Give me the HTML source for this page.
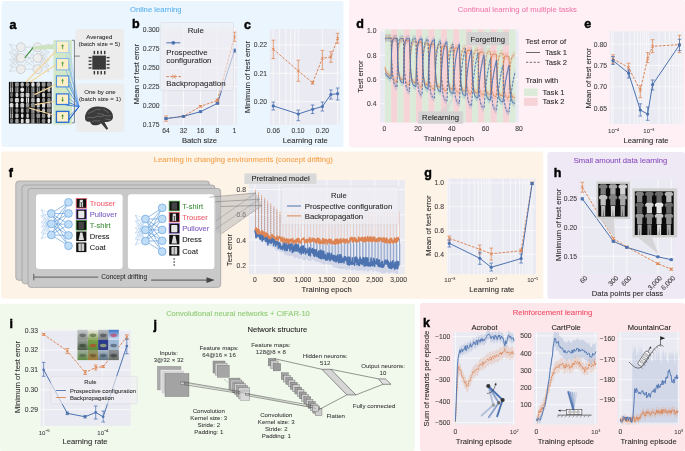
<!DOCTYPE html><html><head><meta charset="utf-8"><style>
html,body{margin:0;padding:0;background:#fff;width:685px;height:451px;overflow:hidden}
svg{display:block;will-change:transform} text{font-family:"Liberation Sans", sans-serif}
</style></head><body><svg width="685" height="451" viewBox="0 0 685 451">
<rect x="1.50" y="1.00" width="342.00" height="146.00" fill="#EAF5FE" stroke="none" stroke-width="0" rx="2.5"/>
<rect x="349.00" y="0.00" width="336.00" height="147.50" fill="#FEF0F4" stroke="none" stroke-width="0" rx="2.5"/>
<rect x="1.00" y="151.40" width="542.30" height="147.30" fill="#FEF3E7" stroke="none" stroke-width="0" rx="2.5"/>
<rect x="547.40" y="152.00" width="137.60" height="146.80" fill="#EFE8F5" stroke="none" stroke-width="0" rx="2.5"/>
<rect x="0.00" y="303.70" width="415.00" height="147.30" fill="#F1F8EC" stroke="none" stroke-width="0" rx="2.5"/>
<rect x="420.00" y="303.00" width="265.00" height="148.00" fill="#FEE7EA" stroke="none" stroke-width="0" rx="2.5"/>
<text x="155.80" y="12.17" font-size="7.7" text-anchor="middle" fill="#5BB2EC" font-weight="normal" letter-spacing="0.00" stroke="#5BB2EC" stroke-width="0.08">Online learning</text>
<text x="517.30" y="12.27" font-size="7.7" text-anchor="middle" fill="#F27BB0" font-weight="normal" letter-spacing="0.00" stroke="#F27BB0" stroke-width="0.08">Continual learning of multiple tasks</text>
<text x="243.30" y="162.37" font-size="7.7" text-anchor="middle" fill="#F5A04A" font-weight="normal" letter-spacing="0.00" stroke="#F5A04A" stroke-width="0.08">Learning in changing environments (concept drifting)</text>
<text x="620.50" y="162.77" font-size="7.7" text-anchor="middle" fill="#8A4FBF" font-weight="normal" letter-spacing="0.00" stroke="#8A4FBF" stroke-width="0.08">Small amount data learning</text>
<text x="238.00" y="315.54" font-size="7.6" text-anchor="middle" fill="#8CCB73" font-weight="normal" letter-spacing="0.00" stroke="#8CCB73" stroke-width="0.08">Convolutional neural networks + CIFAR-10</text>
<text x="552.50" y="315.37" font-size="7.7" text-anchor="middle" fill="#F04A64" font-weight="normal" letter-spacing="0.00" stroke="#F04A64" stroke-width="0.08">Reinforcement learning</text>
<text x="9.40" y="28.70" font-size="12.5" text-anchor="start" fill="#000" font-weight="bold" letter-spacing="0.00" stroke="#000" stroke-width="0.45">a</text>
<text x="132.10" y="27.70" font-size="12.5" text-anchor="start" fill="#000" font-weight="bold" letter-spacing="0.00" stroke="#000" stroke-width="0.45">b</text>
<text x="244.10" y="28.90" font-size="12.5" text-anchor="start" fill="#000" font-weight="bold" letter-spacing="0.00" stroke="#000" stroke-width="0.45">c</text>
<text x="356.30" y="27.70" font-size="12.5" text-anchor="start" fill="#000" font-weight="bold" letter-spacing="0.00" stroke="#000" stroke-width="0.45">d</text>
<text x="584.20" y="27.70" font-size="12.5" text-anchor="start" fill="#000" font-weight="bold" letter-spacing="0.00" stroke="#000" stroke-width="0.45">e</text>
<text x="8.80" y="177.30" font-size="12.5" text-anchor="start" fill="#000" font-weight="bold" letter-spacing="0.00" stroke="#000" stroke-width="0.45">f</text>
<text x="424.20" y="177.10" font-size="12.5" text-anchor="start" fill="#000" font-weight="bold" letter-spacing="0.00" stroke="#000" stroke-width="0.45">g</text>
<text x="553.80" y="177.40" font-size="12.5" text-anchor="start" fill="#000" font-weight="bold" letter-spacing="0.00" stroke="#000" stroke-width="0.45">h</text>
<text x="9.40" y="327.50" font-size="12.5" text-anchor="start" fill="#000" font-weight="bold" letter-spacing="0.00" stroke="#000" stroke-width="0.45">i</text>
<text x="153.40" y="329.00" font-size="12.5" text-anchor="start" fill="#000" font-weight="bold" letter-spacing="0.00" stroke="#000" stroke-width="0.45">j</text>
<text x="422.90" y="326.90" font-size="12.5" text-anchor="start" fill="#000" font-weight="bold" letter-spacing="0.00" stroke="#000" stroke-width="0.45">k</text>
<line x1="9.50" y1="44.00" x2="20.90" y2="47.20" stroke="#c4c4c4" stroke-width="0.4"/>
<line x1="9.50" y1="52.00" x2="20.90" y2="47.20" stroke="#c4c4c4" stroke-width="0.4"/>
<line x1="9.50" y1="60.00" x2="20.90" y2="47.20" stroke="#c4c4c4" stroke-width="0.4"/>
<line x1="9.50" y1="66.00" x2="20.90" y2="47.20" stroke="#c4c4c4" stroke-width="0.4"/>
<line x1="9.50" y1="72.00" x2="20.90" y2="47.20" stroke="#c4c4c4" stroke-width="0.4"/>
<line x1="9.50" y1="44.00" x2="20.90" y2="58.00" stroke="#c4c4c4" stroke-width="0.4"/>
<line x1="9.50" y1="52.00" x2="20.90" y2="58.00" stroke="#c4c4c4" stroke-width="0.4"/>
<line x1="9.50" y1="60.00" x2="20.90" y2="58.00" stroke="#c4c4c4" stroke-width="0.4"/>
<line x1="9.50" y1="66.00" x2="20.90" y2="58.00" stroke="#c4c4c4" stroke-width="0.4"/>
<line x1="9.50" y1="72.00" x2="20.90" y2="58.00" stroke="#c4c4c4" stroke-width="0.4"/>
<line x1="9.50" y1="44.00" x2="20.90" y2="69.20" stroke="#c4c4c4" stroke-width="0.4"/>
<line x1="9.50" y1="52.00" x2="20.90" y2="69.20" stroke="#c4c4c4" stroke-width="0.4"/>
<line x1="9.50" y1="60.00" x2="20.90" y2="69.20" stroke="#c4c4c4" stroke-width="0.4"/>
<line x1="9.50" y1="66.00" x2="20.90" y2="69.20" stroke="#c4c4c4" stroke-width="0.4"/>
<line x1="9.50" y1="72.00" x2="20.90" y2="69.20" stroke="#c4c4c4" stroke-width="0.4"/>
<line x1="37.50" y1="47.20" x2="49.00" y2="44.00" stroke="#c4c4c4" stroke-width="0.4"/>
<line x1="37.50" y1="47.20" x2="49.00" y2="52.00" stroke="#c4c4c4" stroke-width="0.4"/>
<line x1="37.50" y1="47.20" x2="49.00" y2="60.00" stroke="#c4c4c4" stroke-width="0.4"/>
<line x1="37.50" y1="47.20" x2="49.00" y2="66.00" stroke="#c4c4c4" stroke-width="0.4"/>
<line x1="37.50" y1="47.20" x2="49.00" y2="72.00" stroke="#c4c4c4" stroke-width="0.4"/>
<line x1="37.50" y1="58.00" x2="49.00" y2="44.00" stroke="#c4c4c4" stroke-width="0.4"/>
<line x1="37.50" y1="58.00" x2="49.00" y2="52.00" stroke="#c4c4c4" stroke-width="0.4"/>
<line x1="37.50" y1="58.00" x2="49.00" y2="60.00" stroke="#c4c4c4" stroke-width="0.4"/>
<line x1="37.50" y1="58.00" x2="49.00" y2="66.00" stroke="#c4c4c4" stroke-width="0.4"/>
<line x1="37.50" y1="58.00" x2="49.00" y2="72.00" stroke="#c4c4c4" stroke-width="0.4"/>
<line x1="37.50" y1="69.20" x2="49.00" y2="44.00" stroke="#c4c4c4" stroke-width="0.4"/>
<line x1="37.50" y1="69.20" x2="49.00" y2="52.00" stroke="#c4c4c4" stroke-width="0.4"/>
<line x1="37.50" y1="69.20" x2="49.00" y2="60.00" stroke="#c4c4c4" stroke-width="0.4"/>
<line x1="37.50" y1="69.20" x2="49.00" y2="66.00" stroke="#c4c4c4" stroke-width="0.4"/>
<line x1="37.50" y1="69.20" x2="49.00" y2="72.00" stroke="#c4c4c4" stroke-width="0.4"/>
<line x1="20.90" y1="47.20" x2="37.50" y2="47.20" stroke="#c2c2c2" stroke-width="0.45"/>
<line x1="20.90" y1="47.20" x2="37.50" y2="58.00" stroke="#c2c2c2" stroke-width="0.45"/>
<line x1="20.90" y1="47.20" x2="37.50" y2="69.20" stroke="#c2c2c2" stroke-width="0.45"/>
<line x1="20.90" y1="58.00" x2="37.50" y2="47.20" stroke="#c2c2c2" stroke-width="0.45"/>
<line x1="20.90" y1="58.00" x2="37.50" y2="58.00" stroke="#c2c2c2" stroke-width="0.45"/>
<line x1="20.90" y1="58.00" x2="37.50" y2="69.20" stroke="#c2c2c2" stroke-width="0.45"/>
<line x1="20.90" y1="69.20" x2="37.50" y2="47.20" stroke="#c2c2c2" stroke-width="0.45"/>
<line x1="20.90" y1="69.20" x2="37.50" y2="58.00" stroke="#c2c2c2" stroke-width="0.45"/>
<line x1="20.90" y1="69.20" x2="37.50" y2="69.20" stroke="#c2c2c2" stroke-width="0.45"/>
<circle cx="20.90" cy="47.20" r="4.4" fill="#ededed" stroke="#bcbcbc" stroke-width="0.6"/>
<circle cx="20.90" cy="58.00" r="4.4" fill="#ededed" stroke="#bcbcbc" stroke-width="0.6"/>
<circle cx="20.90" cy="69.20" r="4.4" fill="#ededed" stroke="#bcbcbc" stroke-width="0.6"/>
<circle cx="37.50" cy="47.20" r="4.4" fill="#ededed" stroke="#bcbcbc" stroke-width="0.6"/>
<circle cx="37.50" cy="58.00" r="4.4" fill="#ededed" stroke="#bcbcbc" stroke-width="0.6"/>
<circle cx="37.50" cy="69.20" r="4.4" fill="#ededed" stroke="#bcbcbc" stroke-width="0.6"/>
<line x1="24.80" y1="58.00" x2="33.40" y2="47.20" stroke="#3a8a30" stroke-width="1.1"/>
<polygon points="33.0,46.5 57.0,44.0 57.0,49.0 33.0,49.5" fill="#cde3bf" stroke="none" stroke-width="0"/>
<rect x="53.50" y="39.90" width="18.50" height="84.80" fill="#d3e8c6" stroke="none" stroke-width="0" rx="0"/>
<rect x="8.90" y="81.90" width="42.70" height="41.60" fill="#0a0a0a" stroke="none" stroke-width="0" rx="0"/>
<rect x="10.07" y="82.10" width="1.25" height="5.00" fill="rgb(140,140,140)" stroke="none" stroke-width="0" rx="0"/>
<rect x="11.82" y="82.10" width="1.25" height="5.00" fill="rgb(140,140,140)" stroke="none" stroke-width="0" rx="0"/>
<rect x="10.07" y="87.30" width="1.25" height="5.00" fill="rgb(188,188,188)" stroke="none" stroke-width="0" rx="0"/>
<rect x="11.82" y="87.30" width="1.25" height="5.00" fill="rgb(188,188,188)" stroke="none" stroke-width="0" rx="0"/>
<ellipse cx="11.57" cy="94.90" rx="1.48" ry="2.30" fill="rgb(111,111,111)"/>
<ellipse cx="11.57" cy="100.10" rx="1.63" ry="2.30" fill="rgb(140,140,140)"/>
<rect x="9.82" y="103.10" width="3.49" height="4.50" fill="rgb(218,218,218)" stroke="none" stroke-width="0" rx="1.2"/>
<rect x="10.07" y="108.10" width="1.25" height="5.00" fill="rgb(129,129,129)" stroke="none" stroke-width="0" rx="0"/>
<rect x="11.82" y="108.10" width="1.25" height="5.00" fill="rgb(129,129,129)" stroke="none" stroke-width="0" rx="0"/>
<rect x="10.07" y="113.30" width="1.25" height="5.00" fill="rgb(178,178,178)" stroke="none" stroke-width="0" rx="0"/>
<rect x="11.82" y="113.30" width="1.25" height="5.00" fill="rgb(178,178,178)" stroke="none" stroke-width="0" rx="0"/>
<ellipse cx="11.57" cy="120.90" rx="1.71" ry="2.30" fill="rgb(118,118,118)"/>
<rect x="15.00" y="82.30" width="3.81" height="4.50" fill="rgb(149,149,149)" stroke="none" stroke-width="0" rx="1.2"/>
<rect x="15.41" y="87.30" width="1.25" height="5.00" fill="rgb(171,171,171)" stroke="none" stroke-width="0" rx="0"/>
<rect x="17.16" y="87.30" width="1.25" height="5.00" fill="rgb(171,171,171)" stroke="none" stroke-width="0" rx="0"/>
<ellipse cx="16.91" cy="94.90" rx="1.58" ry="2.30" fill="rgb(202,202,202)"/>
<rect x="14.95" y="97.90" width="3.91" height="4.50" fill="rgb(214,214,214)" stroke="none" stroke-width="0" rx="1.2"/>
<rect x="15.51" y="103.10" width="2.79" height="4.50" fill="rgb(224,224,224)" stroke="none" stroke-width="0" rx="1.2"/>
<ellipse cx="16.91" cy="110.50" rx="1.61" ry="2.30" fill="rgb(138,138,138)"/>
<rect x="15.25" y="113.50" width="3.31" height="4.50" fill="rgb(191,191,191)" stroke="none" stroke-width="0" rx="1.2"/>
<rect x="15.20" y="118.70" width="3.42" height="4.50" fill="rgb(160,160,160)" stroke="none" stroke-width="0" rx="1.2"/>
<ellipse cx="22.24" cy="84.50" rx="1.78" ry="2.30" fill="rgb(185,185,185)"/>
<ellipse cx="22.24" cy="89.70" rx="1.99" ry="2.30" fill="rgb(230,230,230)"/>
<rect x="20.34" y="92.70" width="3.80" height="4.50" fill="rgb(197,197,197)" stroke="none" stroke-width="0" rx="1.2"/>
<ellipse cx="22.24" cy="100.10" rx="1.70" ry="2.30" fill="rgb(235,235,235)"/>
<rect x="20.36" y="103.10" width="3.76" height="4.50" fill="rgb(202,202,202)" stroke="none" stroke-width="0" rx="1.2"/>
<rect x="20.90" y="108.30" width="2.69" height="4.50" fill="rgb(184,184,184)" stroke="none" stroke-width="0" rx="1.2"/>
<ellipse cx="22.24" cy="115.70" rx="1.36" ry="2.30" fill="rgb(221,221,221)"/>
<rect x="20.84" y="118.70" width="2.81" height="4.50" fill="rgb(214,214,214)" stroke="none" stroke-width="0" rx="1.2"/>
<ellipse cx="27.58" cy="84.50" rx="1.91" ry="2.30" fill="rgb(148,148,148)"/>
<rect x="26.08" y="87.30" width="1.25" height="5.00" fill="rgb(115,115,115)" stroke="none" stroke-width="0" rx="0"/>
<rect x="27.83" y="87.30" width="1.25" height="5.00" fill="rgb(115,115,115)" stroke="none" stroke-width="0" rx="0"/>
<rect x="25.66" y="92.70" width="3.83" height="4.50" fill="rgb(203,203,203)" stroke="none" stroke-width="0" rx="1.2"/>
<rect x="26.08" y="97.70" width="1.25" height="5.00" fill="rgb(237,237,237)" stroke="none" stroke-width="0" rx="0"/>
<rect x="27.83" y="97.70" width="1.25" height="5.00" fill="rgb(237,237,237)" stroke="none" stroke-width="0" rx="0"/>
<rect x="25.86" y="103.10" width="3.44" height="4.50" fill="rgb(150,150,150)" stroke="none" stroke-width="0" rx="1.2"/>
<rect x="26.00" y="108.30" width="3.17" height="4.50" fill="rgb(114,114,114)" stroke="none" stroke-width="0" rx="1.2"/>
<rect x="26.25" y="113.50" width="2.66" height="4.50" fill="rgb(189,189,189)" stroke="none" stroke-width="0" rx="1.2"/>
<rect x="25.61" y="118.70" width="3.94" height="4.50" fill="rgb(222,222,222)" stroke="none" stroke-width="0" rx="1.2"/>
<rect x="31.30" y="82.30" width="3.24" height="4.50" fill="rgb(226,226,226)" stroke="none" stroke-width="0" rx="1.2"/>
<rect x="31.42" y="87.30" width="1.25" height="5.00" fill="rgb(177,177,177)" stroke="none" stroke-width="0" rx="0"/>
<rect x="33.17" y="87.30" width="1.25" height="5.00" fill="rgb(177,177,177)" stroke="none" stroke-width="0" rx="0"/>
<rect x="31.42" y="92.50" width="1.25" height="5.00" fill="rgb(182,182,182)" stroke="none" stroke-width="0" rx="0"/>
<rect x="33.17" y="92.50" width="1.25" height="5.00" fill="rgb(182,182,182)" stroke="none" stroke-width="0" rx="0"/>
<rect x="31.11" y="97.90" width="3.61" height="4.50" fill="rgb(175,175,175)" stroke="none" stroke-width="0" rx="1.2"/>
<rect x="30.93" y="103.10" width="3.97" height="4.50" fill="rgb(140,140,140)" stroke="none" stroke-width="0" rx="1.2"/>
<rect x="31.42" y="108.10" width="1.25" height="5.00" fill="rgb(177,177,177)" stroke="none" stroke-width="0" rx="0"/>
<rect x="33.17" y="108.10" width="1.25" height="5.00" fill="rgb(177,177,177)" stroke="none" stroke-width="0" rx="0"/>
<rect x="31.42" y="113.30" width="1.25" height="5.00" fill="rgb(163,163,163)" stroke="none" stroke-width="0" rx="0"/>
<rect x="33.17" y="113.30" width="1.25" height="5.00" fill="rgb(163,163,163)" stroke="none" stroke-width="0" rx="0"/>
<rect x="31.42" y="118.50" width="1.25" height="5.00" fill="rgb(190,190,190)" stroke="none" stroke-width="0" rx="0"/>
<rect x="33.17" y="118.50" width="1.25" height="5.00" fill="rgb(190,190,190)" stroke="none" stroke-width="0" rx="0"/>
<rect x="36.48" y="82.30" width="3.55" height="4.50" fill="rgb(191,191,191)" stroke="none" stroke-width="0" rx="1.2"/>
<rect x="36.76" y="87.30" width="1.25" height="5.00" fill="rgb(155,155,155)" stroke="none" stroke-width="0" rx="0"/>
<rect x="38.51" y="87.30" width="1.25" height="5.00" fill="rgb(155,155,155)" stroke="none" stroke-width="0" rx="0"/>
<rect x="36.48" y="92.70" width="3.55" height="4.50" fill="rgb(112,112,112)" stroke="none" stroke-width="0" rx="1.2"/>
<rect x="36.64" y="97.90" width="3.24" height="4.50" fill="rgb(235,235,235)" stroke="none" stroke-width="0" rx="1.2"/>
<rect x="36.70" y="103.10" width="3.11" height="4.50" fill="rgb(187,187,187)" stroke="none" stroke-width="0" rx="1.2"/>
<rect x="36.54" y="108.30" width="3.43" height="4.50" fill="rgb(150,150,150)" stroke="none" stroke-width="0" rx="1.2"/>
<rect x="36.42" y="113.50" width="3.68" height="4.50" fill="rgb(149,149,149)" stroke="none" stroke-width="0" rx="1.2"/>
<rect x="36.76" y="118.50" width="1.25" height="5.00" fill="rgb(113,113,113)" stroke="none" stroke-width="0" rx="0"/>
<rect x="38.51" y="118.50" width="1.25" height="5.00" fill="rgb(113,113,113)" stroke="none" stroke-width="0" rx="0"/>
<rect x="41.73" y="82.30" width="3.73" height="4.50" fill="rgb(150,150,150)" stroke="none" stroke-width="0" rx="1.2"/>
<rect x="41.99" y="87.50" width="3.21" height="4.50" fill="rgb(141,141,141)" stroke="none" stroke-width="0" rx="1.2"/>
<rect x="42.07" y="92.70" width="3.05" height="4.50" fill="rgb(200,200,200)" stroke="none" stroke-width="0" rx="1.2"/>
<ellipse cx="43.59" cy="100.10" rx="1.61" ry="2.30" fill="rgb(153,153,153)"/>
<rect x="42.06" y="103.10" width="3.07" height="4.50" fill="rgb(221,221,221)" stroke="none" stroke-width="0" rx="1.2"/>
<ellipse cx="43.59" cy="110.50" rx="1.62" ry="2.30" fill="rgb(194,194,194)"/>
<rect x="41.92" y="113.50" width="3.34" height="4.50" fill="rgb(139,139,139)" stroke="none" stroke-width="0" rx="1.2"/>
<ellipse cx="43.59" cy="120.90" rx="1.89" ry="2.30" fill="rgb(134,134,134)"/>
<rect x="47.07" y="82.30" width="3.73" height="4.50" fill="rgb(133,133,133)" stroke="none" stroke-width="0" rx="1.2"/>
<ellipse cx="48.93" cy="89.70" rx="1.54" ry="2.30" fill="rgb(193,193,193)"/>
<rect x="47.08" y="92.70" width="3.71" height="4.50" fill="rgb(126,126,126)" stroke="none" stroke-width="0" rx="1.2"/>
<rect x="47.34" y="97.90" width="3.18" height="4.50" fill="rgb(145,145,145)" stroke="none" stroke-width="0" rx="1.2"/>
<rect x="46.99" y="103.10" width="3.89" height="4.50" fill="rgb(164,164,164)" stroke="none" stroke-width="0" rx="1.2"/>
<rect x="46.97" y="108.30" width="3.92" height="4.50" fill="rgb(130,130,130)" stroke="none" stroke-width="0" rx="1.2"/>
<ellipse cx="48.93" cy="115.70" rx="1.60" ry="2.30" fill="rgb(224,224,224)"/>
<ellipse cx="48.93" cy="120.90" rx="1.46" ry="2.30" fill="rgb(233,233,233)"/>
<line x1="26.00" y1="82.00" x2="57.00" y2="50.00" stroke="#f3d79c" stroke-width="1.2"/>
<line x1="30.00" y1="82.00" x2="57.00" y2="64.00" stroke="#f3d79c" stroke-width="1.2"/>
<line x1="34.40" y1="94.60" x2="57.00" y2="84.00" stroke="#f3d79c" stroke-width="1.2"/>
<line x1="35.00" y1="104.60" x2="57.00" y2="101.00" stroke="#f3d79c" stroke-width="1.2"/>
<line x1="28.90" y1="108.00" x2="57.00" y2="116.00" stroke="#f3d79c" stroke-width="1.2"/>
<rect x="75.30" y="29.00" width="48.60" height="50.60" fill="#ececec" stroke="none" stroke-width="0" rx="3"/>
<rect x="75.90" y="83.50" width="48.40" height="48.50" fill="#ececec" stroke="none" stroke-width="0" rx="3"/>
<line x1="68.80" y1="50.60" x2="79.00" y2="106.70" stroke="#a9cdf2" stroke-width="0.6"/>
<line x1="66.00" y1="53.10" x2="79.00" y2="106.70" stroke="#a9cdf2" stroke-width="0.6"/>
<line x1="69.00" y1="45.60" x2="79.00" y2="106.70" stroke="#a9cdf2" stroke-width="0.5"/>
<line x1="68.80" y1="67.90" x2="79.00" y2="106.70" stroke="#7fb2ec" stroke-width="0.7"/>
<line x1="66.00" y1="70.40" x2="79.00" y2="106.70" stroke="#7fb2ec" stroke-width="0.7"/>
<line x1="69.00" y1="63.00" x2="79.00" y2="106.70" stroke="#7fb2ec" stroke-width="0.5"/>
<line x1="68.80" y1="84.90" x2="79.00" y2="106.70" stroke="#4a8fe2" stroke-width="0.8"/>
<line x1="66.00" y1="87.40" x2="79.00" y2="106.70" stroke="#4a8fe2" stroke-width="0.8"/>
<line x1="69.00" y1="80.40" x2="79.00" y2="106.70" stroke="#4a8fe2" stroke-width="0.5"/>
<line x1="68.80" y1="102.50" x2="79.00" y2="106.70" stroke="#3378dc" stroke-width="0.9"/>
<line x1="66.00" y1="105.00" x2="79.00" y2="106.70" stroke="#3378dc" stroke-width="0.9"/>
<line x1="69.00" y1="98.40" x2="79.00" y2="106.70" stroke="#3378dc" stroke-width="0.5"/>
<line x1="68.80" y1="120.30" x2="79.00" y2="106.70" stroke="#2a6cd4" stroke-width="1.0"/>
<line x1="66.00" y1="122.80" x2="79.00" y2="106.70" stroke="#2a6cd4" stroke-width="1.0"/>
<line x1="69.00" y1="115.90" x2="79.00" y2="106.70" stroke="#2a6cd4" stroke-width="0.5"/>
<rect x="56.40" y="41.10" width="12.40" height="11.50" fill="#fdf0c8" stroke="#a9cdf2" stroke-width="0.95" rx="0"/>
<polygon points="61.2,46.2 64.0,46.2 62.6,44.2" fill="#3a8a30" stroke="none" stroke-width="0"/>
<line x1="62.60" y1="46.25" x2="62.60" y2="49.05" stroke="#3a8a30" stroke-width="0.8"/>
<rect x="56.40" y="58.50" width="12.40" height="11.40" fill="#fdf0c8" stroke="#7fb2ec" stroke-width="1.0499999999999998" rx="0"/>
<polygon points="61.2,63.6 64.0,63.6 62.6,61.6" fill="#3a8a30" stroke="none" stroke-width="0"/>
<line x1="62.60" y1="63.60" x2="62.60" y2="66.40" stroke="#3a8a30" stroke-width="0.8"/>
<rect x="56.40" y="75.90" width="12.40" height="11.00" fill="#fdf0c8" stroke="#4a8fe2" stroke-width="1.15" rx="0"/>
<polygon points="61.2,80.8 64.0,80.8 62.6,78.8" fill="#3a8a30" stroke="none" stroke-width="0"/>
<line x1="62.60" y1="80.80" x2="62.60" y2="83.60" stroke="#3a8a30" stroke-width="0.8"/>
<rect x="56.40" y="93.90" width="12.40" height="10.60" fill="#fdf0c8" stroke="#3378dc" stroke-width="1.25" rx="0"/>
<polygon points="61.2,99.8 64.0,99.8 62.6,101.8" fill="#3a8a30" stroke="none" stroke-width="0"/>
<line x1="62.60" y1="99.80" x2="62.60" y2="97.00" stroke="#3a8a30" stroke-width="0.8"/>
<rect x="56.40" y="111.40" width="12.40" height="10.90" fill="#fdf0c8" stroke="#2a6cd4" stroke-width="1.35" rx="0"/>
<polygon points="61.2,116.2 64.0,116.2 62.6,114.2" fill="#3a8a30" stroke="none" stroke-width="0"/>
<line x1="62.60" y1="116.25" x2="62.60" y2="119.05" stroke="#3a8a30" stroke-width="0.8"/>
<polyline points="72.0,40.3 74.4,40.3 74.4,122.8 72.0,122.8" fill="none" stroke="#555" stroke-width="0.7" stroke-linejoin="round"/>
<line x1="74.40" y1="56.10" x2="79.90" y2="56.10" stroke="#555" stroke-width="0.7"/>
<text x="99.30" y="39.40" font-size="6.1" text-anchor="middle" fill="#2b2b2b" font-weight="normal" letter-spacing="0.00" stroke="#2b2b2b" stroke-width="0.05">Averaged</text>
<text x="99.30" y="46.40" font-size="6.1" text-anchor="middle" fill="#2b2b2b" font-weight="normal" letter-spacing="0.00" stroke="#2b2b2b" stroke-width="0.05">(batch size = 5)</text>
<text x="100.00" y="94.00" font-size="6.1" text-anchor="middle" fill="#2b2b2b" font-weight="normal" letter-spacing="0.00" stroke="#2b2b2b" stroke-width="0.05">One by one</text>
<text x="100.00" y="101.00" font-size="6.1" text-anchor="middle" fill="#2b2b2b" font-weight="normal" letter-spacing="0.00" stroke="#2b2b2b" stroke-width="0.05">(batch size = 1)</text>
<rect x="92.30" y="55.60" width="13.60" height="14.00" fill="#3a3a3a" stroke="none" stroke-width="0" rx="0"/>
<rect x="93.60" y="50.80" width="1.50" height="3.40" fill="#3a3a3a" stroke="none" stroke-width="0" rx="0"/>
<rect x="93.60" y="71.00" width="1.50" height="3.40" fill="#3a3a3a" stroke="none" stroke-width="0" rx="0"/>
<rect x="88.60" y="56.90" width="3.00" height="1.40" fill="#3a3a3a" stroke="none" stroke-width="0" rx="0"/>
<rect x="106.60" y="56.90" width="3.00" height="1.40" fill="#3a3a3a" stroke="none" stroke-width="0" rx="0"/>
<rect x="97.05" y="50.80" width="1.50" height="3.40" fill="#3a3a3a" stroke="none" stroke-width="0" rx="0"/>
<rect x="97.05" y="71.00" width="1.50" height="3.40" fill="#3a3a3a" stroke="none" stroke-width="0" rx="0"/>
<rect x="88.60" y="60.35" width="3.00" height="1.40" fill="#3a3a3a" stroke="none" stroke-width="0" rx="0"/>
<rect x="106.60" y="60.35" width="3.00" height="1.40" fill="#3a3a3a" stroke="none" stroke-width="0" rx="0"/>
<rect x="100.50" y="50.80" width="1.50" height="3.40" fill="#3a3a3a" stroke="none" stroke-width="0" rx="0"/>
<rect x="100.50" y="71.00" width="1.50" height="3.40" fill="#3a3a3a" stroke="none" stroke-width="0" rx="0"/>
<rect x="88.60" y="63.80" width="3.00" height="1.40" fill="#3a3a3a" stroke="none" stroke-width="0" rx="0"/>
<rect x="106.60" y="63.80" width="3.00" height="1.40" fill="#3a3a3a" stroke="none" stroke-width="0" rx="0"/>
<rect x="103.95" y="50.80" width="1.50" height="3.40" fill="#3a3a3a" stroke="none" stroke-width="0" rx="0"/>
<rect x="103.95" y="71.00" width="1.50" height="3.40" fill="#3a3a3a" stroke="none" stroke-width="0" rx="0"/>
<rect x="88.60" y="67.25" width="3.00" height="1.40" fill="#3a3a3a" stroke="none" stroke-width="0" rx="0"/>
<rect x="106.60" y="67.25" width="3.00" height="1.40" fill="#3a3a3a" stroke="none" stroke-width="0" rx="0"/>
<path d="M85.2,119.5 C84,113 89,106.6 97.5,106.6 C105,106.4 112.8,109.5 113,116.5 C113.2,120.5 109.5,122.2 104.5,122 L108.2,128.8 L106.6,129.8 L101,123.2 C99.5,125 96.5,125.6 93.8,125.2 C91.5,124.8 90.2,123.2 90.2,121.8 C87.5,122 85.8,121 85.2,119.5 Z" fill="#3b3b3b"/>
<path d="M88,114 C90,111 93,113 95,110 C97,108 99,111 101,109 M103,108.5 C104,111 107,110 108,113 M87,118 C90,116 92,119 95,117 C98,115 100,118 103,116 C105,114.5 108,117 111,115.5 M92,121.5 C95,120 97,122 100,120.5 M97,113 C99,115 102,113 104,115 M105,118.5 C107,120 109,119 111,120" stroke="#9a9a9a" stroke-width="0.45" fill="none"/>
<rect x="162.30" y="28.00" width="74.90" height="97.20" fill="#EAEAF2" stroke="none" stroke-width="0" rx="0"/>
<line x1="162.30" y1="105.60" x2="237.20" y2="105.60" stroke="#ffffff" stroke-width="0.7"/>
<line x1="162.30" y1="86.50" x2="237.20" y2="86.50" stroke="#ffffff" stroke-width="0.7"/>
<line x1="162.30" y1="67.40" x2="237.20" y2="67.40" stroke="#ffffff" stroke-width="0.7"/>
<line x1="162.30" y1="48.30" x2="237.20" y2="48.30" stroke="#ffffff" stroke-width="0.7"/>
<line x1="162.30" y1="29.20" x2="237.20" y2="29.20" stroke="#ffffff" stroke-width="0.7"/>
<line x1="166.00" y1="28.00" x2="166.00" y2="125.20" stroke="#ffffff" stroke-width="0.7"/>
<line x1="183.50" y1="28.00" x2="183.50" y2="125.20" stroke="#ffffff" stroke-width="0.7"/>
<line x1="200.50" y1="28.00" x2="200.50" y2="125.20" stroke="#ffffff" stroke-width="0.7"/>
<line x1="217.50" y1="28.00" x2="217.50" y2="125.20" stroke="#ffffff" stroke-width="0.7"/>
<line x1="234.40" y1="28.00" x2="234.40" y2="125.20" stroke="#ffffff" stroke-width="0.7"/>
<text x="159.60" y="127.13" font-size="6.75" text-anchor="end" fill="#3c3c3c" font-weight="normal" letter-spacing="0.00" stroke="#3c3c3c" stroke-width="0.08">0.175</text>
<text x="159.60" y="108.03" font-size="6.75" text-anchor="end" fill="#3c3c3c" font-weight="normal" letter-spacing="0.00" stroke="#3c3c3c" stroke-width="0.08">0.200</text>
<text x="159.60" y="88.93" font-size="6.75" text-anchor="end" fill="#3c3c3c" font-weight="normal" letter-spacing="0.00" stroke="#3c3c3c" stroke-width="0.08">0.225</text>
<text x="159.60" y="69.83" font-size="6.75" text-anchor="end" fill="#3c3c3c" font-weight="normal" letter-spacing="0.00" stroke="#3c3c3c" stroke-width="0.08">0.250</text>
<text x="159.60" y="50.73" font-size="6.75" text-anchor="end" fill="#3c3c3c" font-weight="normal" letter-spacing="0.00" stroke="#3c3c3c" stroke-width="0.08">0.275</text>
<text x="159.60" y="31.63" font-size="6.75" text-anchor="end" fill="#3c3c3c" font-weight="normal" letter-spacing="0.00" stroke="#3c3c3c" stroke-width="0.08">0.300</text>
<text x="166.00" y="133.23" font-size="6.75" text-anchor="middle" fill="#3c3c3c" font-weight="normal" letter-spacing="0.00" stroke="#3c3c3c" stroke-width="0.08">64</text>
<text x="183.50" y="133.23" font-size="6.75" text-anchor="middle" fill="#3c3c3c" font-weight="normal" letter-spacing="0.00" stroke="#3c3c3c" stroke-width="0.08">32</text>
<text x="200.50" y="133.23" font-size="6.75" text-anchor="middle" fill="#3c3c3c" font-weight="normal" letter-spacing="0.00" stroke="#3c3c3c" stroke-width="0.08">16</text>
<text x="217.50" y="133.23" font-size="6.75" text-anchor="middle" fill="#3c3c3c" font-weight="normal" letter-spacing="0.00" stroke="#3c3c3c" stroke-width="0.08">8</text>
<text x="234.40" y="133.23" font-size="6.75" text-anchor="middle" fill="#3c3c3c" font-weight="normal" letter-spacing="0.00" stroke="#3c3c3c" stroke-width="0.08">1</text>
<text x="199.50" y="143.05" font-size="7.65" text-anchor="middle" fill="#2b2b2b" font-weight="normal" letter-spacing="0.00" stroke="#2b2b2b" stroke-width="0.08">Batch size</text>
<text x="136.00" y="76.75" font-size="7.65" text-anchor="middle" fill="#2b2b2b" font-weight="normal" letter-spacing="0.00" stroke="#2b2b2b" stroke-width="0.08" transform="rotate(-90 136.00 74.00)">Mean of test error</text>
<polyline points="166.0,118.6 183.5,116.3 200.5,106.4 217.5,100.3 234.4,36.8" fill="none" stroke="#DD8452" stroke-width="1.0" stroke-linejoin="round" stroke-dasharray="2.6,1.4"/>
<polyline points="166.0,118.6 183.5,116.3 200.5,111.7 217.5,103.3 234.4,50.6" fill="none" stroke="#4C72B0" stroke-width="1.0" stroke-linejoin="round"/>
<line x1="166.00" y1="115.91" x2="166.00" y2="121.26" stroke="#DD8452" stroke-width="0.75"/>
<line x1="164.20" y1="115.91" x2="167.80" y2="115.91" stroke="#DD8452" stroke-width="0.75"/>
<line x1="164.20" y1="121.26" x2="167.80" y2="121.26" stroke="#DD8452" stroke-width="0.75"/>
<line x1="164.60" y1="117.19" x2="167.40" y2="119.99" stroke="#DD8452" stroke-width="0.8"/>
<line x1="164.60" y1="119.99" x2="167.40" y2="117.19" stroke="#DD8452" stroke-width="0.8"/>
<line x1="183.50" y1="115.53" x2="183.50" y2="117.06" stroke="#DD8452" stroke-width="0.75"/>
<line x1="181.70" y1="115.53" x2="185.30" y2="115.53" stroke="#DD8452" stroke-width="0.75"/>
<line x1="181.70" y1="117.06" x2="185.30" y2="117.06" stroke="#DD8452" stroke-width="0.75"/>
<line x1="182.10" y1="114.90" x2="184.90" y2="117.70" stroke="#DD8452" stroke-width="0.8"/>
<line x1="182.10" y1="117.70" x2="184.90" y2="114.90" stroke="#DD8452" stroke-width="0.8"/>
<line x1="200.50" y1="105.60" x2="200.50" y2="107.13" stroke="#DD8452" stroke-width="0.75"/>
<line x1="198.70" y1="105.60" x2="202.30" y2="105.60" stroke="#DD8452" stroke-width="0.75"/>
<line x1="198.70" y1="107.13" x2="202.30" y2="107.13" stroke="#DD8452" stroke-width="0.75"/>
<line x1="199.10" y1="104.96" x2="201.90" y2="107.76" stroke="#DD8452" stroke-width="0.8"/>
<line x1="199.10" y1="107.76" x2="201.90" y2="104.96" stroke="#DD8452" stroke-width="0.8"/>
<line x1="217.50" y1="99.11" x2="217.50" y2="101.40" stroke="#DD8452" stroke-width="0.75"/>
<line x1="215.70" y1="99.11" x2="219.30" y2="99.11" stroke="#DD8452" stroke-width="0.75"/>
<line x1="215.70" y1="101.40" x2="219.30" y2="101.40" stroke="#DD8452" stroke-width="0.75"/>
<line x1="216.10" y1="98.85" x2="218.90" y2="101.65" stroke="#DD8452" stroke-width="0.8"/>
<line x1="216.10" y1="101.65" x2="218.90" y2="98.85" stroke="#DD8452" stroke-width="0.8"/>
<line x1="234.40" y1="32.26" x2="234.40" y2="41.42" stroke="#DD8452" stroke-width="0.75"/>
<line x1="232.60" y1="32.26" x2="236.20" y2="32.26" stroke="#DD8452" stroke-width="0.75"/>
<line x1="232.60" y1="41.42" x2="236.20" y2="41.42" stroke="#DD8452" stroke-width="0.75"/>
<line x1="233.00" y1="35.44" x2="235.80" y2="38.24" stroke="#DD8452" stroke-width="0.8"/>
<line x1="233.00" y1="38.24" x2="235.80" y2="35.44" stroke="#DD8452" stroke-width="0.8"/>
<line x1="166.00" y1="117.82" x2="166.00" y2="119.35" stroke="#4C72B0" stroke-width="0.75"/>
<line x1="164.20" y1="117.82" x2="167.80" y2="117.82" stroke="#4C72B0" stroke-width="0.75"/>
<line x1="164.20" y1="119.35" x2="167.80" y2="119.35" stroke="#4C72B0" stroke-width="0.75"/>
<circle cx="166.00" cy="118.59" r="1.6" fill="#4C72B0" stroke="none" stroke-width="0"/>
<line x1="183.50" y1="115.53" x2="183.50" y2="117.06" stroke="#4C72B0" stroke-width="0.75"/>
<line x1="181.70" y1="115.53" x2="185.30" y2="115.53" stroke="#4C72B0" stroke-width="0.75"/>
<line x1="181.70" y1="117.06" x2="185.30" y2="117.06" stroke="#4C72B0" stroke-width="0.75"/>
<circle cx="183.50" cy="116.30" r="1.6" fill="#4C72B0" stroke="none" stroke-width="0"/>
<line x1="200.50" y1="110.95" x2="200.50" y2="112.48" stroke="#4C72B0" stroke-width="0.75"/>
<line x1="198.70" y1="110.95" x2="202.30" y2="110.95" stroke="#4C72B0" stroke-width="0.75"/>
<line x1="198.70" y1="112.48" x2="202.30" y2="112.48" stroke="#4C72B0" stroke-width="0.75"/>
<circle cx="200.50" cy="111.71" r="1.6" fill="#4C72B0" stroke="none" stroke-width="0"/>
<line x1="217.50" y1="102.54" x2="217.50" y2="104.07" stroke="#4C72B0" stroke-width="0.75"/>
<line x1="215.70" y1="102.54" x2="219.30" y2="102.54" stroke="#4C72B0" stroke-width="0.75"/>
<line x1="215.70" y1="104.07" x2="219.30" y2="104.07" stroke="#4C72B0" stroke-width="0.75"/>
<circle cx="217.50" cy="103.31" r="1.6" fill="#4C72B0" stroke="none" stroke-width="0"/>
<line x1="234.40" y1="49.06" x2="234.40" y2="52.12" stroke="#4C72B0" stroke-width="0.75"/>
<line x1="232.60" y1="49.06" x2="236.20" y2="49.06" stroke="#4C72B0" stroke-width="0.75"/>
<line x1="232.60" y1="52.12" x2="236.20" y2="52.12" stroke="#4C72B0" stroke-width="0.75"/>
<circle cx="234.40" cy="50.59" r="1.6" fill="#4C72B0" stroke="none" stroke-width="0"/>
<rect x="160.30" y="22.50" width="73.20" height="68.20" fill="#EEEEF4" stroke="#d6d6de" stroke-width="0.5" rx="1.5" fill-opacity="0.6"/>
<text x="195.80" y="33.14" font-size="7.9" text-anchor="middle" fill="#2b2b2b" font-weight="normal" letter-spacing="0.00" stroke="#2b2b2b" stroke-width="0.08">Rule</text>
<line x1="166.30" y1="42.80" x2="180.30" y2="42.80" stroke="#4C72B0" stroke-width="1.0"/>
<circle cx="173.30" cy="42.80" r="1.9" fill="#4C72B0" stroke="none" stroke-width="0"/>
<text x="166.30" y="54.84" font-size="7.9" text-anchor="start" fill="#2b2b2b" font-weight="normal" letter-spacing="0.00" stroke="#2b2b2b" stroke-width="0.08">Prospective</text>
<text x="166.30" y="63.24" font-size="7.9" text-anchor="start" fill="#2b2b2b" font-weight="normal" letter-spacing="0.00" stroke="#2b2b2b" stroke-width="0.08">configuration</text>
<line x1="166.30" y1="76.60" x2="182.00" y2="76.60" stroke="#DD8452" stroke-width="1.0" stroke-dasharray="2.6,1.4"/>
<line x1="172.20" y1="74.80" x2="175.80" y2="78.40" stroke="#DD8452" stroke-width="0.9"/>
<line x1="172.20" y1="78.40" x2="175.80" y2="74.80" stroke="#DD8452" stroke-width="0.9"/>
<text x="166.30" y="86.44" font-size="7.9" text-anchor="start" fill="#2b2b2b" font-weight="normal" letter-spacing="0.00" stroke="#2b2b2b" stroke-width="0.08">Backpropagation</text>
<rect x="269.90" y="29.00" width="70.10" height="95.80" fill="#EAEAF2" stroke="none" stroke-width="0" rx="0"/>
<line x1="269.90" y1="101.70" x2="340.00" y2="101.70" stroke="#ffffff" stroke-width="0.7"/>
<line x1="269.90" y1="73.30" x2="340.00" y2="73.30" stroke="#ffffff" stroke-width="0.7"/>
<line x1="269.90" y1="44.90" x2="340.00" y2="44.90" stroke="#ffffff" stroke-width="0.7"/>
<line x1="273.20" y1="29.00" x2="273.20" y2="124.80" stroke="#ffffff" stroke-width="0.7"/>
<line x1="279.70" y1="29.00" x2="279.70" y2="124.80" stroke="#ffffff" stroke-width="0.7"/>
<line x1="285.80" y1="29.00" x2="285.80" y2="124.80" stroke="#ffffff" stroke-width="0.7"/>
<line x1="290.70" y1="29.00" x2="290.70" y2="124.80" stroke="#ffffff" stroke-width="0.7"/>
<line x1="294.90" y1="29.00" x2="294.90" y2="124.80" stroke="#ffffff" stroke-width="0.7"/>
<line x1="298.30" y1="29.00" x2="298.30" y2="124.80" stroke="#ffffff" stroke-width="0.7"/>
<line x1="322.40" y1="29.00" x2="322.40" y2="124.80" stroke="#ffffff" stroke-width="0.7"/>
<line x1="337.60" y1="29.00" x2="337.60" y2="124.80" stroke="#ffffff" stroke-width="0.7"/>
<text x="267.00" y="104.13" font-size="6.75" text-anchor="end" fill="#3c3c3c" font-weight="normal" letter-spacing="0.00" stroke="#3c3c3c" stroke-width="0.08">0.20</text>
<text x="267.00" y="75.73" font-size="6.75" text-anchor="end" fill="#3c3c3c" font-weight="normal" letter-spacing="0.00" stroke="#3c3c3c" stroke-width="0.08">0.21</text>
<text x="267.00" y="47.33" font-size="6.75" text-anchor="end" fill="#3c3c3c" font-weight="normal" letter-spacing="0.00" stroke="#3c3c3c" stroke-width="0.08">0.22</text>
<text x="273.40" y="132.83" font-size="6.75" text-anchor="middle" fill="#3c3c3c" font-weight="normal" letter-spacing="0.00" stroke="#3c3c3c" stroke-width="0.08">0.06</text>
<text x="298.00" y="132.83" font-size="6.75" text-anchor="middle" fill="#3c3c3c" font-weight="normal" letter-spacing="0.00" stroke="#3c3c3c" stroke-width="0.08">0.10</text>
<text x="322.40" y="132.83" font-size="6.75" text-anchor="middle" fill="#3c3c3c" font-weight="normal" letter-spacing="0.00" stroke="#3c3c3c" stroke-width="0.08">0.20</text>
<text x="305.30" y="143.05" font-size="7.65" text-anchor="middle" fill="#2b2b2b" font-weight="normal" letter-spacing="0.00" stroke="#2b2b2b" stroke-width="0.08">Learning rate</text>
<text x="247.20" y="79.75" font-size="7.65" text-anchor="middle" fill="#2b2b2b" font-weight="normal" letter-spacing="0.00" stroke="#2b2b2b" stroke-width="0.08" transform="rotate(-90 247.20 77.00)">Minimum of test error</text>
<polyline points="273.3,49.3 298.3,70.9 312.6,82.8 322.4,58.3 330.9,57.0 337.6,38.4" fill="none" stroke="#DD8452" stroke-width="1.0" stroke-linejoin="round" stroke-dasharray="2.6,1.4"/>
<polyline points="273.3,105.9 298.3,114.0 312.6,109.3 322.4,106.5 330.9,94.5 337.6,93.7" fill="none" stroke="#4C72B0" stroke-width="1.0" stroke-linejoin="round"/>
<line x1="273.30" y1="40.20" x2="273.30" y2="58.60" stroke="#DD8452" stroke-width="0.75"/>
<line x1="271.50" y1="40.20" x2="275.10" y2="40.20" stroke="#DD8452" stroke-width="0.75"/>
<line x1="271.50" y1="58.60" x2="275.10" y2="58.60" stroke="#DD8452" stroke-width="0.75"/>
<line x1="271.90" y1="47.90" x2="274.70" y2="50.70" stroke="#DD8452" stroke-width="0.8"/>
<line x1="271.90" y1="50.70" x2="274.70" y2="47.90" stroke="#DD8452" stroke-width="0.8"/>
<line x1="298.30" y1="60.20" x2="298.30" y2="81.30" stroke="#DD8452" stroke-width="0.75"/>
<line x1="296.50" y1="60.20" x2="300.10" y2="60.20" stroke="#DD8452" stroke-width="0.75"/>
<line x1="296.50" y1="81.30" x2="300.10" y2="81.30" stroke="#DD8452" stroke-width="0.75"/>
<line x1="296.90" y1="69.50" x2="299.70" y2="72.30" stroke="#DD8452" stroke-width="0.8"/>
<line x1="296.90" y1="72.30" x2="299.70" y2="69.50" stroke="#DD8452" stroke-width="0.8"/>
<line x1="312.60" y1="81.50" x2="312.60" y2="84.00" stroke="#DD8452" stroke-width="0.75"/>
<line x1="310.80" y1="81.50" x2="314.40" y2="81.50" stroke="#DD8452" stroke-width="0.75"/>
<line x1="310.80" y1="84.00" x2="314.40" y2="84.00" stroke="#DD8452" stroke-width="0.75"/>
<line x1="311.20" y1="81.40" x2="314.00" y2="84.20" stroke="#DD8452" stroke-width="0.8"/>
<line x1="311.20" y1="84.20" x2="314.00" y2="81.40" stroke="#DD8452" stroke-width="0.8"/>
<line x1="322.40" y1="50.40" x2="322.40" y2="69.50" stroke="#DD8452" stroke-width="0.75"/>
<line x1="320.60" y1="50.40" x2="324.20" y2="50.40" stroke="#DD8452" stroke-width="0.75"/>
<line x1="320.60" y1="69.50" x2="324.20" y2="69.50" stroke="#DD8452" stroke-width="0.75"/>
<line x1="321.00" y1="56.90" x2="323.80" y2="59.70" stroke="#DD8452" stroke-width="0.8"/>
<line x1="321.00" y1="59.70" x2="323.80" y2="56.90" stroke="#DD8452" stroke-width="0.8"/>
<line x1="330.90" y1="51.70" x2="330.90" y2="62.30" stroke="#DD8452" stroke-width="0.75"/>
<line x1="329.10" y1="51.70" x2="332.70" y2="51.70" stroke="#DD8452" stroke-width="0.75"/>
<line x1="329.10" y1="62.30" x2="332.70" y2="62.30" stroke="#DD8452" stroke-width="0.75"/>
<line x1="329.50" y1="55.60" x2="332.30" y2="58.40" stroke="#DD8452" stroke-width="0.8"/>
<line x1="329.50" y1="58.40" x2="332.30" y2="55.60" stroke="#DD8452" stroke-width="0.8"/>
<line x1="337.60" y1="33.30" x2="337.60" y2="43.30" stroke="#DD8452" stroke-width="0.75"/>
<line x1="335.80" y1="33.30" x2="339.40" y2="33.30" stroke="#DD8452" stroke-width="0.75"/>
<line x1="335.80" y1="43.30" x2="339.40" y2="43.30" stroke="#DD8452" stroke-width="0.75"/>
<line x1="336.20" y1="37.00" x2="339.00" y2="39.80" stroke="#DD8452" stroke-width="0.8"/>
<line x1="336.20" y1="39.80" x2="339.00" y2="37.00" stroke="#DD8452" stroke-width="0.8"/>
<line x1="273.30" y1="102.00" x2="273.30" y2="110.00" stroke="#4C72B0" stroke-width="0.75"/>
<line x1="271.50" y1="102.00" x2="275.10" y2="102.00" stroke="#4C72B0" stroke-width="0.75"/>
<line x1="271.50" y1="110.00" x2="275.10" y2="110.00" stroke="#4C72B0" stroke-width="0.75"/>
<circle cx="273.30" cy="105.90" r="1.6" fill="#4C72B0" stroke="none" stroke-width="0"/>
<line x1="298.30" y1="110.10" x2="298.30" y2="120.70" stroke="#4C72B0" stroke-width="0.75"/>
<line x1="296.50" y1="110.10" x2="300.10" y2="110.10" stroke="#4C72B0" stroke-width="0.75"/>
<line x1="296.50" y1="120.70" x2="300.10" y2="120.70" stroke="#4C72B0" stroke-width="0.75"/>
<circle cx="298.30" cy="114.00" r="1.6" fill="#4C72B0" stroke="none" stroke-width="0"/>
<line x1="312.60" y1="105.00" x2="312.60" y2="113.50" stroke="#4C72B0" stroke-width="0.75"/>
<line x1="310.80" y1="105.00" x2="314.40" y2="105.00" stroke="#4C72B0" stroke-width="0.75"/>
<line x1="310.80" y1="113.50" x2="314.40" y2="113.50" stroke="#4C72B0" stroke-width="0.75"/>
<circle cx="312.60" cy="109.30" r="1.6" fill="#4C72B0" stroke="none" stroke-width="0"/>
<line x1="322.40" y1="102.00" x2="322.40" y2="111.00" stroke="#4C72B0" stroke-width="0.75"/>
<line x1="320.60" y1="102.00" x2="324.20" y2="102.00" stroke="#4C72B0" stroke-width="0.75"/>
<line x1="320.60" y1="111.00" x2="324.20" y2="111.00" stroke="#4C72B0" stroke-width="0.75"/>
<circle cx="322.40" cy="106.50" r="1.6" fill="#4C72B0" stroke="none" stroke-width="0"/>
<line x1="330.90" y1="90.00" x2="330.90" y2="99.00" stroke="#4C72B0" stroke-width="0.75"/>
<line x1="329.10" y1="90.00" x2="332.70" y2="90.00" stroke="#4C72B0" stroke-width="0.75"/>
<line x1="329.10" y1="99.00" x2="332.70" y2="99.00" stroke="#4C72B0" stroke-width="0.75"/>
<circle cx="330.90" cy="94.50" r="1.6" fill="#4C72B0" stroke="none" stroke-width="0"/>
<line x1="337.60" y1="88.00" x2="337.60" y2="100.00" stroke="#4C72B0" stroke-width="0.75"/>
<line x1="335.80" y1="88.00" x2="339.40" y2="88.00" stroke="#4C72B0" stroke-width="0.75"/>
<line x1="335.80" y1="100.00" x2="339.40" y2="100.00" stroke="#4C72B0" stroke-width="0.75"/>
<circle cx="337.60" cy="93.70" r="1.6" fill="#4C72B0" stroke="none" stroke-width="0"/>
<rect x="380.00" y="29.40" width="138.80" height="93.00" fill="#EAEAF2" stroke="none" stroke-width="0" rx="0"/>
<line x1="380.00" y1="103.70" x2="518.80" y2="103.70" stroke="#fff" stroke-width="0.7"/>
<line x1="380.00" y1="79.40" x2="518.80" y2="79.40" stroke="#fff" stroke-width="0.7"/>
<line x1="380.00" y1="55.10" x2="518.80" y2="55.10" stroke="#fff" stroke-width="0.7"/>
<line x1="380.00" y1="30.80" x2="518.80" y2="30.80" stroke="#fff" stroke-width="0.7"/>
<rect x="385.00" y="29.40" width="6.21" height="93.00" fill="#DCEBD9" stroke="none" stroke-width="0" rx="0"/>
<rect x="391.21" y="29.40" width="6.21" height="93.00" fill="#F6D3D6" stroke="none" stroke-width="0" rx="0"/>
<rect x="397.42" y="29.40" width="6.21" height="93.00" fill="#DCEBD9" stroke="none" stroke-width="0" rx="0"/>
<rect x="403.63" y="29.40" width="6.21" height="93.00" fill="#F6D3D6" stroke="none" stroke-width="0" rx="0"/>
<rect x="409.84" y="29.40" width="6.21" height="93.00" fill="#DCEBD9" stroke="none" stroke-width="0" rx="0"/>
<rect x="416.05" y="29.40" width="6.21" height="93.00" fill="#F6D3D6" stroke="none" stroke-width="0" rx="0"/>
<rect x="422.26" y="29.40" width="6.21" height="93.00" fill="#DCEBD9" stroke="none" stroke-width="0" rx="0"/>
<rect x="428.47" y="29.40" width="6.21" height="93.00" fill="#F6D3D6" stroke="none" stroke-width="0" rx="0"/>
<rect x="434.68" y="29.40" width="6.21" height="93.00" fill="#DCEBD9" stroke="none" stroke-width="0" rx="0"/>
<rect x="440.89" y="29.40" width="6.21" height="93.00" fill="#F6D3D6" stroke="none" stroke-width="0" rx="0"/>
<rect x="447.10" y="29.40" width="6.21" height="93.00" fill="#DCEBD9" stroke="none" stroke-width="0" rx="0"/>
<rect x="453.31" y="29.40" width="6.21" height="93.00" fill="#F6D3D6" stroke="none" stroke-width="0" rx="0"/>
<rect x="459.52" y="29.40" width="6.21" height="93.00" fill="#DCEBD9" stroke="none" stroke-width="0" rx="0"/>
<rect x="465.73" y="29.40" width="6.21" height="93.00" fill="#F6D3D6" stroke="none" stroke-width="0" rx="0"/>
<rect x="471.94" y="29.40" width="6.21" height="93.00" fill="#DCEBD9" stroke="none" stroke-width="0" rx="0"/>
<rect x="478.15" y="29.40" width="6.21" height="93.00" fill="#F6D3D6" stroke="none" stroke-width="0" rx="0"/>
<rect x="484.36" y="29.40" width="6.21" height="93.00" fill="#DCEBD9" stroke="none" stroke-width="0" rx="0"/>
<rect x="490.57" y="29.40" width="6.21" height="93.00" fill="#F6D3D6" stroke="none" stroke-width="0" rx="0"/>
<rect x="496.78" y="29.40" width="6.21" height="93.00" fill="#DCEBD9" stroke="none" stroke-width="0" rx="0"/>
<rect x="502.99" y="29.40" width="6.21" height="93.00" fill="#F6D3D6" stroke="none" stroke-width="0" rx="0"/>
<rect x="509.20" y="29.40" width="6.21" height="93.00" fill="#DCEBD9" stroke="none" stroke-width="0" rx="0"/>
<text x="376.50" y="106.13" font-size="6.75" text-anchor="end" fill="#3c3c3c" font-weight="normal" letter-spacing="0.00" stroke="#3c3c3c" stroke-width="0.08">0.4</text>
<text x="376.50" y="81.83" font-size="6.75" text-anchor="end" fill="#3c3c3c" font-weight="normal" letter-spacing="0.00" stroke="#3c3c3c" stroke-width="0.08">0.6</text>
<text x="376.50" y="57.53" font-size="6.75" text-anchor="end" fill="#3c3c3c" font-weight="normal" letter-spacing="0.00" stroke="#3c3c3c" stroke-width="0.08">0.8</text>
<text x="376.50" y="33.23" font-size="6.75" text-anchor="end" fill="#3c3c3c" font-weight="normal" letter-spacing="0.00" stroke="#3c3c3c" stroke-width="0.08">1.0</text>
<text x="384.30" y="130.73" font-size="6.75" text-anchor="middle" fill="#3c3c3c" font-weight="normal" letter-spacing="0.00" stroke="#3c3c3c" stroke-width="0.08">0</text>
<text x="418.00" y="130.73" font-size="6.75" text-anchor="middle" fill="#3c3c3c" font-weight="normal" letter-spacing="0.00" stroke="#3c3c3c" stroke-width="0.08">20</text>
<text x="451.70" y="130.73" font-size="6.75" text-anchor="middle" fill="#3c3c3c" font-weight="normal" letter-spacing="0.00" stroke="#3c3c3c" stroke-width="0.08">40</text>
<text x="485.40" y="130.73" font-size="6.75" text-anchor="middle" fill="#3c3c3c" font-weight="normal" letter-spacing="0.00" stroke="#3c3c3c" stroke-width="0.08">60</text>
<text x="519.10" y="130.73" font-size="6.75" text-anchor="middle" fill="#3c3c3c" font-weight="normal" letter-spacing="0.00" stroke="#3c3c3c" stroke-width="0.08">80</text>
<text x="448.80" y="140.95" font-size="7.65" text-anchor="middle" fill="#2b2b2b" font-weight="normal" letter-spacing="0.00" stroke="#2b2b2b" stroke-width="0.08">Training epoch</text>
<text x="360.00" y="79.25" font-size="7.65" text-anchor="middle" fill="#2b2b2b" font-weight="normal" letter-spacing="0.00" stroke="#2b2b2b" stroke-width="0.08" transform="rotate(-90 360.00 76.50)">Test error</text>
<polygon points="385.0,63.6 385.3,65.4 385.7,66.4 386.0,67.8 386.3,68.5 386.7,69.1 387.0,69.9 387.4,70.0 387.7,70.2 388.0,70.3 388.4,71.2 388.7,71.2 389.0,71.6 389.4,71.1 389.7,71.4 390.1,72.2 390.4,71.4 390.7,71.6 391.1,72.1 391.4,51.2 391.7,42.3 392.1,38.2 392.4,35.9 392.8,35.5 393.1,35.1 393.4,34.9 393.8,35.1 394.1,34.7 394.4,34.8 394.8,34.4 395.1,34.8 395.4,34.7 395.8,34.9 396.1,34.8 396.5,35.0 396.8,35.3 397.1,34.6 397.5,47.7 397.8,56.6 398.1,62.7 398.5,67.0 398.8,69.8 399.2,71.6 399.5,73.1 399.8,73.3 400.2,74.3 400.5,74.3 400.8,75.1 401.2,74.8 401.5,75.1 401.9,76.1 402.2,76.0 402.5,75.5 402.9,76.0 403.2,75.6 403.5,76.3 403.9,54.6 404.2,44.2 404.5,39.6 404.9,38.2 405.2,37.5 405.6,36.9 405.9,36.2 406.2,36.4 406.6,37.0 406.9,36.9 407.2,37.1 407.6,37.2 407.9,36.5 408.3,37.2 408.6,36.9 408.9,37.0 409.3,37.3 409.6,36.9 409.9,50.9 410.3,59.5 410.6,66.1 410.9,69.9 411.3,72.9 411.6,74.7 412.0,75.3 412.3,76.3 412.6,77.5 413.0,77.3 413.3,78.3 413.6,78.4 414.0,78.1 414.3,78.4 414.7,79.1 415.0,78.3 415.3,79.2 415.7,79.2 416.0,78.8 416.3,56.7 416.7,46.7 417.0,42.4 417.4,40.4 417.7,39.0 418.0,39.0 418.4,38.5 418.7,38.7 419.0,38.7 419.4,38.2 419.7,38.7 420.0,38.7 420.4,38.4 420.7,39.2 421.1,39.2 421.4,38.6 421.7,38.7 422.1,39.3 422.4,53.0 422.7,61.7 423.1,67.7 423.4,72.6 423.8,74.6 424.1,76.6 424.4,78.2 424.8,79.2 425.1,80.2 425.4,80.7 425.8,80.1 426.1,81.0 426.5,80.7 426.8,81.3 427.1,80.9 427.5,81.2 427.8,81.6 428.1,81.8 428.5,58.5 428.8,48.9 429.1,44.2 429.5,41.9 429.8,40.7 430.2,40.6 430.5,40.8 430.8,40.1 431.2,40.8 431.5,41.0 431.8,40.8 432.2,40.7 432.5,41.1 432.9,41.1 433.2,40.9 433.5,40.8 433.9,41.3 434.2,41.1 434.5,40.7 434.9,54.3 435.2,63.9 435.5,70.1 435.9,74.4 436.2,77.6 436.6,79.6 436.9,81.0 437.2,81.0 437.6,81.8 437.9,82.0 438.2,83.2 438.6,82.8 438.9,83.2 439.3,83.0 439.6,83.6 439.9,83.0 440.3,84.0 440.6,83.6 440.9,60.5 441.3,50.1 441.6,45.7 442.0,43.7 442.3,42.7 442.6,42.3 443.0,42.7 443.3,42.3 443.6,42.1 444.0,42.2 444.3,42.7 444.6,42.4 445.0,42.3 445.3,42.7 445.7,42.7 446.0,43.0 446.3,42.8 446.7,42.8 447.0,43.4 447.3,56.7 447.7,65.6 448.0,71.9 448.4,76.3 448.7,79.4 449.0,81.0 449.4,82.4 449.7,83.5 450.0,83.7 450.4,84.9 450.7,84.5 451.1,85.4 451.4,85.0 451.7,85.3 452.1,85.6 452.4,85.3 452.7,85.5 453.1,85.5 453.4,62.3 453.7,52.7 454.1,48.4 454.4,46.1 454.8,44.8 455.1,44.9 455.4,44.8 455.8,44.1 456.1,44.3 456.4,44.6 456.8,44.2 457.1,44.8 457.5,44.5 457.8,45.0 458.1,44.8 458.5,44.5 458.8,44.5 459.1,44.6 459.5,45.1 459.8,58.7 460.2,68.2 460.5,74.6 460.8,78.4 461.2,80.9 461.5,82.8 461.8,84.2 462.2,84.9 462.5,86.1 462.8,86.6 463.2,86.7 463.5,87.1 463.9,87.3 464.2,87.2 464.5,87.1 464.9,87.3 465.2,87.6 465.5,87.1 465.9,64.2 466.2,54.5 466.6,50.3 466.9,48.3 467.2,46.6 467.6,47.1 467.9,46.3 468.2,46.4 468.6,46.6 468.9,46.2 469.3,47.0 469.6,46.9 469.9,46.7 470.3,47.2 470.6,46.4 470.9,47.1 471.3,47.2 471.6,47.3 471.9,60.5 472.3,69.9 472.6,75.9 473.0,80.0 473.3,82.7 473.6,84.4 474.0,86.0 474.3,87.3 474.6,87.6 475.0,88.3 475.3,88.8 475.7,88.6 476.0,88.5 476.3,89.1 476.7,89.1 477.0,89.1 477.3,88.9 477.7,89.1 478.0,89.1 478.3,66.3 478.7,56.5 479.0,51.5 479.4,49.4 479.7,49.3 480.0,48.2 480.4,48.2 480.7,48.8 481.0,48.5 481.4,48.3 481.7,48.1 482.1,48.7 482.4,48.5 482.7,48.3 483.1,48.4 483.4,48.3 483.7,48.9 484.1,48.7 484.4,62.8 484.8,71.4 485.1,77.4 485.4,81.7 485.8,84.5 486.1,86.8 486.4,87.4 486.8,88.2 487.1,88.8 487.4,89.7 487.8,89.7 488.1,90.4 488.5,90.0 488.8,90.1 489.1,90.7 489.5,91.0 489.8,90.8 490.1,90.7 490.5,90.6 490.8,68.3 491.2,58.7 491.5,53.5 491.8,52.2 492.2,50.6 492.5,50.9 492.8,50.6 493.2,50.1 493.5,50.8 493.9,50.8 494.2,50.5 494.5,50.3 494.9,50.3 495.2,50.5 495.5,50.3 495.9,50.8 496.2,50.4 496.5,51.3 496.9,64.6 497.2,73.4 497.6,79.7 497.9,83.3 498.2,86.2 498.6,88.1 498.9,89.1 499.2,90.2 499.6,91.1 499.9,91.4 500.3,91.2 500.6,91.4 500.9,92.2 501.3,91.7 501.6,91.7 501.9,92.2 502.3,92.2 502.6,92.6 503.0,92.3 503.3,70.1 503.6,60.1 504.0,56.2 504.3,53.3 504.6,52.9 505.0,52.6 505.3,52.1 505.6,52.3 506.0,52.4 506.3,52.2 506.7,52.9 507.0,52.5 507.3,52.6 507.7,52.2 508.0,52.3 508.3,52.9 508.7,52.8 509.0,53.2 509.4,66.2 509.7,74.8 510.0,80.7 510.4,85.2 510.7,88.1 511.0,90.0 511.4,90.9 511.7,91.4 512.0,92.8 512.4,92.5 512.7,93.6 513.1,93.6 513.4,93.7 513.7,93.4 514.1,93.8 514.4,93.9 514.7,93.7 515.1,94.2 515.1,101.5 514.7,100.9 514.4,101.1 514.1,101.1 513.7,100.7 513.4,101.0 513.1,100.9 512.7,100.8 512.4,99.8 512.0,100.1 511.7,98.7 511.4,98.1 511.0,97.3 510.7,95.4 510.4,92.5 510.0,88.0 509.7,82.1 509.4,73.5 509.0,60.5 508.7,60.1 508.3,60.2 508.0,59.5 507.7,59.5 507.3,59.9 507.0,59.8 506.7,60.2 506.3,59.5 506.0,59.7 505.6,59.6 505.3,59.4 505.0,59.9 504.6,60.2 504.3,60.6 504.0,63.5 503.6,67.3 503.3,77.4 503.0,99.6 502.6,99.9 502.3,99.5 501.9,99.5 501.6,99.0 501.3,99.0 500.9,99.5 500.6,98.7 500.3,98.5 499.9,98.7 499.6,98.3 499.2,97.5 498.9,96.4 498.6,95.4 498.2,93.5 497.9,90.6 497.6,87.0 497.2,80.6 496.9,71.9 496.5,58.5 496.2,57.7 495.9,58.0 495.5,57.6 495.2,57.7 494.9,57.5 494.5,57.6 494.2,57.8 493.9,58.1 493.5,58.0 493.2,57.4 492.8,57.9 492.5,58.2 492.2,57.9 491.8,59.5 491.5,60.8 491.2,66.0 490.8,75.6 490.5,97.9 490.1,98.0 489.8,98.1 489.5,98.3 489.1,98.0 488.8,97.4 488.5,97.2 488.1,97.7 487.8,97.0 487.4,97.0 487.1,96.1 486.8,95.5 486.4,94.7 486.1,94.1 485.8,91.7 485.4,89.0 485.1,84.7 484.8,78.7 484.4,70.1 484.1,56.0 483.7,56.2 483.4,55.6 483.1,55.7 482.7,55.6 482.4,55.8 482.1,56.0 481.7,55.4 481.4,55.6 481.0,55.8 480.7,56.1 480.4,55.5 480.0,55.4 479.7,56.6 479.4,56.7 479.0,58.8 478.7,63.7 478.3,73.6 478.0,96.4 477.7,96.4 477.3,96.2 477.0,96.4 476.7,96.4 476.3,96.4 476.0,95.8 475.7,95.9 475.3,96.1 475.0,95.6 474.6,94.9 474.3,94.6 474.0,93.2 473.6,91.7 473.3,89.9 473.0,87.3 472.6,83.2 472.3,77.2 471.9,67.8 471.6,54.6 471.3,54.5 470.9,54.3 470.6,53.7 470.3,54.4 469.9,54.0 469.6,54.2 469.3,54.3 468.9,53.5 468.6,53.9 468.2,53.7 467.9,53.6 467.6,54.3 467.2,53.9 466.9,55.6 466.6,57.6 466.2,61.8 465.9,71.5 465.5,94.4 465.2,94.9 464.9,94.6 464.5,94.4 464.2,94.5 463.9,94.6 463.5,94.4 463.2,94.0 462.8,93.9 462.5,93.4 462.2,92.1 461.8,91.5 461.5,90.1 461.2,88.2 460.8,85.7 460.5,81.9 460.2,75.5 459.8,66.0 459.5,52.4 459.1,51.8 458.8,51.8 458.5,51.8 458.1,52.1 457.8,52.3 457.5,51.8 457.1,52.1 456.8,51.5 456.4,51.9 456.1,51.6 455.8,51.4 455.4,52.1 455.1,52.2 454.8,52.1 454.4,53.4 454.1,55.7 453.7,60.0 453.4,69.6 453.1,92.8 452.7,92.8 452.4,92.6 452.1,92.9 451.7,92.6 451.4,92.3 451.1,92.7 450.7,91.8 450.4,92.1 450.0,91.0 449.7,90.8 449.4,89.7 449.0,88.3 448.7,86.7 448.4,83.6 448.0,79.2 447.7,72.9 447.3,64.0 447.0,50.7 446.7,50.1 446.3,50.1 446.0,50.3 445.7,50.0 445.3,50.0 445.0,49.6 444.6,49.6 444.3,50.0 444.0,49.5 443.6,49.4 443.3,49.6 443.0,50.0 442.6,49.5 442.3,50.0 442.0,51.0 441.6,53.0 441.3,57.4 440.9,67.8 440.6,90.9 440.3,91.3 439.9,90.3 439.6,90.8 439.3,90.3 438.9,90.4 438.6,90.1 438.2,90.5 437.9,89.3 437.6,89.1 437.2,88.3 436.9,88.3 436.6,86.9 436.2,84.9 435.9,81.7 435.5,77.4 435.2,71.2 434.9,61.6 434.5,47.9 434.2,48.4 433.9,48.6 433.5,48.1 433.2,48.2 432.9,48.4 432.5,48.4 432.2,48.0 431.8,48.1 431.5,48.3 431.2,48.1 430.8,47.4 430.5,48.0 430.2,47.9 429.8,48.0 429.5,49.2 429.1,51.5 428.8,56.2 428.5,65.8 428.1,89.1 427.8,88.9 427.5,88.5 427.1,88.2 426.8,88.6 426.5,88.0 426.1,88.3 425.8,87.4 425.4,88.0 425.1,87.5 424.8,86.5 424.4,85.5 424.1,83.9 423.8,81.9 423.4,79.8 423.1,75.0 422.7,69.0 422.4,60.3 422.1,46.6 421.7,46.0 421.4,45.8 421.1,46.5 420.7,46.4 420.4,45.7 420.0,46.0 419.7,46.0 419.4,45.5 419.0,45.9 418.7,46.0 418.4,45.8 418.0,46.3 417.7,46.3 417.4,47.7 417.0,49.7 416.7,54.0 416.3,64.0 416.0,86.1 415.7,86.5 415.3,86.5 415.0,85.6 414.7,86.4 414.3,85.7 414.0,85.4 413.6,85.7 413.3,85.6 413.0,84.6 412.6,84.7 412.3,83.6 412.0,82.6 411.6,82.0 411.3,80.1 410.9,77.2 410.6,73.4 410.3,66.7 409.9,58.2 409.6,44.1 409.3,44.6 408.9,44.3 408.6,44.2 408.3,44.5 407.9,43.8 407.6,44.5 407.2,44.4 406.9,44.2 406.6,44.3 406.2,43.7 405.9,43.5 405.6,44.2 405.2,44.8 404.9,45.5 404.5,46.9 404.2,51.5 403.9,61.9 403.5,83.6 403.2,82.9 402.9,83.3 402.5,82.8 402.2,83.3 401.9,83.4 401.5,82.4 401.2,82.1 400.8,82.4 400.5,81.6 400.2,81.6 399.8,80.6 399.5,80.4 399.2,78.9 398.8,77.1 398.5,74.3 398.1,70.0 397.8,63.9 397.5,55.0 397.1,41.9 396.8,42.6 396.5,42.3 396.1,42.1 395.8,42.2 395.4,42.0 395.1,42.1 394.8,41.7 394.4,42.0 394.1,42.0 393.8,42.4 393.4,42.2 393.1,42.4 392.8,42.8 392.4,43.2 392.1,45.5 391.7,49.6 391.4,58.5 391.1,79.4 390.7,78.9 390.4,78.7 390.1,79.5 389.7,78.7 389.4,78.4 389.0,78.9 388.7,78.5 388.4,78.5 388.0,77.6 387.7,77.5 387.4,77.3 387.0,77.2 386.7,76.4 386.3,75.8 386.0,75.1 385.7,73.7 385.3,72.7 385.0,70.9" fill="#DD8452" stroke="none" stroke-width="0" fill-opacity="0.18"/>
<polygon points="385.0,35.6 385.3,35.5 385.7,34.6 386.0,34.5 386.3,34.3 386.7,33.8 387.0,33.8 387.4,33.8 387.7,33.8 388.0,33.6 388.4,34.0 388.7,34.0 389.0,33.6 389.4,33.6 389.7,33.8 390.1,33.5 390.4,33.8 390.7,33.6 391.1,34.2 391.4,47.9 391.7,57.3 392.1,63.7 392.4,68.6 392.8,71.5 393.1,73.0 393.4,75.0 393.8,75.2 394.1,76.0 394.4,77.2 394.8,77.5 395.1,77.3 395.4,77.9 395.8,78.3 396.1,77.7 396.5,78.2 396.8,78.0 397.1,78.7 397.5,66.2 397.8,57.1 398.1,51.4 398.5,46.8 398.8,43.1 399.2,40.6 399.5,38.9 399.8,38.6 400.2,37.4 400.5,36.6 400.8,36.4 401.2,36.0 401.5,36.3 401.9,36.3 402.2,36.2 402.5,36.2 402.9,35.7 403.2,35.7 403.5,35.7 403.9,50.8 404.2,60.6 404.5,67.2 404.9,71.0 405.2,73.9 405.6,76.0 405.9,78.2 406.2,79.2 406.6,79.0 406.9,79.9 407.2,80.0 407.6,80.6 407.9,80.7 408.3,80.8 408.6,81.0 408.9,80.9 409.3,81.6 409.6,81.0 409.9,68.3 410.3,59.9 410.6,53.2 410.9,48.3 411.3,45.3 411.6,43.2 412.0,41.5 412.3,40.0 412.6,39.7 413.0,38.2 413.3,37.9 413.6,37.7 414.0,37.4 414.3,37.5 414.7,37.6 415.0,37.4 415.3,37.5 415.7,37.0 416.0,37.2 416.3,52.6 416.7,62.0 417.0,68.9 417.4,73.3 417.7,76.4 418.0,78.8 418.4,79.7 418.7,80.7 419.0,81.6 419.4,82.0 419.7,82.3 420.0,82.9 420.4,82.7 420.7,83.5 421.1,83.4 421.4,83.3 421.7,83.9 422.1,83.6 422.4,70.6 422.7,61.5 423.1,55.3 423.4,50.0 423.8,46.9 424.1,44.8 424.4,42.8 424.8,41.7 425.1,40.9 425.4,40.5 425.8,39.5 426.1,39.5 426.5,39.3 426.8,39.1 427.1,38.8 427.5,39.7 427.8,39.1 428.1,39.0 428.5,54.5 428.8,64.4 429.1,71.5 429.5,75.9 429.8,78.7 430.2,81.1 430.5,82.3 430.8,82.7 431.2,83.7 431.5,84.2 431.8,84.0 432.2,84.7 432.5,84.4 432.9,84.9 433.2,84.8 433.5,85.6 433.9,85.2 434.2,85.1 434.5,85.9 434.9,72.2 435.2,63.8 435.5,56.9 435.9,52.5 436.2,48.8 436.6,46.4 436.9,45.2 437.2,43.1 437.6,42.8 437.9,42.1 438.2,41.6 438.6,41.6 438.9,41.5 439.3,41.0 439.6,41.0 439.9,41.2 440.3,40.8 440.6,41.2 440.9,56.5 441.3,66.3 441.6,73.3 442.0,77.7 442.3,80.2 442.6,82.6 443.0,83.5 443.3,84.6 443.6,86.0 444.0,85.5 444.3,85.9 444.6,86.9 445.0,86.3 445.3,86.9 445.7,87.0 446.0,86.6 446.3,87.3 446.7,87.1 447.0,86.8 447.3,74.2 447.7,65.2 448.0,58.2 448.4,53.6 448.7,50.5 449.0,48.6 449.4,46.4 449.7,45.4 450.0,44.8 450.4,44.3 450.7,43.4 451.1,43.5 451.4,43.0 451.7,42.7 452.1,42.8 452.4,43.0 452.7,42.7 453.1,42.8 453.4,57.4 453.7,67.7 454.1,74.0 454.4,78.6 454.8,81.9 455.1,84.4 455.4,86.0 455.8,86.2 456.1,86.9 456.4,87.5 456.8,88.1 457.1,88.4 457.5,88.2 457.8,88.4 458.1,88.5 458.5,88.5 458.8,88.5 459.1,89.1 459.5,89.1 459.8,75.6 460.2,66.5 460.5,60.0 460.8,56.1 461.2,52.7 461.5,50.2 461.8,48.3 462.2,46.9 462.5,46.6 462.8,45.6 463.2,45.6 463.5,45.3 463.9,44.6 464.2,44.6 464.5,44.4 464.9,44.6 465.2,44.5 465.5,44.8 465.9,59.6 466.2,69.2 466.6,75.8 466.9,81.1 467.2,84.1 467.6,85.5 467.9,87.0 468.2,87.8 468.6,89.0 468.9,89.3 469.3,89.8 469.6,89.4 469.9,90.0 470.3,89.9 470.6,89.6 470.9,90.4 471.3,90.2 471.6,90.1 471.9,77.2 472.3,68.5 472.6,62.1 473.0,57.7 473.3,53.6 473.6,52.0 474.0,50.3 474.3,48.7 474.6,47.9 475.0,47.1 475.3,47.1 475.7,46.3 476.0,46.8 476.3,46.6 476.7,46.1 477.0,46.6 477.3,46.4 477.7,46.0 478.0,46.0 478.3,61.2 478.7,71.3 479.0,77.8 479.4,82.0 479.7,85.3 480.0,87.6 480.4,88.4 480.7,89.5 481.0,89.8 481.4,90.2 481.7,90.6 482.1,91.3 482.4,91.1 482.7,91.7 483.1,91.7 483.4,91.7 483.7,91.3 484.1,91.4 484.4,79.4 484.8,70.2 485.1,63.7 485.4,59.1 485.8,55.8 486.1,53.4 486.4,51.9 486.8,50.4 487.1,49.3 487.4,49.0 487.8,48.3 488.1,48.3 488.5,48.5 488.8,47.8 489.1,47.6 489.5,48.1 489.8,48.4 490.1,47.9 490.5,47.9 490.8,62.6 491.2,72.1 491.5,79.0 491.8,83.4 492.2,87.1 492.5,88.6 492.8,89.8 493.2,91.4 493.5,92.0 493.9,91.8 494.2,92.0 494.5,93.0 494.9,92.6 495.2,93.2 495.5,92.7 495.9,92.9 496.2,93.3 496.5,93.4 496.9,80.3 497.2,71.6 497.6,64.9 497.9,60.7 498.2,57.5 498.6,54.5 498.9,53.2 499.2,52.2 499.6,51.3 499.9,50.5 500.3,50.2 500.6,49.7 500.9,50.0 501.3,49.5 501.6,49.5 501.9,49.3 502.3,49.4 502.6,49.3 503.0,49.3 503.3,63.8 503.6,73.9 504.0,80.6 504.3,84.9 504.6,87.7 505.0,90.1 505.3,91.5 505.6,92.7 506.0,92.7 506.3,92.9 506.7,93.8 507.0,94.2 507.3,94.3 507.7,94.2 508.0,94.5 508.3,93.9 508.7,94.8 509.0,94.6 509.4,82.4 509.7,73.0 510.0,66.5 510.4,62.5 510.7,59.4 511.0,56.7 511.4,55.0 511.7,53.5 512.0,53.5 512.4,52.9 512.7,52.4 513.1,52.1 513.4,51.9 513.7,51.3 514.1,51.4 514.4,51.7 514.7,51.7 515.1,51.6 515.1,58.9 514.7,59.0 514.4,59.0 514.1,58.6 513.7,58.6 513.4,59.2 513.1,59.4 512.7,59.7 512.4,60.2 512.0,60.8 511.7,60.8 511.4,62.2 511.0,64.0 510.7,66.7 510.4,69.8 510.0,73.8 509.7,80.3 509.4,89.7 509.0,101.9 508.7,102.1 508.3,101.2 508.0,101.8 507.7,101.5 507.3,101.6 507.0,101.5 506.7,101.1 506.3,100.2 506.0,100.0 505.6,100.0 505.3,98.8 505.0,97.4 504.6,95.0 504.3,92.2 504.0,87.9 503.6,81.2 503.3,71.1 503.0,56.6 502.6,56.6 502.3,56.6 501.9,56.6 501.6,56.8 501.3,56.7 500.9,57.3 500.6,57.0 500.3,57.4 499.9,57.8 499.6,58.6 499.2,59.5 498.9,60.5 498.6,61.8 498.2,64.8 497.9,68.0 497.6,72.2 497.2,78.9 496.9,87.6 496.5,100.7 496.2,100.6 495.9,100.2 495.5,100.0 495.2,100.5 494.9,99.9 494.5,100.3 494.2,99.3 493.9,99.1 493.5,99.3 493.2,98.7 492.8,97.1 492.5,95.9 492.2,94.4 491.8,90.6 491.5,86.3 491.2,79.4 490.8,69.9 490.5,55.2 490.1,55.2 489.8,55.7 489.5,55.4 489.1,54.9 488.8,55.1 488.5,55.8 488.1,55.6 487.8,55.6 487.4,56.3 487.1,56.6 486.8,57.7 486.4,59.2 486.1,60.7 485.8,63.0 485.4,66.4 485.1,71.0 484.8,77.5 484.4,86.6 484.1,98.7 483.7,98.6 483.4,99.0 483.1,99.0 482.7,99.0 482.4,98.4 482.1,98.5 481.7,97.9 481.4,97.5 481.0,97.1 480.7,96.8 480.4,95.7 480.0,94.9 479.7,92.6 479.4,89.3 479.0,85.1 478.7,78.6 478.3,68.5 478.0,53.3 477.7,53.2 477.3,53.7 477.0,53.9 476.7,53.4 476.3,53.9 476.0,54.1 475.7,53.6 475.3,54.4 475.0,54.4 474.6,55.2 474.3,56.0 474.0,57.6 473.6,59.3 473.3,60.9 473.0,65.0 472.6,69.4 472.3,75.8 471.9,84.5 471.6,97.4 471.3,97.5 470.9,97.7 470.6,96.9 470.3,97.2 469.9,97.3 469.6,96.7 469.3,97.0 468.9,96.6 468.6,96.3 468.2,95.1 467.9,94.3 467.6,92.8 467.2,91.4 466.9,88.4 466.6,83.1 466.2,76.5 465.9,66.8 465.5,52.1 465.2,51.8 464.9,51.9 464.5,51.7 464.2,51.8 463.9,51.8 463.5,52.6 463.2,52.9 462.8,52.9 462.5,53.9 462.2,54.2 461.8,55.6 461.5,57.4 461.2,60.0 460.8,63.4 460.5,67.3 460.2,73.8 459.8,82.9 459.5,96.4 459.1,96.4 458.8,95.8 458.5,95.8 458.1,95.8 457.8,95.7 457.5,95.5 457.1,95.7 456.8,95.4 456.4,94.8 456.1,94.2 455.8,93.5 455.4,93.3 455.1,91.7 454.8,89.2 454.4,85.9 454.1,81.3 453.7,75.0 453.4,64.7 453.1,50.1 452.7,49.9 452.4,50.3 452.1,50.1 451.7,50.0 451.4,50.3 451.1,50.8 450.7,50.7 450.4,51.6 450.0,52.0 449.7,52.6 449.4,53.7 449.0,55.9 448.7,57.8 448.4,60.9 448.0,65.5 447.7,72.5 447.3,81.5 447.0,94.1 446.7,94.4 446.3,94.6 446.0,93.8 445.7,94.2 445.3,94.2 445.0,93.6 444.6,94.2 444.3,93.2 444.0,92.8 443.6,93.3 443.3,91.9 443.0,90.8 442.6,89.9 442.3,87.5 442.0,85.0 441.6,80.6 441.3,73.6 440.9,63.8 440.6,48.5 440.3,48.1 439.9,48.5 439.6,48.3 439.3,48.3 438.9,48.7 438.6,48.9 438.2,48.9 437.9,49.4 437.6,50.1 437.2,50.4 436.9,52.5 436.6,53.6 436.2,56.1 435.9,59.8 435.5,64.2 435.2,71.1 434.9,79.5 434.5,93.2 434.2,92.4 433.9,92.5 433.5,92.9 433.2,92.1 432.9,92.2 432.5,91.7 432.2,92.0 431.8,91.3 431.5,91.5 431.2,91.0 430.8,89.9 430.5,89.6 430.2,88.4 429.8,86.0 429.5,83.1 429.1,78.7 428.8,71.6 428.5,61.7 428.1,46.3 427.8,46.4 427.5,47.0 427.1,46.1 426.8,46.4 426.5,46.6 426.1,46.8 425.8,46.8 425.4,47.8 425.1,48.2 424.8,49.0 424.4,50.1 424.1,52.1 423.8,54.2 423.4,57.2 423.1,62.6 422.7,68.7 422.4,77.9 422.1,90.9 421.7,91.2 421.4,90.6 421.1,90.7 420.7,90.8 420.4,90.0 420.0,90.2 419.7,89.6 419.4,89.2 419.0,88.8 418.7,88.0 418.4,87.0 418.0,86.1 417.7,83.6 417.4,80.6 417.0,76.1 416.7,69.3 416.3,59.9 416.0,44.5 415.7,44.3 415.3,44.8 415.0,44.7 414.7,44.9 414.3,44.8 414.0,44.7 413.6,45.0 413.3,45.2 413.0,45.5 412.6,47.0 412.3,47.3 412.0,48.8 411.6,50.5 411.3,52.6 410.9,55.6 410.6,60.4 410.3,67.2 409.9,75.5 409.6,88.3 409.3,88.9 408.9,88.2 408.6,88.3 408.3,88.1 407.9,88.0 407.6,87.9 407.2,87.2 406.9,87.2 406.6,86.3 406.2,86.5 405.9,85.5 405.6,83.3 405.2,81.2 404.9,78.3 404.5,74.5 404.2,67.9 403.9,58.1 403.5,43.0 403.2,43.0 402.9,43.0 402.5,43.5 402.2,43.5 401.9,43.6 401.5,43.6 401.2,43.3 400.8,43.7 400.5,43.9 400.2,44.7 399.8,45.9 399.5,46.2 399.2,47.9 398.8,50.4 398.5,54.1 398.1,58.7 397.8,64.4 397.5,73.5 397.1,86.0 396.8,85.3 396.5,85.5 396.1,85.0 395.8,85.6 395.4,85.2 395.1,84.6 394.8,84.8 394.4,84.5 394.1,83.3 393.8,82.5 393.4,82.3 393.1,80.2 392.8,78.8 392.4,75.9 392.1,71.0 391.7,64.6 391.4,55.2 391.1,41.5 390.7,40.9 390.4,41.1 390.1,40.8 389.7,41.1 389.4,40.9 389.0,40.9 388.7,41.3 388.4,41.3 388.0,40.9 387.7,41.1 387.4,41.1 387.0,41.1 386.7,41.1 386.3,41.6 386.0,41.8 385.7,41.9 385.3,42.8 385.0,42.9" fill="#DD8452" stroke="none" stroke-width="0" fill-opacity="0.18"/>
<polygon points="385.0,69.5 385.3,69.6 385.7,70.7 386.0,71.0 386.3,71.2 386.7,72.0 387.0,72.6 387.4,72.3 387.7,72.6 388.0,73.4 388.4,73.5 388.7,73.3 389.0,74.0 389.4,74.4 389.7,74.8 390.1,74.1 390.4,74.5 390.7,75.0 391.1,75.1 391.4,55.8 391.7,46.0 392.1,40.0 392.4,37.5 392.8,36.5 393.1,35.9 393.4,35.1 393.8,35.0 394.1,34.5 394.4,34.5 394.8,34.6 395.1,35.0 395.4,35.0 395.8,34.8 396.1,34.9 396.5,34.3 396.8,34.6 397.1,34.5 397.5,46.5 397.8,56.0 398.1,62.1 398.5,67.1 398.8,69.8 399.2,73.0 399.5,73.9 399.8,75.2 400.2,76.2 400.5,77.6 400.8,78.0 401.2,78.0 401.5,78.9 401.9,78.8 402.2,79.0 402.5,78.7 402.9,79.2 403.2,79.1 403.5,79.8 403.9,61.4 404.2,51.0 404.5,44.1 404.9,41.1 405.2,38.1 405.6,37.3 405.9,36.1 406.2,35.6 406.6,35.7 406.9,34.8 407.2,35.2 407.6,35.2 407.9,35.4 408.3,35.1 408.6,34.9 408.9,34.7 409.3,35.0 409.6,34.7 409.9,48.6 410.3,57.8 410.6,64.6 410.9,69.0 411.3,72.7 411.6,75.5 412.0,78.0 412.3,79.0 412.6,79.7 413.0,80.9 413.3,81.1 413.6,81.6 414.0,82.4 414.3,81.7 414.7,82.1 415.0,82.8 415.3,82.6 415.7,83.0 416.0,83.0 416.3,68.2 416.7,58.4 417.0,51.4 417.4,46.5 417.7,42.9 418.0,40.9 418.4,39.4 418.7,37.7 419.0,37.3 419.4,36.1 419.7,36.1 420.0,35.6 420.4,35.8 420.7,35.2 421.1,35.8 421.4,35.7 421.7,35.7 422.1,35.1 422.4,49.0 422.7,59.6 423.1,66.6 423.4,71.4 423.8,75.4 424.1,78.6 424.4,80.4 424.8,81.9 425.1,83.0 425.4,83.5 425.8,84.4 426.1,84.0 426.5,84.8 426.8,85.0 427.1,85.0 427.5,85.1 427.8,85.2 428.1,85.7 428.5,74.4 428.8,65.5 429.1,59.2 429.5,53.6 429.8,49.3 430.2,46.0 430.5,43.7 430.8,42.0 431.2,40.6 431.5,40.0 431.8,38.8 432.2,38.1 432.5,37.3 432.9,37.4 433.2,36.8 433.5,36.4 433.9,35.9 434.2,35.7 434.5,35.8 434.9,50.8 435.2,60.7 435.5,68.0 435.9,73.8 436.2,77.9 436.6,80.5 436.9,82.9 437.2,83.8 437.6,84.6 437.9,85.9 438.2,86.2 438.6,86.6 438.9,87.5 439.3,87.0 439.6,87.6 439.9,88.1 440.3,88.4 440.6,88.3 440.9,79.2 441.3,71.8 441.6,66.2 442.0,60.6 442.3,57.0 442.6,53.5 443.0,50.9 443.3,47.7 443.6,46.6 444.0,44.1 444.3,43.1 444.6,41.9 445.0,40.9 445.3,40.4 445.7,39.1 446.0,38.4 446.3,38.1 446.7,37.9 447.0,38.0 447.3,52.1 447.7,63.2 448.0,70.2 448.4,76.3 448.7,79.9 449.0,82.4 449.4,85.1 449.7,86.2 450.0,87.8 450.4,88.6 450.7,89.1 451.1,88.7 451.4,89.1 451.7,89.6 452.1,90.1 452.4,90.0 452.7,90.0 453.1,90.5 453.4,83.4 453.7,77.2 454.1,72.8 454.4,68.1 454.8,63.9 455.1,60.8 455.4,57.6 455.8,54.8 456.1,52.9 456.4,50.6 456.8,49.1 457.1,47.3 457.5,46.2 457.8,44.7 458.1,44.3 458.5,42.7 458.8,42.4 459.1,41.0 459.5,40.7 459.8,55.3 460.2,65.7 460.5,72.9 460.8,78.2 461.2,82.0 461.5,84.8 461.8,87.1 462.2,88.0 462.5,89.2 462.8,90.0 463.2,91.0 463.5,91.4 463.9,91.6 464.2,91.5 464.5,92.1 464.9,92.2 465.2,92.4 465.5,92.1 465.9,87.1 466.2,82.5 466.6,77.4 466.9,73.3 467.2,69.9 467.6,66.8 467.9,63.7 468.2,61.6 468.6,58.9 468.9,57.3 469.3,55.4 469.6,53.4 469.9,51.8 470.3,50.4 470.6,49.5 470.9,47.7 471.3,46.9 471.6,46.2 471.9,59.7 472.3,69.3 472.6,76.5 473.0,81.6 473.3,84.4 473.6,87.0 474.0,89.2 474.3,90.3 474.6,91.8 475.0,92.1 475.3,93.2 475.7,93.1 476.0,93.6 476.3,93.5 476.7,94.4 477.0,93.9 477.3,94.7 477.7,94.4 478.0,94.0 478.3,90.5 478.7,86.2 479.0,82.3 479.4,78.8 479.7,75.9 480.0,72.2 480.4,69.6 480.7,67.5 481.0,65.3 481.4,62.9 481.7,61.5 482.1,59.8 482.4,57.3 482.7,56.3 483.1,54.7 483.4,53.0 483.7,51.8 484.1,51.2 484.4,64.0 484.8,73.0 485.1,78.9 485.4,83.6 485.8,87.7 486.1,89.5 486.4,91.7 486.8,92.8 487.1,94.1 487.4,94.0 487.8,94.4 488.1,95.6 488.5,95.4 488.8,96.1 489.1,95.6 489.5,96.5 489.8,96.6 490.1,96.1 490.5,96.5 490.8,92.3 491.2,88.8 491.5,85.8 491.8,83.3 492.2,79.9 492.5,77.1 492.8,75.1 493.2,73.2 493.5,70.9 493.9,68.8 494.2,66.5 494.5,65.3 494.9,63.6 495.2,62.0 495.5,60.2 495.9,58.7 496.2,57.8 496.5,56.3 496.9,67.7 497.2,76.4 497.6,82.7 497.9,86.9 498.2,89.4 498.6,91.9 498.9,93.9 499.2,94.7 499.6,96.1 499.9,95.9 500.3,96.9 500.6,97.1 500.9,97.4 501.3,98.1 501.6,97.7 501.9,98.1 502.3,98.2 502.6,97.8 503.0,98.6 503.3,95.2 503.6,91.8 504.0,89.5 504.3,86.9 504.6,84.1 505.0,82.1 505.3,79.2 505.6,77.0 506.0,76.0 506.3,73.7 506.7,71.6 507.0,70.3 507.3,68.1 507.7,67.0 508.0,65.9 508.3,64.2 508.7,62.8 509.0,61.9 509.4,72.2 509.7,79.7 510.0,85.5 510.4,89.4 510.7,91.9 511.0,94.1 511.4,95.8 511.7,96.4 512.0,97.9 512.4,97.9 512.7,98.9 513.1,98.8 513.4,99.4 513.7,99.4 514.1,99.2 514.4,99.3 514.7,99.4 515.1,100.1 515.1,107.4 514.7,106.7 514.4,106.6 514.1,106.5 513.7,106.7 513.4,106.7 513.1,106.1 512.7,106.2 512.4,105.2 512.0,105.2 511.7,103.7 511.4,103.0 511.0,101.4 510.7,99.2 510.4,96.7 510.0,92.8 509.7,87.0 509.4,79.5 509.0,69.2 508.7,70.1 508.3,71.5 508.0,73.2 507.7,74.3 507.3,75.4 507.0,77.6 506.7,78.9 506.3,81.0 506.0,83.3 505.6,84.3 505.3,86.5 505.0,89.4 504.6,91.4 504.3,94.2 504.0,96.8 503.6,99.1 503.3,102.5 503.0,105.8 502.6,105.1 502.3,105.5 501.9,105.4 501.6,105.0 501.3,105.3 500.9,104.7 500.6,104.4 500.3,104.2 499.9,103.2 499.6,103.4 499.2,102.0 498.9,101.2 498.6,99.2 498.2,96.7 497.9,94.2 497.6,90.0 497.2,83.7 496.9,75.0 496.5,63.6 496.2,65.1 495.9,66.0 495.5,67.4 495.2,69.3 494.9,70.9 494.5,72.5 494.2,73.8 493.9,76.1 493.5,78.2 493.2,80.5 492.8,82.4 492.5,84.4 492.2,87.2 491.8,90.6 491.5,93.1 491.2,96.1 490.8,99.6 490.5,103.8 490.1,103.4 489.8,103.9 489.5,103.8 489.1,102.9 488.8,103.4 488.5,102.7 488.1,102.9 487.8,101.7 487.4,101.3 487.1,101.3 486.8,100.1 486.4,99.0 486.1,96.8 485.8,95.0 485.4,90.9 485.1,86.2 484.8,80.3 484.4,71.3 484.1,58.4 483.7,59.1 483.4,60.3 483.1,62.0 482.7,63.6 482.4,64.6 482.1,67.0 481.7,68.8 481.4,70.2 481.0,72.5 480.7,74.8 480.4,76.9 480.0,79.5 479.7,83.2 479.4,86.1 479.0,89.6 478.7,93.4 478.3,97.8 478.0,101.3 477.7,101.7 477.3,102.0 477.0,101.2 476.7,101.7 476.3,100.8 476.0,100.9 475.7,100.4 475.3,100.5 475.0,99.4 474.6,99.0 474.3,97.6 474.0,96.5 473.6,94.3 473.3,91.7 473.0,88.9 472.6,83.8 472.3,76.6 471.9,67.0 471.6,53.5 471.3,54.2 470.9,55.0 470.6,56.8 470.3,57.7 469.9,59.0 469.6,60.6 469.3,62.7 468.9,64.6 468.6,66.2 468.2,68.9 467.9,71.0 467.6,74.1 467.2,77.1 466.9,80.5 466.6,84.7 466.2,89.8 465.9,94.4 465.5,99.4 465.2,99.7 464.9,99.5 464.5,99.4 464.2,98.8 463.9,98.9 463.5,98.7 463.2,98.3 462.8,97.3 462.5,96.5 462.2,95.3 461.8,94.4 461.5,92.1 461.2,89.3 460.8,85.5 460.5,80.2 460.2,73.0 459.8,62.6 459.5,48.0 459.1,48.2 458.8,49.7 458.5,50.0 458.1,51.5 457.8,52.0 457.5,53.5 457.1,54.6 456.8,56.4 456.4,57.9 456.1,60.2 455.8,62.1 455.4,64.9 455.1,68.1 454.8,71.2 454.4,75.4 454.1,80.1 453.7,84.5 453.4,90.7 453.1,97.8 452.7,97.3 452.4,97.2 452.1,97.4 451.7,96.9 451.4,96.4 451.1,96.0 450.7,96.4 450.4,95.9 450.0,95.1 449.7,93.5 449.4,92.4 449.0,89.7 448.7,87.2 448.4,83.6 448.0,77.5 447.7,70.5 447.3,59.4 447.0,45.3 446.7,45.2 446.3,45.4 446.0,45.7 445.7,46.4 445.3,47.7 445.0,48.2 444.6,49.2 444.3,50.4 444.0,51.4 443.6,53.8 443.3,55.0 443.0,58.2 442.6,60.8 442.3,64.3 442.0,67.9 441.6,73.4 441.3,79.1 440.9,86.5 440.6,95.6 440.3,95.7 439.9,95.4 439.6,94.8 439.3,94.3 438.9,94.8 438.6,93.9 438.2,93.5 437.9,93.2 437.6,91.9 437.2,91.1 436.9,90.2 436.6,87.8 436.2,85.1 435.9,81.1 435.5,75.3 435.2,68.0 434.9,58.1 434.5,43.1 434.2,43.0 433.9,43.2 433.5,43.7 433.2,44.1 432.9,44.7 432.5,44.6 432.2,45.4 431.8,46.1 431.5,47.3 431.2,47.9 430.8,49.3 430.5,51.0 430.2,53.3 429.8,56.6 429.5,60.9 429.1,66.5 428.8,72.8 428.5,81.6 428.1,93.0 427.8,92.5 427.5,92.4 427.1,92.3 426.8,92.3 426.5,92.1 426.1,91.3 425.8,91.7 425.4,90.8 425.1,90.3 424.8,89.2 424.4,87.7 424.1,85.9 423.8,82.7 423.4,78.7 423.1,73.9 422.7,66.9 422.4,56.3 422.1,42.3 421.7,43.0 421.4,43.0 421.1,43.1 420.7,42.5 420.4,43.1 420.0,42.9 419.7,43.4 419.4,43.4 419.0,44.6 418.7,45.0 418.4,46.6 418.0,48.2 417.7,50.2 417.4,53.8 417.0,58.7 416.7,65.7 416.3,75.5 416.0,90.3 415.7,90.3 415.3,89.9 415.0,90.1 414.7,89.4 414.3,89.0 414.0,89.7 413.6,88.9 413.3,88.4 413.0,88.1 412.6,86.9 412.3,86.3 412.0,85.3 411.6,82.8 411.3,80.0 410.9,76.3 410.6,71.9 410.3,65.1 409.9,55.8 409.6,42.0 409.3,42.3 408.9,42.0 408.6,42.2 408.3,42.4 407.9,42.6 407.6,42.5 407.2,42.5 406.9,42.1 406.6,43.0 406.2,42.9 405.9,43.4 405.6,44.6 405.2,45.4 404.9,48.4 404.5,51.4 404.2,58.3 403.9,68.6 403.5,87.1 403.2,86.4 402.9,86.5 402.5,86.0 402.2,86.3 401.9,86.1 401.5,86.2 401.2,85.3 400.8,85.3 400.5,84.9 400.2,83.5 399.8,82.5 399.5,81.2 399.2,80.3 398.8,77.1 398.5,74.4 398.1,69.4 397.8,63.3 397.5,53.8 397.1,41.8 396.8,41.9 396.5,41.6 396.1,42.2 395.8,42.1 395.4,42.3 395.1,42.3 394.8,41.8 394.4,41.8 394.1,41.7 393.8,42.3 393.4,42.4 393.1,43.2 392.8,43.8 392.4,44.8 392.1,47.3 391.7,53.3 391.4,63.1 391.1,82.4 390.7,82.3 390.4,81.7 390.1,81.4 389.7,82.1 389.4,81.7 389.0,81.3 388.7,80.6 388.4,80.8 388.0,80.7 387.7,79.9 387.4,79.6 387.0,79.9 386.7,79.3 386.3,78.5 386.0,78.3 385.7,78.0 385.3,76.9 385.0,76.8" fill="#4C72B0" stroke="none" stroke-width="0" fill-opacity="0.18"/>
<polygon points="385.0,35.1 385.3,35.0 385.7,34.5 386.0,34.5 386.3,35.0 386.7,34.4 387.0,34.3 387.4,34.4 387.7,34.1 388.0,34.8 388.4,34.8 388.7,35.0 389.0,34.5 389.4,34.6 389.7,34.6 390.1,34.8 390.4,34.2 390.7,35.0 391.1,34.2 391.4,47.7 391.7,57.3 392.1,64.0 392.4,69.5 392.8,73.2 393.1,75.7 393.4,77.9 393.8,79.0 394.1,79.8 394.4,80.7 394.8,81.6 395.1,81.8 395.4,82.6 395.8,82.3 396.1,83.2 396.5,83.3 396.8,83.6 397.1,83.3 397.5,61.4 397.8,49.5 398.1,43.5 398.5,39.5 398.8,37.5 399.2,36.5 399.5,35.1 399.8,35.6 400.2,35.0 400.5,34.6 400.8,34.4 401.2,35.1 401.5,34.8 401.9,34.5 402.2,35.2 402.5,35.0 402.9,34.4 403.2,35.1 403.5,34.9 403.9,49.6 404.2,60.0 404.5,67.9 404.9,73.4 405.2,76.4 405.6,79.5 405.9,81.6 406.2,83.6 406.6,84.7 406.9,85.3 407.2,86.2 407.6,86.5 407.9,86.4 408.3,87.2 408.6,87.5 408.9,87.1 409.3,87.6 409.6,88.3 409.9,69.2 410.3,56.9 410.6,49.8 410.9,44.5 411.3,40.9 411.6,38.7 412.0,37.5 412.3,36.4 412.6,36.2 413.0,35.9 413.3,35.2 413.6,35.4 414.0,34.9 414.3,35.4 414.7,35.2 415.0,35.4 415.3,35.0 415.7,35.4 416.0,35.3 416.3,51.0 416.7,61.9 417.0,70.2 417.4,75.9 417.7,79.5 418.0,82.8 418.4,84.9 418.7,87.1 419.0,88.1 419.4,89.3 419.7,89.3 420.0,90.1 420.4,90.6 420.7,91.1 421.1,91.2 421.4,91.3 421.7,91.4 422.1,91.0 422.4,76.4 422.7,66.0 423.1,57.9 423.4,52.3 423.8,47.3 424.1,44.7 424.4,41.9 424.8,40.2 425.1,38.8 425.4,38.7 425.8,37.6 426.1,37.0 426.5,36.9 426.8,35.8 427.1,36.2 427.5,35.5 427.8,35.7 428.1,36.0 428.5,52.1 428.8,64.0 429.1,72.6 429.5,78.6 429.8,82.5 430.2,86.2 430.5,88.2 430.8,89.8 431.2,90.9 431.5,92.2 431.8,92.3 432.2,93.2 432.5,93.1 432.9,93.5 433.2,94.2 433.5,94.4 433.9,94.4 434.2,94.2 434.5,94.6 434.9,83.1 435.2,73.5 435.5,66.8 435.9,60.9 436.2,56.1 436.6,52.4 436.9,49.5 437.2,47.0 437.6,44.4 437.9,42.8 438.2,41.3 438.6,40.0 438.9,39.8 439.3,38.7 439.6,37.9 439.9,38.1 440.3,37.2 440.6,36.9 440.9,53.4 441.3,65.5 441.6,74.8 442.0,80.6 442.3,85.6 442.6,88.5 443.0,90.9 443.3,92.9 443.6,93.8 444.0,94.8 444.3,95.3 444.6,96.0 445.0,96.5 445.3,96.5 445.7,96.7 446.0,97.2 446.3,96.8 446.7,97.4 447.0,97.6 447.3,88.5 447.7,80.9 448.0,74.7 448.4,68.8 448.7,64.0 449.0,60.2 449.4,56.7 449.7,54.4 450.0,51.6 450.4,49.5 450.7,47.9 451.1,46.0 451.4,45.0 451.7,43.4 452.1,42.3 452.4,41.6 452.7,41.0 453.1,40.4 453.4,57.3 453.7,68.9 454.1,76.9 454.4,83.4 454.8,88.1 455.1,90.9 455.4,93.7 455.8,95.1 456.1,96.2 456.4,96.8 456.8,98.0 457.1,98.3 457.5,98.3 457.8,98.7 458.1,99.1 458.5,99.3 458.8,99.6 459.1,99.8 459.5,100.0 459.8,92.4 460.2,86.2 460.5,81.1 460.8,75.8 461.2,72.3 461.5,68.4 461.8,64.6 462.2,61.8 462.5,59.1 462.8,56.1 463.2,54.8 463.5,52.8 463.9,51.1 464.2,49.2 464.5,48.3 464.9,47.3 465.2,45.7 465.5,44.9 465.9,61.1 466.2,72.3 466.6,80.4 466.9,86.4 467.2,90.6 467.6,93.8 467.9,95.7 468.2,97.2 468.6,99.0 468.9,99.8 469.3,100.0 469.6,101.0 469.9,100.9 470.3,101.2 470.6,101.5 470.9,101.4 471.3,101.6 471.6,102.4 471.9,96.2 472.3,91.2 472.6,86.4 473.0,82.3 473.3,78.5 473.6,74.5 474.0,71.5 474.3,68.9 474.6,66.2 475.0,63.7 475.3,61.6 475.7,59.3 476.0,57.8 476.3,56.1 476.7,54.6 477.0,53.1 477.3,51.3 477.7,50.6 478.0,49.2 478.3,64.3 478.7,75.7 479.0,83.9 479.4,89.0 479.7,93.1 480.0,96.8 480.4,98.8 480.7,100.1 481.0,100.9 481.4,102.2 481.7,102.4 482.1,103.3 482.4,103.2 482.7,103.9 483.1,104.1 483.4,103.8 483.7,103.9 484.1,104.0 484.4,99.6 484.8,95.4 485.1,91.1 485.4,87.4 485.8,83.8 486.1,80.6 486.4,78.3 486.8,75.3 487.1,72.4 487.4,70.5 487.8,68.3 488.1,66.5 488.5,64.0 488.8,61.9 489.1,60.2 489.5,59.5 489.8,57.5 490.1,56.4 490.5,55.0 490.8,69.6 491.2,79.4 491.5,86.7 491.8,92.9 492.2,96.1 492.5,99.5 492.8,101.5 493.2,102.7 493.5,103.3 493.9,103.9 494.2,105.3 494.5,105.5 494.9,106.1 495.2,105.8 495.5,106.1 495.9,106.4 496.2,106.5 496.5,106.2 496.9,102.2 497.2,99.1 497.6,95.5 497.9,92.0 498.2,88.8 498.6,85.8 498.9,83.6 499.2,80.8 499.6,78.6 499.9,76.1 500.3,74.6 500.6,72.6 500.9,70.8 501.3,68.2 501.6,67.2 501.9,65.4 502.3,64.3 502.6,62.7 503.0,61.6 503.3,74.3 503.6,84.2 504.0,90.6 504.3,95.8 504.6,99.4 505.0,101.7 505.3,103.7 505.6,105.1 506.0,106.3 506.3,107.0 506.7,106.7 507.0,107.6 507.3,108.2 507.7,108.3 508.0,108.2 508.3,107.8 508.7,108.7 509.0,108.2 509.4,105.2 509.7,102.1 510.0,98.7 510.4,96.3 510.7,93.9 511.0,90.9 511.4,88.3 511.7,86.0 512.0,84.2 512.4,81.4 512.7,79.5 513.1,77.5 513.4,76.2 513.7,74.1 514.1,72.6 514.4,71.6 514.7,70.3 515.1,68.7 515.1,76.0 514.7,77.6 514.4,78.9 514.1,79.9 513.7,81.4 513.4,83.5 513.1,84.8 512.7,86.8 512.4,88.7 512.0,91.5 511.7,93.3 511.4,95.6 511.0,98.2 510.7,101.2 510.4,103.6 510.0,106.0 509.7,109.4 509.4,112.5 509.0,115.4 508.7,116.0 508.3,115.1 508.0,115.5 507.7,115.6 507.3,115.4 507.0,114.9 506.7,114.0 506.3,114.2 506.0,113.6 505.6,112.4 505.3,110.9 505.0,109.0 504.6,106.7 504.3,103.1 504.0,97.9 503.6,91.5 503.3,81.6 503.0,68.9 502.6,70.0 502.3,71.5 501.9,72.7 501.6,74.5 501.3,75.5 500.9,78.0 500.6,79.9 500.3,81.9 499.9,83.4 499.6,85.9 499.2,88.1 498.9,90.9 498.6,93.1 498.2,96.1 497.9,99.3 497.6,102.8 497.2,106.4 496.9,109.5 496.5,113.5 496.2,113.8 495.9,113.6 495.5,113.4 495.2,113.1 494.9,113.4 494.5,112.8 494.2,112.6 493.9,111.1 493.5,110.6 493.2,110.0 492.8,108.8 492.5,106.7 492.2,103.4 491.8,100.2 491.5,94.0 491.2,86.6 490.8,76.9 490.5,62.3 490.1,63.7 489.8,64.8 489.5,66.8 489.1,67.5 488.8,69.2 488.5,71.3 488.1,73.7 487.8,75.6 487.4,77.8 487.1,79.7 486.8,82.6 486.4,85.6 486.1,87.9 485.8,91.1 485.4,94.7 485.1,98.4 484.8,102.7 484.4,106.9 484.1,111.3 483.7,111.2 483.4,111.1 483.1,111.4 482.7,111.2 482.4,110.5 482.1,110.6 481.7,109.7 481.4,109.4 481.0,108.2 480.7,107.4 480.4,106.1 480.0,104.1 479.7,100.4 479.4,96.3 479.0,91.2 478.7,83.0 478.3,71.6 478.0,56.5 477.7,57.9 477.3,58.5 477.0,60.4 476.7,61.9 476.3,63.4 476.0,65.1 475.7,66.5 475.3,68.9 475.0,71.0 474.6,73.5 474.3,76.2 474.0,78.8 473.6,81.8 473.3,85.8 473.0,89.6 472.6,93.7 472.3,98.5 471.9,103.5 471.6,109.7 471.3,108.9 470.9,108.7 470.6,108.8 470.3,108.5 469.9,108.2 469.6,108.3 469.3,107.2 468.9,107.1 468.6,106.3 468.2,104.5 467.9,103.0 467.6,101.1 467.2,97.9 466.9,93.7 466.6,87.7 466.2,79.6 465.9,68.3 465.5,52.2 465.2,53.0 464.9,54.6 464.5,55.6 464.2,56.5 463.9,58.4 463.5,60.1 463.2,62.1 462.8,63.4 462.5,66.4 462.2,69.1 461.8,71.9 461.5,75.7 461.2,79.6 460.8,83.1 460.5,88.4 460.2,93.5 459.8,99.7 459.5,107.3 459.1,107.1 458.8,106.9 458.5,106.6 458.1,106.4 457.8,106.0 457.5,105.6 457.1,105.6 456.8,105.3 456.4,104.1 456.1,103.5 455.8,102.4 455.4,101.0 455.1,98.2 454.8,95.4 454.4,90.7 454.1,84.2 453.7,76.2 453.4,64.6 453.1,47.7 452.7,48.3 452.4,48.9 452.1,49.6 451.7,50.7 451.4,52.3 451.1,53.3 450.7,55.2 450.4,56.8 450.0,58.9 449.7,61.7 449.4,64.0 449.0,67.5 448.7,71.3 448.4,76.1 448.0,82.0 447.7,88.2 447.3,95.8 447.0,104.9 446.7,104.7 446.3,104.1 446.0,104.5 445.7,104.0 445.3,103.8 445.0,103.8 444.6,103.3 444.3,102.6 444.0,102.1 443.6,101.1 443.3,100.2 443.0,98.2 442.6,95.8 442.3,92.9 442.0,87.9 441.6,82.1 441.3,72.8 440.9,60.7 440.6,44.2 440.3,44.5 439.9,45.4 439.6,45.2 439.3,46.0 438.9,47.1 438.6,47.3 438.2,48.5 437.9,50.1 437.6,51.7 437.2,54.3 436.9,56.8 436.6,59.7 436.2,63.4 435.9,68.2 435.5,74.1 435.2,80.8 434.9,90.4 434.5,101.9 434.2,101.5 433.9,101.7 433.5,101.7 433.2,101.5 432.9,100.8 432.5,100.4 432.2,100.5 431.8,99.6 431.5,99.5 431.2,98.2 430.8,97.1 430.5,95.5 430.2,93.5 429.8,89.8 429.5,85.9 429.1,79.9 428.8,71.3 428.5,59.3 428.1,43.3 427.8,42.9 427.5,42.8 427.1,43.4 426.8,43.1 426.5,44.2 426.1,44.3 425.8,44.9 425.4,45.9 425.1,46.0 424.8,47.5 424.4,49.2 424.1,52.0 423.8,54.6 423.4,59.6 423.1,65.2 422.7,73.3 422.4,83.6 422.1,98.3 421.7,98.6 421.4,98.6 421.1,98.5 420.7,98.4 420.4,97.9 420.0,97.4 419.7,96.6 419.4,96.6 419.0,95.4 418.7,94.4 418.4,92.2 418.0,90.1 417.7,86.8 417.4,83.1 417.0,77.5 416.7,69.2 416.3,58.2 416.0,42.6 415.7,42.7 415.3,42.3 415.0,42.7 414.7,42.5 414.3,42.7 414.0,42.2 413.6,42.7 413.3,42.5 413.0,43.1 412.6,43.5 412.3,43.6 412.0,44.8 411.6,45.9 411.3,48.2 410.9,51.8 410.6,57.1 410.3,64.2 409.9,76.5 409.6,95.6 409.3,94.9 408.9,94.4 408.6,94.8 408.3,94.5 407.9,93.7 407.6,93.7 407.2,93.5 406.9,92.6 406.6,92.0 406.2,90.9 405.9,88.9 405.6,86.8 405.2,83.7 404.9,80.7 404.5,75.2 404.2,67.3 403.9,56.9 403.5,42.2 403.2,42.4 402.9,41.7 402.5,42.3 402.2,42.5 401.9,41.8 401.5,42.1 401.2,42.4 400.8,41.6 400.5,41.9 400.2,42.3 399.8,42.9 399.5,42.4 399.2,43.8 398.8,44.8 398.5,46.8 398.1,50.8 397.8,56.8 397.5,68.7 397.1,90.6 396.8,90.9 396.5,90.6 396.1,90.4 395.8,89.5 395.4,89.9 395.1,89.1 394.8,88.9 394.4,88.0 394.1,87.1 393.8,86.3 393.4,85.2 393.1,83.0 392.8,80.5 392.4,76.8 392.1,71.3 391.7,64.6 391.4,55.0 391.1,41.4 390.7,42.3 390.4,41.5 390.1,42.1 389.7,41.9 389.4,41.9 389.0,41.8 388.7,42.3 388.4,42.1 388.0,42.1 387.7,41.4 387.4,41.7 387.0,41.6 386.7,41.7 386.3,42.2 386.0,41.8 385.7,41.8 385.3,42.3 385.0,42.4" fill="#4C72B0" stroke="none" stroke-width="0" fill-opacity="0.18"/>
<polyline points="385.0,67.3 385.3,69.0 385.7,70.0 386.0,71.5 386.3,72.2 386.7,72.7 387.0,73.6 387.4,73.6 387.7,73.8 388.0,73.9 388.4,74.9 388.7,74.9 389.0,75.3 389.4,74.8 389.7,75.1 390.1,75.8 390.4,75.1 390.7,75.3 391.1,75.7 391.4,54.8 391.7,45.9 392.1,41.9 392.4,39.5 392.8,39.2 393.1,38.7 393.4,38.6 393.8,38.7 394.1,38.3 394.4,38.4 394.8,38.1 395.1,38.4 395.4,38.4 395.8,38.5 396.1,38.4 396.5,38.7 396.8,38.9 397.1,38.3 397.5,51.3 397.8,60.3 398.1,66.3 398.5,70.7 398.8,73.5 399.2,75.3 399.5,76.8 399.8,77.0 400.2,78.0 400.5,78.0 400.8,78.7 401.2,78.4 401.5,78.8 401.9,79.7 402.2,79.7 402.5,79.1 402.9,79.7 403.2,79.3 403.5,79.9 403.9,58.2 404.2,47.8 404.5,43.3 404.9,41.8 405.2,41.2 405.6,40.6 405.9,39.8 406.2,40.0 406.6,40.6 406.9,40.6 407.2,40.7 407.6,40.8 407.9,40.2 408.3,40.8 408.6,40.5 408.9,40.7 409.3,41.0 409.6,40.5 409.9,54.6 410.3,63.1 410.6,69.7 410.9,73.5 411.3,76.5 411.6,78.3 412.0,78.9 412.3,80.0 412.6,81.1 413.0,81.0 413.3,81.9 413.6,82.0 414.0,81.7 414.3,82.1 414.7,82.7 415.0,82.0 415.3,82.8 415.7,82.9 416.0,82.5 416.3,60.4 416.7,50.3 417.0,46.0 417.4,44.0 417.7,42.7 418.0,42.6 418.4,42.2 418.7,42.4 419.0,42.3 419.4,41.8 419.7,42.4 420.0,42.3 420.4,42.1 420.7,42.8 421.1,42.9 421.4,42.2 421.7,42.3 422.1,42.9 422.4,56.7 422.7,65.3 423.1,71.3 423.4,76.2 423.8,78.3 424.1,80.2 424.4,81.8 424.8,82.9 425.1,83.8 425.4,84.3 425.8,83.7 426.1,84.7 426.5,84.4 426.8,85.0 427.1,84.5 427.5,84.8 427.8,85.2 428.1,85.4 428.5,62.1 428.8,52.6 429.1,47.8 429.5,45.5 429.8,44.3 430.2,44.2 430.5,44.4 430.8,43.8 431.2,44.5 431.5,44.7 431.8,44.5 432.2,44.4 432.5,44.8 432.9,44.7 433.2,44.6 433.5,44.4 433.9,44.9 434.2,44.8 434.5,44.3 434.9,58.0 435.2,67.5 435.5,73.7 435.9,78.0 436.2,81.3 436.6,83.3 436.9,84.6 437.2,84.6 437.6,85.5 437.9,85.6 438.2,86.9 438.6,86.5 438.9,86.8 439.3,86.7 439.6,87.2 439.9,86.6 440.3,87.6 440.6,87.2 440.9,64.2 441.3,53.8 441.6,49.3 442.0,47.4 442.3,46.4 442.6,45.9 443.0,46.3 443.3,46.0 443.6,45.8 444.0,45.8 444.3,46.3 444.6,46.0 445.0,46.0 445.3,46.3 445.7,46.3 446.0,46.6 446.3,46.5 446.7,46.5 447.0,47.1 447.3,60.3 447.7,69.2 448.0,75.6 448.4,79.9 448.7,83.1 449.0,84.6 449.4,86.1 449.7,87.1 450.0,87.3 450.4,88.5 450.7,88.2 451.1,89.1 451.4,88.7 451.7,88.9 452.1,89.3 452.4,88.9 452.7,89.2 453.1,89.1 453.4,66.0 453.7,56.4 454.1,52.0 454.4,49.7 454.8,48.5 455.1,48.6 455.4,48.5 455.8,47.7 456.1,48.0 456.4,48.2 456.8,47.8 457.1,48.4 457.5,48.1 457.8,48.7 458.1,48.5 458.5,48.2 458.8,48.1 459.1,48.2 459.5,48.7 459.8,62.3 460.2,71.8 460.5,78.2 460.8,82.0 461.2,84.5 461.5,86.4 461.8,87.9 462.2,88.5 462.5,89.8 462.8,90.3 463.2,90.3 463.5,90.7 463.9,90.9 464.2,90.9 464.5,90.8 464.9,91.0 465.2,91.2 465.5,90.8 465.9,67.8 466.2,58.1 466.6,53.9 466.9,51.9 467.2,50.3 467.6,50.7 467.9,49.9 468.2,50.0 468.6,50.3 468.9,49.9 469.3,50.6 469.6,50.6 469.9,50.3 470.3,50.8 470.6,50.1 470.9,50.7 471.3,50.8 471.6,51.0 471.9,64.1 472.3,73.5 472.6,79.5 473.0,83.6 473.3,86.3 473.6,88.0 474.0,89.6 474.3,90.9 474.6,91.3 475.0,92.0 475.3,92.5 475.7,92.2 476.0,92.1 476.3,92.8 476.7,92.8 477.0,92.8 477.3,92.5 477.7,92.8 478.0,92.7 478.3,69.9 478.7,60.1 479.0,55.2 479.4,53.1 479.7,53.0 480.0,51.8 480.4,51.9 480.7,52.4 481.0,52.1 481.4,52.0 481.7,51.8 482.1,52.3 482.4,52.2 482.7,51.9 483.1,52.1 483.4,52.0 483.7,52.5 484.1,52.4 484.4,66.4 484.8,75.0 485.1,81.1 485.4,85.4 485.8,88.1 486.1,90.5 486.4,91.1 486.8,91.9 487.1,92.5 487.4,93.3 487.8,93.4 488.1,94.0 488.5,93.6 488.8,93.8 489.1,94.4 489.5,94.7 489.8,94.4 490.1,94.4 490.5,94.2 490.8,72.0 491.2,62.4 491.5,57.1 491.8,55.8 492.2,54.3 492.5,54.5 492.8,54.2 493.2,53.8 493.5,54.4 493.9,54.4 494.2,54.1 494.5,54.0 494.9,53.9 495.2,54.1 495.5,53.9 495.9,54.4 496.2,54.0 496.5,54.9 496.9,68.2 497.2,77.0 497.6,83.3 497.9,87.0 498.2,89.8 498.6,91.8 498.9,92.7 499.2,93.9 499.6,94.7 499.9,95.0 500.3,94.9 500.6,95.0 500.9,95.9 501.3,95.4 501.6,95.3 501.9,95.8 502.3,95.9 502.6,96.3 503.0,96.0 503.3,73.8 503.6,63.7 504.0,59.8 504.3,56.9 504.6,56.5 505.0,56.3 505.3,55.7 505.6,55.9 506.0,56.0 506.3,55.9 506.7,56.5 507.0,56.1 507.3,56.3 507.7,55.8 508.0,55.9 508.3,56.6 508.7,56.4 509.0,56.8 509.4,69.9 509.7,78.4 510.0,84.4 510.4,88.8 510.7,91.7 511.0,93.7 511.4,94.5 511.7,95.1 512.0,96.4 512.4,96.2 512.7,97.2 513.1,97.2 513.4,97.3 513.7,97.0 514.1,97.5 514.4,97.5 514.7,97.3 515.1,97.9" fill="none" stroke="#DD8452" stroke-width="0.95" stroke-linejoin="round"/>
<polyline points="385.0,39.3 385.3,39.1 385.7,38.2 386.0,38.1 386.3,38.0 386.7,37.5 387.0,37.5 387.4,37.5 387.7,37.4 388.0,37.3 388.4,37.7 388.7,37.6 389.0,37.2 389.4,37.3 389.7,37.4 390.1,37.1 390.4,37.4 390.7,37.2 391.1,37.9 391.4,51.5 391.7,61.0 392.1,67.3 392.4,72.2 392.8,75.2 393.1,76.6 393.4,78.7 393.8,78.9 394.1,79.6 394.4,80.9 394.8,81.1 395.1,80.9 395.4,81.6 395.8,81.9 396.1,81.3 396.5,81.9 396.8,81.6 397.1,82.4 397.5,69.8 397.8,60.7 398.1,55.1 398.5,50.4 398.8,46.7 399.2,44.2 399.5,42.6 399.8,42.2 400.2,41.0 400.5,40.2 400.8,40.1 401.2,39.6 401.5,39.9 401.9,39.9 402.2,39.8 402.5,39.9 402.9,39.4 403.2,39.4 403.5,39.4 403.9,54.4 404.2,64.2 404.5,70.8 404.9,74.6 405.2,77.5 405.6,79.6 405.9,81.8 406.2,82.8 406.6,82.6 406.9,83.6 407.2,83.6 407.6,84.3 407.9,84.3 408.3,84.4 408.6,84.6 408.9,84.6 409.3,85.2 409.6,84.6 409.9,71.9 410.3,63.5 410.6,56.8 410.9,51.9 411.3,49.0 411.6,46.8 412.0,45.2 412.3,43.7 412.6,43.3 413.0,41.9 413.3,41.6 413.6,41.4 414.0,41.0 414.3,41.1 414.7,41.3 415.0,41.1 415.3,41.1 415.7,40.7 416.0,40.9 416.3,56.3 416.7,65.6 417.0,72.5 417.4,77.0 417.7,80.0 418.0,82.5 418.4,83.4 418.7,84.4 419.0,85.2 419.4,85.6 419.7,85.9 420.0,86.5 420.4,86.4 420.7,87.2 421.1,87.0 421.4,87.0 421.7,87.5 422.1,87.2 422.4,74.2 422.7,65.1 423.1,59.0 423.4,53.6 423.8,50.5 424.1,48.5 424.4,46.5 424.8,45.4 425.1,44.6 425.4,44.1 425.8,43.1 426.1,43.2 426.5,42.9 426.8,42.8 427.1,42.5 427.5,43.4 427.8,42.8 428.1,42.7 428.5,58.1 428.8,68.0 429.1,75.1 429.5,79.5 429.8,82.4 430.2,84.7 430.5,86.0 430.8,86.3 431.2,87.3 431.5,87.8 431.8,87.7 432.2,88.3 432.5,88.1 432.9,88.5 433.2,88.5 433.5,89.3 433.9,88.9 434.2,88.8 434.5,89.5 434.9,75.8 435.2,67.4 435.5,60.6 435.9,56.2 436.2,52.5 436.6,50.0 436.9,48.8 437.2,46.8 437.6,46.4 437.9,45.7 438.2,45.3 438.6,45.2 438.9,45.1 439.3,44.6 439.6,44.6 439.9,44.9 440.3,44.4 440.6,44.8 440.9,60.1 441.3,70.0 441.6,76.9 442.0,81.4 442.3,83.8 442.6,86.3 443.0,87.2 443.3,88.3 443.6,89.6 444.0,89.2 444.3,89.5 444.6,90.6 445.0,90.0 445.3,90.5 445.7,90.6 446.0,90.2 446.3,91.0 446.7,90.8 447.0,90.4 447.3,77.8 447.7,68.9 448.0,61.8 448.4,57.3 448.7,54.1 449.0,52.2 449.4,50.0 449.7,49.0 450.0,48.4 450.4,47.9 450.7,47.1 451.1,47.2 451.4,46.7 451.7,46.3 452.1,46.5 452.4,46.6 452.7,46.3 453.1,46.5 453.4,61.1 453.7,71.4 454.1,77.7 454.4,82.3 454.8,85.5 455.1,88.1 455.4,89.6 455.8,89.8 456.1,90.6 456.4,91.2 456.8,91.7 457.1,92.1 457.5,91.8 457.8,92.1 458.1,92.1 458.5,92.2 458.8,92.1 459.1,92.7 459.5,92.7 459.8,79.2 460.2,70.1 460.5,63.6 460.8,59.7 461.2,56.4 461.5,53.8 461.8,52.0 462.2,50.6 462.5,50.2 462.8,49.2 463.2,49.3 463.5,49.0 463.9,48.2 464.2,48.2 464.5,48.0 464.9,48.3 465.2,48.1 465.5,48.4 465.9,63.2 466.2,72.8 466.6,79.5 466.9,84.7 467.2,87.7 467.6,89.1 467.9,90.7 468.2,91.5 468.6,92.7 468.9,92.9 469.3,93.4 469.6,93.1 469.9,93.7 470.3,93.5 470.6,93.3 470.9,94.0 471.3,93.9 471.6,93.7 471.9,80.8 472.3,72.2 472.6,65.7 473.0,61.3 473.3,57.2 473.6,55.7 474.0,54.0 474.3,52.3 474.6,51.5 475.0,50.8 475.3,50.7 475.7,50.0 476.0,50.5 476.3,50.2 476.7,49.7 477.0,50.2 477.3,50.0 477.7,49.6 478.0,49.6 478.3,64.9 478.7,75.0 479.0,81.5 479.4,85.6 479.7,89.0 480.0,91.3 480.4,92.1 480.7,93.2 481.0,93.5 481.4,93.9 481.7,94.2 482.1,94.9 482.4,94.7 482.7,95.3 483.1,95.4 483.4,95.4 483.7,94.9 484.1,95.0 484.4,83.0 484.8,73.8 485.1,67.4 485.4,62.7 485.8,59.4 486.1,57.1 486.4,55.6 486.8,54.0 487.1,53.0 487.4,52.6 487.8,51.9 488.1,51.9 488.5,52.1 488.8,51.4 489.1,51.2 489.5,51.8 489.8,52.0 490.1,51.5 490.5,51.5 490.8,66.2 491.2,75.7 491.5,82.7 491.8,87.0 492.2,90.7 492.5,92.3 492.8,93.4 493.2,95.0 493.5,95.7 493.9,95.5 494.2,95.6 494.5,96.6 494.9,96.3 495.2,96.8 495.5,96.4 495.9,96.5 496.2,97.0 496.5,97.0 496.9,84.0 497.2,75.2 497.6,68.6 497.9,64.3 498.2,61.1 498.6,58.2 498.9,56.8 499.2,55.8 499.6,54.9 499.9,54.2 500.3,53.8 500.6,53.3 500.9,53.6 501.3,53.1 501.6,53.2 501.9,53.0 502.3,53.0 502.6,53.0 503.0,52.9 503.3,67.5 503.6,77.6 504.0,84.3 504.3,88.5 504.6,91.4 505.0,93.8 505.3,95.1 505.6,96.3 506.0,96.4 506.3,96.6 506.7,97.5 507.0,97.9 507.3,98.0 507.7,97.9 508.0,98.1 508.3,97.5 508.7,98.5 509.0,98.3 509.4,86.0 509.7,76.6 510.0,70.1 510.4,66.2 510.7,63.1 511.0,60.4 511.4,58.6 511.7,57.1 512.0,57.2 512.4,56.5 512.7,56.0 513.1,55.7 513.4,55.5 513.7,54.9 514.1,55.0 514.4,55.3 514.7,55.3 515.1,55.3" fill="none" stroke="#DD8452" stroke-width="0.95" stroke-linejoin="round" stroke-dasharray="2.4,1.4"/>
<polyline points="385.0,73.1 385.3,73.3 385.7,74.3 386.0,74.7 386.3,74.9 386.7,75.6 387.0,76.2 387.4,75.9 387.7,76.2 388.0,77.1 388.4,77.1 388.7,76.9 389.0,77.6 389.4,78.1 389.7,78.5 390.1,77.8 390.4,78.1 390.7,78.7 391.1,78.7 391.4,59.5 391.7,49.6 392.1,43.6 392.4,41.2 392.8,40.1 393.1,39.6 393.4,38.7 393.8,38.6 394.1,38.1 394.4,38.1 394.8,38.2 395.1,38.6 395.4,38.6 395.8,38.5 396.1,38.5 396.5,37.9 396.8,38.3 397.1,38.2 397.5,50.1 397.8,59.7 398.1,65.8 398.5,70.7 398.8,73.5 399.2,76.6 399.5,77.6 399.8,78.9 400.2,79.8 400.5,81.3 400.8,81.6 401.2,81.6 401.5,82.5 401.9,82.4 402.2,82.7 402.5,82.4 402.9,82.9 403.2,82.8 403.5,83.4 403.9,65.0 404.2,54.7 404.5,47.8 404.9,44.8 405.2,41.7 405.6,40.9 405.9,39.8 406.2,39.3 406.6,39.3 406.9,38.5 407.2,38.9 407.6,38.8 407.9,39.0 408.3,38.8 408.6,38.6 408.9,38.3 409.3,38.7 409.6,38.4 409.9,52.2 410.3,61.4 410.6,68.2 410.9,72.7 411.3,76.4 411.6,79.1 412.0,81.6 412.3,82.6 412.6,83.3 413.0,84.5 413.3,84.7 413.6,85.3 414.0,86.0 414.3,85.3 414.7,85.7 415.0,86.5 415.3,86.2 415.7,86.7 416.0,86.7 416.3,71.9 416.7,62.0 417.0,55.0 417.4,50.2 417.7,46.5 418.0,44.6 418.4,43.0 418.7,41.3 419.0,40.9 419.4,39.7 419.7,39.7 420.0,39.3 420.4,39.4 420.7,38.8 421.1,39.4 421.4,39.3 421.7,39.3 422.1,38.7 422.4,52.7 422.7,63.3 423.1,70.3 423.4,75.1 423.8,79.1 424.1,82.2 424.4,84.1 424.8,85.6 425.1,86.6 425.4,87.1 425.8,88.0 426.1,87.6 426.5,88.4 426.8,88.6 427.1,88.7 427.5,88.7 427.8,88.8 428.1,89.4 428.5,78.0 428.8,69.2 429.1,62.8 429.5,57.3 429.8,53.0 430.2,49.6 430.5,47.4 430.8,45.7 431.2,44.2 431.5,43.7 431.8,42.5 432.2,41.8 432.5,40.9 432.9,41.0 433.2,40.4 433.5,40.0 433.9,39.6 434.2,39.4 434.5,39.4 434.9,54.4 435.2,64.3 435.5,71.7 435.9,77.4 436.2,81.5 436.6,84.2 436.9,86.5 437.2,87.5 437.6,88.3 437.9,89.5 438.2,89.9 438.6,90.2 438.9,91.2 439.3,90.7 439.6,91.2 439.9,91.8 440.3,92.0 440.6,92.0 440.9,82.9 441.3,75.5 441.6,69.8 442.0,64.2 442.3,60.6 442.6,57.1 443.0,54.6 443.3,51.4 443.6,50.2 444.0,47.8 444.3,46.8 444.6,45.6 445.0,44.6 445.3,44.1 445.7,42.7 446.0,42.1 446.3,41.8 446.7,41.6 447.0,41.7 447.3,55.7 447.7,66.8 448.0,73.8 448.4,79.9 448.7,83.5 449.0,86.1 449.4,88.8 449.7,89.9 450.0,91.4 450.4,92.3 450.7,92.7 451.1,92.4 451.4,92.7 451.7,93.3 452.1,93.8 452.4,93.6 452.7,93.7 453.1,94.1 453.4,87.0 453.7,80.8 454.1,76.4 454.4,71.7 454.8,67.5 455.1,64.4 455.4,61.2 455.8,58.4 456.1,56.6 456.4,54.2 456.8,52.7 457.1,50.9 457.5,49.8 457.8,48.3 458.1,47.9 458.5,46.4 458.8,46.1 459.1,44.6 459.5,44.3 459.8,58.9 460.2,69.3 460.5,76.6 460.8,81.9 461.2,85.7 461.5,88.5 461.8,90.7 462.2,91.7 462.5,92.9 462.8,93.6 463.2,94.6 463.5,95.0 463.9,95.2 464.2,95.1 464.5,95.7 464.9,95.9 465.2,96.1 465.5,95.7 465.9,90.8 466.2,86.1 466.6,81.0 466.9,76.9 467.2,73.5 467.6,70.4 467.9,67.4 468.2,65.2 468.6,62.6 468.9,61.0 469.3,59.0 469.6,57.0 469.9,55.4 470.3,54.1 470.6,53.2 470.9,51.4 471.3,50.5 471.6,49.8 471.9,63.3 472.3,73.0 472.6,80.1 473.0,85.3 473.3,88.1 473.6,90.6 474.0,92.8 474.3,94.0 474.6,95.4 475.0,95.8 475.3,96.9 475.7,96.7 476.0,97.2 476.3,97.1 476.7,98.1 477.0,97.5 477.3,98.3 477.7,98.0 478.0,97.7 478.3,94.1 478.7,89.8 479.0,86.0 479.4,82.5 479.7,79.6 480.0,75.8 480.4,73.2 480.7,71.1 481.0,68.9 481.4,66.6 481.7,65.2 482.1,63.4 482.4,60.9 482.7,60.0 483.1,58.4 483.4,56.7 483.7,55.4 484.1,54.8 484.4,67.7 484.8,76.7 485.1,82.6 485.4,87.3 485.8,91.3 486.1,93.1 486.4,95.3 486.8,96.5 487.1,97.7 487.4,97.7 487.8,98.1 488.1,99.2 488.5,99.1 488.8,99.7 489.1,99.2 489.5,100.2 489.8,100.2 490.1,99.7 490.5,100.2 490.8,95.9 491.2,92.5 491.5,89.4 491.8,87.0 492.2,83.6 492.5,80.7 492.8,78.7 493.2,76.8 493.5,74.5 493.9,72.4 494.2,70.2 494.5,68.9 494.9,67.3 495.2,65.7 495.5,63.8 495.9,62.3 496.2,61.5 496.5,60.0 496.9,71.4 497.2,80.0 497.6,86.4 497.9,90.6 498.2,93.1 498.6,95.6 498.9,97.6 499.2,98.4 499.6,99.8 499.9,99.5 500.3,100.5 500.6,100.8 500.9,101.0 501.3,101.7 501.6,101.3 501.9,101.7 502.3,101.9 502.6,101.4 503.0,102.2 503.3,98.9 503.6,95.5 504.0,93.2 504.3,90.5 504.6,87.8 505.0,85.8 505.3,82.9 505.6,80.7 506.0,79.6 506.3,77.3 506.7,75.2 507.0,73.9 507.3,71.8 507.7,70.7 508.0,69.6 508.3,67.8 508.7,66.5 509.0,65.5 509.4,75.9 509.7,83.4 510.0,89.1 510.4,93.1 510.7,95.6 511.0,97.8 511.4,99.4 511.7,100.1 512.0,101.6 512.4,101.6 512.7,102.6 513.1,102.5 513.4,103.1 513.7,103.1 514.1,102.9 514.4,103.0 514.7,103.1 515.1,103.7" fill="none" stroke="#4C72B0" stroke-width="0.95" stroke-linejoin="round"/>
<polyline points="385.0,38.7 385.3,38.7 385.7,38.2 386.0,38.2 386.3,38.6 386.7,38.0 387.0,37.9 387.4,38.1 387.7,37.8 388.0,38.5 388.4,38.5 388.7,38.6 389.0,38.2 389.4,38.2 389.7,38.2 390.1,38.4 390.4,37.9 390.7,38.6 391.1,37.8 391.4,51.4 391.7,61.0 392.1,67.6 392.4,73.1 392.8,76.8 393.1,79.3 393.4,81.5 393.8,82.7 394.1,83.5 394.4,84.4 394.8,85.2 395.1,85.4 395.4,86.3 395.8,85.9 396.1,86.8 396.5,87.0 396.8,87.3 397.1,86.9 397.5,65.1 397.8,53.1 398.1,47.2 398.5,43.1 398.8,41.1 399.2,40.1 399.5,38.7 399.8,39.3 400.2,38.7 400.5,38.3 400.8,38.0 401.2,38.8 401.5,38.5 401.9,38.2 402.2,38.9 402.5,38.7 402.9,38.0 403.2,38.8 403.5,38.5 403.9,53.3 404.2,63.7 404.5,71.6 404.9,77.1 405.2,80.1 405.6,83.2 405.9,85.3 406.2,87.3 406.6,88.4 406.9,88.9 407.2,89.8 407.6,90.1 407.9,90.0 408.3,90.9 408.6,91.1 408.9,90.7 409.3,91.3 409.6,92.0 409.9,72.8 410.3,60.6 410.6,53.4 410.9,48.1 411.3,44.6 411.6,42.3 412.0,41.2 412.3,40.0 412.6,39.8 413.0,39.5 413.3,38.8 413.6,39.1 414.0,38.6 414.3,39.1 414.7,38.9 415.0,39.0 415.3,38.6 415.7,39.0 416.0,39.0 416.3,54.6 416.7,65.6 417.0,73.8 417.4,79.5 417.7,83.2 418.0,86.5 418.4,88.5 418.7,90.7 419.0,91.7 419.4,92.9 419.7,93.0 420.0,93.8 420.4,94.2 420.7,94.8 421.1,94.8 421.4,95.0 421.7,95.0 422.1,94.6 422.4,80.0 422.7,69.6 423.1,61.6 423.4,56.0 423.8,50.9 424.1,48.3 424.4,45.6 424.8,43.9 425.1,42.4 425.4,42.3 425.8,41.3 426.1,40.7 426.5,40.6 426.8,39.5 427.1,39.8 427.5,39.2 427.8,39.3 428.1,39.7 428.5,55.7 428.8,67.6 429.1,76.3 429.5,82.2 429.8,86.2 430.2,89.9 430.5,91.9 430.8,93.4 431.2,94.5 431.5,95.8 431.8,95.9 432.2,96.9 432.5,96.8 432.9,97.1 433.2,97.9 433.5,98.0 433.9,98.1 434.2,97.8 434.5,98.2 434.9,86.8 435.2,77.2 435.5,70.5 435.9,64.5 436.2,59.7 436.6,56.0 436.9,53.1 437.2,50.6 437.6,48.0 437.9,46.5 438.2,44.9 438.6,43.7 438.9,43.4 439.3,42.3 439.6,41.5 439.9,41.7 440.3,40.9 440.6,40.6 440.9,57.0 441.3,69.2 441.6,78.4 442.0,84.3 442.3,89.3 442.6,92.2 443.0,94.5 443.3,96.5 443.6,97.5 444.0,98.4 444.3,98.9 444.6,99.6 445.0,100.1 445.3,100.2 445.7,100.3 446.0,100.8 446.3,100.5 446.7,101.0 447.0,101.3 447.3,92.1 447.7,84.5 448.0,78.4 448.4,72.5 448.7,67.7 449.0,63.9 449.4,60.3 449.7,58.1 450.0,55.2 450.4,53.1 450.7,51.6 451.1,49.7 451.4,48.7 451.7,47.1 452.1,46.0 452.4,45.2 452.7,44.6 453.1,44.0 453.4,60.9 453.7,72.5 454.1,80.6 454.4,87.1 454.8,91.8 455.1,94.6 455.4,97.4 455.8,98.8 456.1,99.8 456.4,100.4 456.8,101.6 457.1,101.9 457.5,101.9 457.8,102.4 458.1,102.8 458.5,102.9 458.8,103.3 459.1,103.4 459.5,103.7 459.8,96.1 460.2,89.8 460.5,84.8 460.8,79.4 461.2,75.9 461.5,72.0 461.8,68.3 462.2,65.4 462.5,62.7 462.8,59.7 463.2,58.4 463.5,56.5 463.9,54.8 464.2,52.8 464.5,51.9 464.9,50.9 465.2,49.3 465.5,48.5 465.9,64.7 466.2,76.0 466.6,84.1 466.9,90.1 467.2,94.3 467.6,97.4 467.9,99.4 468.2,100.9 468.6,102.6 468.9,103.5 469.3,103.6 469.6,104.6 469.9,104.6 470.3,104.9 470.6,105.1 470.9,105.0 471.3,105.3 471.6,106.0 471.9,99.9 472.3,94.8 472.6,90.1 473.0,86.0 473.3,82.2 473.6,78.2 474.0,75.2 474.3,72.5 474.6,69.8 475.0,67.3 475.3,65.3 475.7,62.9 476.0,61.4 476.3,59.8 476.7,58.2 477.0,56.8 477.3,54.9 477.7,54.3 478.0,52.9 478.3,68.0 478.7,79.3 479.0,87.6 479.4,92.6 479.7,96.7 480.0,100.5 480.4,102.4 480.7,103.7 481.0,104.6 481.4,105.8 481.7,106.1 482.1,107.0 482.4,106.9 482.7,107.5 483.1,107.7 483.4,107.5 483.7,107.5 484.1,107.6 484.4,103.2 484.8,99.0 485.1,94.7 485.4,91.1 485.8,87.4 486.1,84.2 486.4,81.9 486.8,78.9 487.1,76.1 487.4,74.1 487.8,72.0 488.1,70.1 488.5,67.6 488.8,65.5 489.1,63.8 489.5,63.1 489.8,61.2 490.1,60.1 490.5,58.6 490.8,73.2 491.2,83.0 491.5,90.3 491.8,96.6 492.2,99.8 492.5,103.1 492.8,105.2 493.2,106.4 493.5,107.0 493.9,107.5 494.2,108.9 494.5,109.1 494.9,109.7 495.2,109.5 495.5,109.7 495.9,110.0 496.2,110.2 496.5,109.8 496.9,105.9 497.2,102.7 497.6,99.2 497.9,95.7 498.2,92.5 498.6,89.4 498.9,87.3 499.2,84.5 499.6,82.2 499.9,79.7 500.3,78.2 500.6,76.2 500.9,74.4 501.3,71.8 501.6,70.8 501.9,69.0 502.3,67.9 502.6,66.3 503.0,65.3 503.3,78.0 503.6,87.9 504.0,94.2 504.3,99.5 504.6,103.1 505.0,105.3 505.3,107.3 505.6,108.7 506.0,109.9 506.3,110.6 506.7,110.3 507.0,111.3 507.3,111.8 507.7,111.9 508.0,111.8 508.3,111.5 508.7,112.3 509.0,111.8 509.4,108.8 509.7,105.8 510.0,102.4 510.4,99.9 510.7,97.6 511.0,94.5 511.4,92.0 511.7,89.7 512.0,87.8 512.4,85.1 512.7,83.2 513.1,81.1 513.4,79.9 513.7,77.8 514.1,76.3 514.4,75.2 514.7,73.9 515.1,72.4" fill="none" stroke="#4C72B0" stroke-width="0.95" stroke-linejoin="round" stroke-dasharray="2.4,1.4"/>
<polygon points="480.0,45.3 486.0,45.3 489.0,68.0" fill="#cfcfcf" stroke="none" stroke-width="0" fill-opacity="0.5"/>
<rect x="466.50" y="32.00" width="42.50" height="13.30" fill="#D2D2D2" stroke="none" stroke-width="0" rx="0" fill-opacity="0.9"/>
<text x="487.70" y="41.55" font-size="7.65" text-anchor="middle" fill="#222" font-weight="normal" letter-spacing="0.00" stroke="#222" stroke-width="0.08">Forgetting</text>
<polygon points="440.0,111.4 448.0,111.4 455.0,95.0" fill="#cfcfcf" stroke="none" stroke-width="0" fill-opacity="0.5"/>
<rect x="418.20" y="111.40" width="44.90" height="12.40" fill="#D2D2D2" stroke="none" stroke-width="0" rx="0" fill-opacity="0.95"/>
<text x="440.60" y="120.35" font-size="7.65" text-anchor="middle" fill="#222" font-weight="normal" letter-spacing="0.00" stroke="#222" stroke-width="0.08">Relearning</text>
<text x="525.40" y="43.75" font-size="7.65" text-anchor="start" fill="#2b2b2b" font-weight="normal" letter-spacing="0.00" stroke="#2b2b2b" stroke-width="0.08">Test error of</text>
<line x1="526.00" y1="52.50" x2="540.00" y2="52.50" stroke="#444" stroke-width="0.8"/>
<text x="545.00" y="55.25" font-size="7.65" text-anchor="start" fill="#2b2b2b" font-weight="normal" letter-spacing="0.00" stroke="#2b2b2b" stroke-width="0.08">Task 1</text>
<line x1="526.00" y1="62.30" x2="540.00" y2="62.30" stroke="#444" stroke-width="0.8" stroke-dasharray="2.2,1.6"/>
<text x="545.00" y="65.05" font-size="7.65" text-anchor="start" fill="#2b2b2b" font-weight="normal" letter-spacing="0.00" stroke="#2b2b2b" stroke-width="0.08">Task 2</text>
<text x="525.40" y="82.65" font-size="7.65" text-anchor="start" fill="#2b2b2b" font-weight="normal" letter-spacing="0.00" stroke="#2b2b2b" stroke-width="0.08">Train with</text>
<rect x="524.00" y="88.50" width="13.60" height="7.40" fill="#DCEBD9" stroke="none" stroke-width="0" rx="0"/>
<text x="542.50" y="94.75" font-size="7.65" text-anchor="start" fill="#2b2b2b" font-weight="normal" letter-spacing="0.00" stroke="#2b2b2b" stroke-width="0.08">Task 1</text>
<rect x="524.00" y="97.90" width="13.60" height="7.90" fill="#F6D3D6" stroke="none" stroke-width="0" rx="0"/>
<text x="542.50" y="104.45" font-size="7.65" text-anchor="start" fill="#2b2b2b" font-weight="normal" letter-spacing="0.00" stroke="#2b2b2b" stroke-width="0.08">Task 2</text>
<rect x="609.80" y="31.30" width="73.50" height="92.70" fill="#EAEAF2" stroke="none" stroke-width="0" rx="0"/>
<line x1="609.80" y1="108.10" x2="683.30" y2="108.10" stroke="#ffffff" stroke-width="0.6"/>
<line x1="609.80" y1="86.80" x2="683.30" y2="86.80" stroke="#ffffff" stroke-width="0.6"/>
<line x1="609.80" y1="65.50" x2="683.30" y2="65.50" stroke="#ffffff" stroke-width="0.6"/>
<line x1="609.80" y1="44.20" x2="683.30" y2="44.20" stroke="#ffffff" stroke-width="0.6"/>
<line x1="611.38" y1="31.30" x2="611.38" y2="124.00" stroke="#ffffff" stroke-width="0.6"/>
<line x1="613.00" y1="31.30" x2="613.00" y2="124.00" stroke="#ffffff" stroke-width="0.6"/>
<line x1="623.63" y1="31.30" x2="623.63" y2="124.00" stroke="#ffffff" stroke-width="0.6"/>
<line x1="629.84" y1="31.30" x2="629.84" y2="124.00" stroke="#ffffff" stroke-width="0.6"/>
<line x1="634.25" y1="31.30" x2="634.25" y2="124.00" stroke="#ffffff" stroke-width="0.6"/>
<line x1="637.67" y1="31.30" x2="637.67" y2="124.00" stroke="#ffffff" stroke-width="0.6"/>
<line x1="640.47" y1="31.30" x2="640.47" y2="124.00" stroke="#ffffff" stroke-width="0.6"/>
<line x1="642.83" y1="31.30" x2="642.83" y2="124.00" stroke="#ffffff" stroke-width="0.6"/>
<line x1="644.88" y1="31.30" x2="644.88" y2="124.00" stroke="#ffffff" stroke-width="0.6"/>
<line x1="646.68" y1="31.30" x2="646.68" y2="124.00" stroke="#ffffff" stroke-width="0.6"/>
<line x1="648.30" y1="31.30" x2="648.30" y2="124.00" stroke="#ffffff" stroke-width="0.6"/>
<line x1="658.93" y1="31.30" x2="658.93" y2="124.00" stroke="#ffffff" stroke-width="0.6"/>
<line x1="665.14" y1="31.30" x2="665.14" y2="124.00" stroke="#ffffff" stroke-width="0.6"/>
<line x1="669.55" y1="31.30" x2="669.55" y2="124.00" stroke="#ffffff" stroke-width="0.6"/>
<line x1="672.97" y1="31.30" x2="672.97" y2="124.00" stroke="#ffffff" stroke-width="0.6"/>
<line x1="675.77" y1="31.30" x2="675.77" y2="124.00" stroke="#ffffff" stroke-width="0.6"/>
<line x1="678.13" y1="31.30" x2="678.13" y2="124.00" stroke="#ffffff" stroke-width="0.6"/>
<line x1="680.18" y1="31.30" x2="680.18" y2="124.00" stroke="#ffffff" stroke-width="0.6"/>
<line x1="681.98" y1="31.30" x2="681.98" y2="124.00" stroke="#ffffff" stroke-width="0.6"/>
<text x="607.00" y="110.53" font-size="6.75" text-anchor="end" fill="#3c3c3c" font-weight="normal" letter-spacing="0.00" stroke="#3c3c3c" stroke-width="0.08">0.65</text>
<text x="607.00" y="89.23" font-size="6.75" text-anchor="end" fill="#3c3c3c" font-weight="normal" letter-spacing="0.00" stroke="#3c3c3c" stroke-width="0.08">0.70</text>
<text x="607.00" y="67.93" font-size="6.75" text-anchor="end" fill="#3c3c3c" font-weight="normal" letter-spacing="0.00" stroke="#3c3c3c" stroke-width="0.08">0.75</text>
<text x="607.00" y="46.63" font-size="6.75" text-anchor="end" fill="#3c3c3c" font-weight="normal" letter-spacing="0.00" stroke="#3c3c3c" stroke-width="0.08">0.80</text>
<text x="613.60" y="133.29" font-size="6.08" text-anchor="middle" fill="#3c3c3c" stroke="#3c3c3c" stroke-width="0.06">10<tspan font-size="3.77" dy="-2.55">−4</tspan></text>
<text x="648.90" y="133.29" font-size="6.08" text-anchor="middle" fill="#3c3c3c" stroke="#3c3c3c" stroke-width="0.06">10<tspan font-size="3.77" dy="-2.55">−3</tspan></text>
<text x="646.10" y="143.25" font-size="7.65" text-anchor="middle" fill="#2b2b2b" font-weight="normal" letter-spacing="0.00" stroke="#2b2b2b" stroke-width="0.08">Learning rate</text>
<text x="588.50" y="81.15" font-size="7.65" text-anchor="middle" fill="#2b2b2b" font-weight="normal" letter-spacing="0.00" stroke="#2b2b2b" stroke-width="0.08" transform="rotate(-90 588.50 78.40)">Mean of test error</text>
<polyline points="613.0,58.8 628.6,67.6 640.3,90.5 647.6,58.6 652.6,46.3 679.5,44.6" fill="none" stroke="#DD8452" stroke-width="1.0" stroke-linejoin="round" stroke-dasharray="2.6,1.4"/>
<polyline points="613.0,60.6 628.6,73.2 640.3,110.0 647.6,114.1 652.6,84.6 679.5,44.9" fill="none" stroke="#4C72B0" stroke-width="1.0" stroke-linejoin="round"/>
<line x1="613.00" y1="54.80" x2="613.00" y2="63.20" stroke="#DD8452" stroke-width="0.75"/>
<line x1="611.20" y1="54.80" x2="614.80" y2="54.80" stroke="#DD8452" stroke-width="0.75"/>
<line x1="611.20" y1="63.20" x2="614.80" y2="63.20" stroke="#DD8452" stroke-width="0.75"/>
<line x1="611.60" y1="57.40" x2="614.40" y2="60.20" stroke="#DD8452" stroke-width="0.8"/>
<line x1="611.60" y1="60.20" x2="614.40" y2="57.40" stroke="#DD8452" stroke-width="0.8"/>
<line x1="628.60" y1="63.20" x2="628.60" y2="72.00" stroke="#DD8452" stroke-width="0.75"/>
<line x1="626.80" y1="63.20" x2="630.40" y2="63.20" stroke="#DD8452" stroke-width="0.75"/>
<line x1="626.80" y1="72.00" x2="630.40" y2="72.00" stroke="#DD8452" stroke-width="0.75"/>
<line x1="627.20" y1="66.20" x2="630.00" y2="69.00" stroke="#DD8452" stroke-width="0.8"/>
<line x1="627.20" y1="69.00" x2="630.00" y2="66.20" stroke="#DD8452" stroke-width="0.8"/>
<line x1="640.30" y1="85.80" x2="640.30" y2="97.60" stroke="#DD8452" stroke-width="0.75"/>
<line x1="638.50" y1="85.80" x2="642.10" y2="85.80" stroke="#DD8452" stroke-width="0.75"/>
<line x1="638.50" y1="97.60" x2="642.10" y2="97.60" stroke="#DD8452" stroke-width="0.75"/>
<line x1="638.90" y1="89.10" x2="641.70" y2="91.90" stroke="#DD8452" stroke-width="0.8"/>
<line x1="638.90" y1="91.90" x2="641.70" y2="89.10" stroke="#DD8452" stroke-width="0.8"/>
<line x1="647.60" y1="52.60" x2="647.60" y2="62.60" stroke="#DD8452" stroke-width="0.75"/>
<line x1="645.80" y1="52.60" x2="649.40" y2="52.60" stroke="#DD8452" stroke-width="0.75"/>
<line x1="645.80" y1="62.60" x2="649.40" y2="62.60" stroke="#DD8452" stroke-width="0.75"/>
<line x1="646.20" y1="57.20" x2="649.00" y2="60.00" stroke="#DD8452" stroke-width="0.8"/>
<line x1="646.20" y1="60.00" x2="649.00" y2="57.20" stroke="#DD8452" stroke-width="0.8"/>
<line x1="652.60" y1="39.70" x2="652.60" y2="52.60" stroke="#DD8452" stroke-width="0.75"/>
<line x1="650.80" y1="39.70" x2="654.40" y2="39.70" stroke="#DD8452" stroke-width="0.75"/>
<line x1="650.80" y1="52.60" x2="654.40" y2="52.60" stroke="#DD8452" stroke-width="0.75"/>
<line x1="651.20" y1="44.90" x2="654.00" y2="47.70" stroke="#DD8452" stroke-width="0.8"/>
<line x1="651.20" y1="47.70" x2="654.00" y2="44.90" stroke="#DD8452" stroke-width="0.8"/>
<line x1="679.50" y1="35.30" x2="679.50" y2="52.60" stroke="#DD8452" stroke-width="0.75"/>
<line x1="677.70" y1="35.30" x2="681.30" y2="35.30" stroke="#DD8452" stroke-width="0.75"/>
<line x1="677.70" y1="52.60" x2="681.30" y2="52.60" stroke="#DD8452" stroke-width="0.75"/>
<line x1="678.10" y1="43.20" x2="680.90" y2="46.00" stroke="#DD8452" stroke-width="0.8"/>
<line x1="678.10" y1="46.00" x2="680.90" y2="43.20" stroke="#DD8452" stroke-width="0.8"/>
<line x1="613.00" y1="56.50" x2="613.00" y2="64.50" stroke="#4C72B0" stroke-width="0.75"/>
<line x1="611.20" y1="56.50" x2="614.80" y2="56.50" stroke="#4C72B0" stroke-width="0.75"/>
<line x1="611.20" y1="64.50" x2="614.80" y2="64.50" stroke="#4C72B0" stroke-width="0.75"/>
<circle cx="613.00" cy="60.60" r="1.6" fill="#4C72B0" stroke="none" stroke-width="0"/>
<line x1="628.60" y1="70.00" x2="628.60" y2="78.00" stroke="#4C72B0" stroke-width="0.75"/>
<line x1="626.80" y1="70.00" x2="630.40" y2="70.00" stroke="#4C72B0" stroke-width="0.75"/>
<line x1="626.80" y1="78.00" x2="630.40" y2="78.00" stroke="#4C72B0" stroke-width="0.75"/>
<circle cx="628.60" cy="73.20" r="1.6" fill="#4C72B0" stroke="none" stroke-width="0"/>
<line x1="640.30" y1="103.80" x2="640.30" y2="116.00" stroke="#4C72B0" stroke-width="0.75"/>
<line x1="638.50" y1="103.80" x2="642.10" y2="103.80" stroke="#4C72B0" stroke-width="0.75"/>
<line x1="638.50" y1="116.00" x2="642.10" y2="116.00" stroke="#4C72B0" stroke-width="0.75"/>
<circle cx="640.30" cy="110.00" r="1.6" fill="#4C72B0" stroke="none" stroke-width="0"/>
<line x1="647.60" y1="107.00" x2="647.60" y2="120.30" stroke="#4C72B0" stroke-width="0.75"/>
<line x1="645.80" y1="107.00" x2="649.40" y2="107.00" stroke="#4C72B0" stroke-width="0.75"/>
<line x1="645.80" y1="120.30" x2="649.40" y2="120.30" stroke="#4C72B0" stroke-width="0.75"/>
<circle cx="647.60" cy="114.10" r="1.6" fill="#4C72B0" stroke="none" stroke-width="0"/>
<line x1="652.60" y1="80.00" x2="652.60" y2="90.00" stroke="#4C72B0" stroke-width="0.75"/>
<line x1="650.80" y1="80.00" x2="654.40" y2="80.00" stroke="#4C72B0" stroke-width="0.75"/>
<line x1="650.80" y1="90.00" x2="654.40" y2="90.00" stroke="#4C72B0" stroke-width="0.75"/>
<circle cx="652.60" cy="84.60" r="1.6" fill="#4C72B0" stroke="none" stroke-width="0"/>
<line x1="679.50" y1="39.30" x2="679.50" y2="50.60" stroke="#4C72B0" stroke-width="0.75"/>
<line x1="677.70" y1="39.30" x2="681.30" y2="39.30" stroke="#4C72B0" stroke-width="0.75"/>
<line x1="677.70" y1="50.60" x2="681.30" y2="50.60" stroke="#4C72B0" stroke-width="0.75"/>
<circle cx="679.50" cy="44.90" r="1.6" fill="#4C72B0" stroke="none" stroke-width="0"/>
<rect x="15.80" y="181.00" width="193.70" height="99.30" fill="#C9C9C9" stroke="#9B9B9B" stroke-width="0.7" rx="3"/>
<rect x="22.00" y="185.00" width="193.00" height="98.80" fill="#C9C9C9" stroke="#9B9B9B" stroke-width="0.7" rx="3"/>
<rect x="28.00" y="188.50" width="192.70" height="98.90" fill="#C9C9C9" stroke="#9B9B9B" stroke-width="0.7" rx="3"/>
<rect x="36.00" y="194.30" width="86.60" height="74.80" fill="#ffffff" stroke="none" stroke-width="0" rx="3"/>
<rect x="127.90" y="194.30" width="86.50" height="74.80" fill="#ffffff" stroke="none" stroke-width="0" rx="3"/>
<line x1="33.80" y1="277.10" x2="98.20" y2="277.10" stroke="#444" stroke-width="0.8"/>
<line x1="33.80" y1="273.80" x2="33.80" y2="280.40" stroke="#444" stroke-width="0.8"/>
<line x1="151.20" y1="280.10" x2="208.00" y2="280.10" stroke="#444" stroke-width="0.9"/>
<polygon points="214.7,280.1 206.5,277.3 206.5,282.9" fill="#444" stroke="none" stroke-width="0"/>
<text x="124.20" y="279.46" font-size="6.55" text-anchor="middle" fill="#2b2b2b" font-weight="normal" letter-spacing="0.00" stroke="#2b2b2b" stroke-width="0.06">Concept drifting</text>
<line x1="41.30" y1="209.50" x2="51.30" y2="213.50" stroke="#8cb8e6" stroke-width="0.35"/>
<line x1="41.30" y1="209.50" x2="51.30" y2="223.90" stroke="#8cb8e6" stroke-width="0.35"/>
<line x1="41.30" y1="209.50" x2="51.30" y2="234.90" stroke="#8cb8e6" stroke-width="0.35"/>
<line x1="41.30" y1="215.50" x2="51.30" y2="213.50" stroke="#8cb8e6" stroke-width="0.35"/>
<line x1="41.30" y1="215.50" x2="51.30" y2="223.90" stroke="#8cb8e6" stroke-width="0.35"/>
<line x1="41.30" y1="215.50" x2="51.30" y2="234.90" stroke="#8cb8e6" stroke-width="0.35"/>
<line x1="41.30" y1="221.90" x2="51.30" y2="213.50" stroke="#8cb8e6" stroke-width="0.35"/>
<line x1="41.30" y1="221.90" x2="51.30" y2="223.90" stroke="#8cb8e6" stroke-width="0.35"/>
<line x1="41.30" y1="221.90" x2="51.30" y2="234.90" stroke="#8cb8e6" stroke-width="0.35"/>
<line x1="41.30" y1="226.90" x2="51.30" y2="213.50" stroke="#8cb8e6" stroke-width="0.35"/>
<line x1="41.30" y1="226.90" x2="51.30" y2="223.90" stroke="#8cb8e6" stroke-width="0.35"/>
<line x1="41.30" y1="226.90" x2="51.30" y2="234.90" stroke="#8cb8e6" stroke-width="0.35"/>
<line x1="41.30" y1="232.90" x2="51.30" y2="213.50" stroke="#8cb8e6" stroke-width="0.35"/>
<line x1="41.30" y1="232.90" x2="51.30" y2="223.90" stroke="#8cb8e6" stroke-width="0.35"/>
<line x1="41.30" y1="232.90" x2="51.30" y2="234.90" stroke="#8cb8e6" stroke-width="0.35"/>
<line x1="41.30" y1="238.90" x2="51.30" y2="213.50" stroke="#8cb8e6" stroke-width="0.35"/>
<line x1="41.30" y1="238.90" x2="51.30" y2="223.90" stroke="#8cb8e6" stroke-width="0.35"/>
<line x1="41.30" y1="238.90" x2="51.30" y2="234.90" stroke="#8cb8e6" stroke-width="0.35"/>
<line x1="51.30" y1="213.50" x2="68.50" y2="202.30" stroke="#3f86d2" stroke-width="0.55"/>
<line x1="51.30" y1="213.50" x2="68.50" y2="213.50" stroke="#3f86d2" stroke-width="0.55"/>
<line x1="51.30" y1="213.50" x2="68.50" y2="224.30" stroke="#3f86d2" stroke-width="0.55"/>
<line x1="51.30" y1="213.50" x2="68.50" y2="235.40" stroke="#3f86d2" stroke-width="0.55"/>
<line x1="51.30" y1="213.50" x2="68.50" y2="245.80" stroke="#3f86d2" stroke-width="0.55"/>
<line x1="51.30" y1="223.90" x2="68.50" y2="202.30" stroke="#3f86d2" stroke-width="0.55"/>
<line x1="51.30" y1="223.90" x2="68.50" y2="213.50" stroke="#3f86d2" stroke-width="0.55"/>
<line x1="51.30" y1="223.90" x2="68.50" y2="224.30" stroke="#3f86d2" stroke-width="0.55"/>
<line x1="51.30" y1="223.90" x2="68.50" y2="235.40" stroke="#3f86d2" stroke-width="0.55"/>
<line x1="51.30" y1="223.90" x2="68.50" y2="245.80" stroke="#3f86d2" stroke-width="0.55"/>
<line x1="51.30" y1="234.90" x2="68.50" y2="202.30" stroke="#3f86d2" stroke-width="0.55"/>
<line x1="51.30" y1="234.90" x2="68.50" y2="213.50" stroke="#3f86d2" stroke-width="0.55"/>
<line x1="51.30" y1="234.90" x2="68.50" y2="224.30" stroke="#3f86d2" stroke-width="0.55"/>
<line x1="51.30" y1="234.90" x2="68.50" y2="235.40" stroke="#3f86d2" stroke-width="0.55"/>
<line x1="51.30" y1="234.90" x2="68.50" y2="245.80" stroke="#3f86d2" stroke-width="0.55"/>
<circle cx="51.30" cy="213.50" r="3.9" fill="#BFDDF7" stroke="#5A9BDB" stroke-width="0.6"/>
<circle cx="51.30" cy="223.90" r="3.9" fill="#BFDDF7" stroke="#5A9BDB" stroke-width="0.6"/>
<circle cx="51.30" cy="234.90" r="3.9" fill="#BFDDF7" stroke="#5A9BDB" stroke-width="0.6"/>
<circle cx="68.50" cy="202.30" r="3.9" fill="#BFDDF7" stroke="#5A9BDB" stroke-width="0.6"/>
<circle cx="68.50" cy="213.50" r="3.9" fill="#BFDDF7" stroke="#5A9BDB" stroke-width="0.6"/>
<circle cx="68.50" cy="224.30" r="3.9" fill="#BFDDF7" stroke="#5A9BDB" stroke-width="0.6"/>
<circle cx="68.50" cy="235.40" r="3.9" fill="#BFDDF7" stroke="#5A9BDB" stroke-width="0.6"/>
<circle cx="68.50" cy="245.80" r="3.9" fill="#BFDDF7" stroke="#5A9BDB" stroke-width="0.6"/>
<line x1="135.40" y1="215.00" x2="145.40" y2="219.00" stroke="#8cb8e6" stroke-width="0.35"/>
<line x1="135.40" y1="215.00" x2="145.40" y2="229.90" stroke="#8cb8e6" stroke-width="0.35"/>
<line x1="135.40" y1="215.00" x2="145.40" y2="241.10" stroke="#8cb8e6" stroke-width="0.35"/>
<line x1="135.40" y1="221.00" x2="145.40" y2="219.00" stroke="#8cb8e6" stroke-width="0.35"/>
<line x1="135.40" y1="221.00" x2="145.40" y2="229.90" stroke="#8cb8e6" stroke-width="0.35"/>
<line x1="135.40" y1="221.00" x2="145.40" y2="241.10" stroke="#8cb8e6" stroke-width="0.35"/>
<line x1="135.40" y1="227.90" x2="145.40" y2="219.00" stroke="#8cb8e6" stroke-width="0.35"/>
<line x1="135.40" y1="227.90" x2="145.40" y2="229.90" stroke="#8cb8e6" stroke-width="0.35"/>
<line x1="135.40" y1="227.90" x2="145.40" y2="241.10" stroke="#8cb8e6" stroke-width="0.35"/>
<line x1="135.40" y1="232.90" x2="145.40" y2="219.00" stroke="#8cb8e6" stroke-width="0.35"/>
<line x1="135.40" y1="232.90" x2="145.40" y2="229.90" stroke="#8cb8e6" stroke-width="0.35"/>
<line x1="135.40" y1="232.90" x2="145.40" y2="241.10" stroke="#8cb8e6" stroke-width="0.35"/>
<line x1="135.40" y1="239.10" x2="145.40" y2="219.00" stroke="#8cb8e6" stroke-width="0.35"/>
<line x1="135.40" y1="239.10" x2="145.40" y2="229.90" stroke="#8cb8e6" stroke-width="0.35"/>
<line x1="135.40" y1="239.10" x2="145.40" y2="241.10" stroke="#8cb8e6" stroke-width="0.35"/>
<line x1="135.40" y1="245.10" x2="145.40" y2="219.00" stroke="#8cb8e6" stroke-width="0.35"/>
<line x1="135.40" y1="245.10" x2="145.40" y2="229.90" stroke="#8cb8e6" stroke-width="0.35"/>
<line x1="135.40" y1="245.10" x2="145.40" y2="241.10" stroke="#8cb8e6" stroke-width="0.35"/>
<line x1="145.40" y1="219.00" x2="162.20" y2="207.80" stroke="#3f86d2" stroke-width="0.55"/>
<line x1="145.40" y1="219.00" x2="162.20" y2="218.90" stroke="#3f86d2" stroke-width="0.55"/>
<line x1="145.40" y1="219.00" x2="162.20" y2="229.90" stroke="#3f86d2" stroke-width="0.55"/>
<line x1="145.40" y1="219.00" x2="162.20" y2="240.80" stroke="#3f86d2" stroke-width="0.55"/>
<line x1="145.40" y1="219.00" x2="162.20" y2="251.60" stroke="#3f86d2" stroke-width="0.55"/>
<line x1="145.40" y1="229.90" x2="162.20" y2="207.80" stroke="#3f86d2" stroke-width="0.55"/>
<line x1="145.40" y1="229.90" x2="162.20" y2="218.90" stroke="#3f86d2" stroke-width="0.55"/>
<line x1="145.40" y1="229.90" x2="162.20" y2="229.90" stroke="#3f86d2" stroke-width="0.55"/>
<line x1="145.40" y1="229.90" x2="162.20" y2="240.80" stroke="#3f86d2" stroke-width="0.55"/>
<line x1="145.40" y1="229.90" x2="162.20" y2="251.60" stroke="#3f86d2" stroke-width="0.55"/>
<line x1="145.40" y1="241.10" x2="162.20" y2="207.80" stroke="#3f86d2" stroke-width="0.55"/>
<line x1="145.40" y1="241.10" x2="162.20" y2="218.90" stroke="#3f86d2" stroke-width="0.55"/>
<line x1="145.40" y1="241.10" x2="162.20" y2="229.90" stroke="#3f86d2" stroke-width="0.55"/>
<line x1="145.40" y1="241.10" x2="162.20" y2="240.80" stroke="#3f86d2" stroke-width="0.55"/>
<line x1="145.40" y1="241.10" x2="162.20" y2="251.60" stroke="#3f86d2" stroke-width="0.55"/>
<circle cx="145.40" cy="219.00" r="3.9" fill="#BFDDF7" stroke="#5A9BDB" stroke-width="0.6"/>
<circle cx="145.40" cy="229.90" r="3.9" fill="#BFDDF7" stroke="#5A9BDB" stroke-width="0.6"/>
<circle cx="145.40" cy="241.10" r="3.9" fill="#BFDDF7" stroke="#5A9BDB" stroke-width="0.6"/>
<circle cx="162.20" cy="207.80" r="3.9" fill="#BFDDF7" stroke="#5A9BDB" stroke-width="0.6"/>
<circle cx="162.20" cy="218.90" r="3.9" fill="#BFDDF7" stroke="#5A9BDB" stroke-width="0.6"/>
<circle cx="162.20" cy="229.90" r="3.9" fill="#BFDDF7" stroke="#5A9BDB" stroke-width="0.6"/>
<circle cx="162.20" cy="240.80" r="3.9" fill="#BFDDF7" stroke="#5A9BDB" stroke-width="0.6"/>
<circle cx="162.20" cy="251.60" r="3.9" fill="#BFDDF7" stroke="#5A9BDB" stroke-width="0.6"/>
<rect x="76.20" y="198.50" width="10.20" height="9.60" fill="#111" stroke="#F0606E" stroke-width="0.8" rx="0"/>
<rect x="79.70" y="199.80" width="3.20" height="2.50" fill="#ddd" stroke="none" stroke-width="0" rx="0"/>
<rect x="79.50" y="202.30" width="1.50" height="4.80" fill="#ccc" stroke="none" stroke-width="0" rx="0"/>
<rect x="81.60" y="202.30" width="1.50" height="4.80" fill="#ccc" stroke="none" stroke-width="0" rx="0"/>
<text x="89.80" y="206.00" font-size="7.5" text-anchor="start" fill="#F0606E" font-weight="normal" letter-spacing="0.00" stroke="#F0606E" stroke-width="0.08">Trouser</text>
<rect x="76.20" y="209.50" width="10.20" height="9.60" fill="#111" stroke="#7C5BC4" stroke-width="0.8" rx="0"/>
<rect x="78.20" y="210.80" width="6.20" height="7.30" fill="#e6e6e6" stroke="none" stroke-width="0" rx="0.8"/>
<text x="89.80" y="217.00" font-size="7.5" text-anchor="start" fill="#7C5BC4" font-weight="normal" letter-spacing="0.00" stroke="#7C5BC4" stroke-width="0.08">Pullover</text>
<rect x="76.20" y="220.50" width="10.20" height="9.60" fill="#111" stroke="#3F8F3A" stroke-width="0.8" rx="0"/>
<rect x="78.50" y="221.80" width="5.60" height="7.30" fill="#444" stroke="none" stroke-width="0" rx="0.5"/>
<text x="89.80" y="228.00" font-size="7.5" text-anchor="start" fill="#3F8F3A" font-weight="normal" letter-spacing="0.00" stroke="#3F8F3A" stroke-width="0.08">T-shirt</text>
<rect x="76.20" y="231.50" width="10.20" height="9.60" fill="#111" stroke="#111" stroke-width="0" rx="0"/>
<polygon points="80.2,232.5 82.4,232.5 84.0,240.1 78.6,240.1" fill="#ddd" stroke="none" stroke-width="0"/>
<text x="89.80" y="239.00" font-size="7.5" text-anchor="start" fill="#222" font-weight="normal" letter-spacing="0.00" stroke="#222" stroke-width="0.08">Dress</text>
<rect x="76.20" y="242.50" width="10.20" height="9.60" fill="#111" stroke="#111" stroke-width="0" rx="0"/>
<rect x="78.40" y="243.50" width="5.80" height="7.60" fill="#cfcfcf" stroke="none" stroke-width="0" rx="0.8"/>
<line x1="81.30" y1="243.80" x2="81.30" y2="251.10" stroke="#333" stroke-width="0.6"/>
<text x="89.80" y="250.00" font-size="7.5" text-anchor="start" fill="#222" font-weight="normal" letter-spacing="0.00" stroke="#222" stroke-width="0.08">Coat</text>
<rect x="169.20" y="201.20" width="10.20" height="9.60" fill="#111" stroke="#3F8F3A" stroke-width="0.8" rx="0"/>
<rect x="171.50" y="202.50" width="5.60" height="7.30" fill="#444" stroke="none" stroke-width="0" rx="0.5"/>
<text x="182.20" y="208.70" font-size="7.5" text-anchor="start" fill="#3F8F3A" font-weight="normal" letter-spacing="0.00" stroke="#3F8F3A" stroke-width="0.08">T-shirt</text>
<rect x="169.20" y="212.40" width="10.20" height="9.60" fill="#111" stroke="#F0606E" stroke-width="0.8" rx="0"/>
<rect x="172.70" y="213.70" width="3.20" height="2.50" fill="#ddd" stroke="none" stroke-width="0" rx="0"/>
<rect x="172.50" y="216.20" width="1.50" height="4.80" fill="#ccc" stroke="none" stroke-width="0" rx="0"/>
<rect x="174.60" y="216.20" width="1.50" height="4.80" fill="#ccc" stroke="none" stroke-width="0" rx="0"/>
<text x="182.20" y="219.90" font-size="7.5" text-anchor="start" fill="#F0606E" font-weight="normal" letter-spacing="0.00" stroke="#F0606E" stroke-width="0.08">Trouser</text>
<rect x="169.20" y="223.60" width="10.20" height="9.60" fill="#111" stroke="#7C5BC4" stroke-width="0.8" rx="0"/>
<rect x="171.20" y="224.90" width="6.20" height="7.30" fill="#e6e6e6" stroke="none" stroke-width="0" rx="0.8"/>
<text x="182.20" y="231.10" font-size="7.5" text-anchor="start" fill="#7C5BC4" font-weight="normal" letter-spacing="0.00" stroke="#7C5BC4" stroke-width="0.08">Pullover</text>
<rect x="169.20" y="234.80" width="10.20" height="9.60" fill="#111" stroke="#111" stroke-width="0" rx="0"/>
<polygon points="173.2,235.8 175.4,235.8 177.0,243.4 171.6,243.4" fill="#ddd" stroke="none" stroke-width="0"/>
<text x="182.20" y="242.30" font-size="7.5" text-anchor="start" fill="#222" font-weight="normal" letter-spacing="0.00" stroke="#222" stroke-width="0.08">Dress</text>
<rect x="169.20" y="246.00" width="10.20" height="9.60" fill="#111" stroke="#111" stroke-width="0" rx="0"/>
<rect x="171.40" y="247.00" width="5.80" height="7.60" fill="#cfcfcf" stroke="none" stroke-width="0" rx="0.8"/>
<line x1="174.30" y1="247.30" x2="174.30" y2="254.60" stroke="#333" stroke-width="0.6"/>
<text x="182.20" y="253.50" font-size="7.5" text-anchor="start" fill="#222" font-weight="normal" letter-spacing="0.00" stroke="#222" stroke-width="0.08">Coat</text>
<circle cx="174.10" cy="259.00" r="0.75" fill="#222" stroke="none" stroke-width="0"/>
<circle cx="174.10" cy="262.00" r="0.75" fill="#222" stroke="none" stroke-width="0"/>
<circle cx="174.10" cy="265.00" r="0.75" fill="#222" stroke="none" stroke-width="0"/>
<rect x="248.80" y="180.20" width="156.20" height="93.90" fill="#EAEAF2" stroke="none" stroke-width="0" rx="0"/>
<line x1="248.80" y1="265.40" x2="405.00" y2="265.40" stroke="#ffffff" stroke-width="0.7"/>
<line x1="248.80" y1="240.10" x2="405.00" y2="240.10" stroke="#ffffff" stroke-width="0.7"/>
<line x1="248.80" y1="214.80" x2="405.00" y2="214.80" stroke="#ffffff" stroke-width="0.7"/>
<line x1="248.80" y1="189.50" x2="405.00" y2="189.50" stroke="#ffffff" stroke-width="0.7"/>
<line x1="255.00" y1="180.20" x2="255.00" y2="274.10" stroke="#ffffff" stroke-width="0.7"/>
<line x1="278.93" y1="180.20" x2="278.93" y2="274.10" stroke="#ffffff" stroke-width="0.7"/>
<line x1="302.86" y1="180.20" x2="302.86" y2="274.10" stroke="#ffffff" stroke-width="0.7"/>
<line x1="326.79" y1="180.20" x2="326.79" y2="274.10" stroke="#ffffff" stroke-width="0.7"/>
<line x1="350.72" y1="180.20" x2="350.72" y2="274.10" stroke="#ffffff" stroke-width="0.7"/>
<line x1="374.65" y1="180.20" x2="374.65" y2="274.10" stroke="#ffffff" stroke-width="0.7"/>
<line x1="398.58" y1="180.20" x2="398.58" y2="274.10" stroke="#ffffff" stroke-width="0.7"/>
<text x="246.00" y="267.83" font-size="6.75" text-anchor="end" fill="#3c3c3c" font-weight="normal" letter-spacing="0.00" stroke="#3c3c3c" stroke-width="0.08">0.2</text>
<text x="246.00" y="242.53" font-size="6.75" text-anchor="end" fill="#3c3c3c" font-weight="normal" letter-spacing="0.00" stroke="#3c3c3c" stroke-width="0.08">0.4</text>
<text x="246.00" y="217.23" font-size="6.75" text-anchor="end" fill="#3c3c3c" font-weight="normal" letter-spacing="0.00" stroke="#3c3c3c" stroke-width="0.08">0.6</text>
<text x="246.00" y="191.93" font-size="6.75" text-anchor="end" fill="#3c3c3c" font-weight="normal" letter-spacing="0.00" stroke="#3c3c3c" stroke-width="0.08">0.8</text>
<text x="255.00" y="281.63" font-size="6.75" text-anchor="middle" fill="#3c3c3c" font-weight="normal" letter-spacing="0.00" stroke="#3c3c3c" stroke-width="0.08">0</text>
<text x="278.93" y="281.63" font-size="6.75" text-anchor="middle" fill="#3c3c3c" font-weight="normal" letter-spacing="0.00" stroke="#3c3c3c" stroke-width="0.08">500</text>
<text x="302.86" y="281.63" font-size="6.75" text-anchor="middle" fill="#3c3c3c" font-weight="normal" letter-spacing="0.00" stroke="#3c3c3c" stroke-width="0.08">1,000</text>
<text x="326.79" y="281.63" font-size="6.75" text-anchor="middle" fill="#3c3c3c" font-weight="normal" letter-spacing="0.00" stroke="#3c3c3c" stroke-width="0.08">1,500</text>
<text x="350.72" y="281.63" font-size="6.75" text-anchor="middle" fill="#3c3c3c" font-weight="normal" letter-spacing="0.00" stroke="#3c3c3c" stroke-width="0.08">2,000</text>
<text x="374.65" y="281.63" font-size="6.75" text-anchor="middle" fill="#3c3c3c" font-weight="normal" letter-spacing="0.00" stroke="#3c3c3c" stroke-width="0.08">2,500</text>
<text x="398.58" y="281.63" font-size="6.75" text-anchor="middle" fill="#3c3c3c" font-weight="normal" letter-spacing="0.00" stroke="#3c3c3c" stroke-width="0.08">3,000</text>
<text x="326.70" y="292.15" font-size="7.65" text-anchor="middle" fill="#2b2b2b" font-weight="normal" letter-spacing="0.00" stroke="#2b2b2b" stroke-width="0.08">Training epoch</text>
<text x="229.50" y="252.75" font-size="7.65" text-anchor="middle" fill="#2b2b2b" font-weight="normal" letter-spacing="0.00" stroke="#2b2b2b" stroke-width="0.08" transform="rotate(-90 229.50 250.00)">Test error</text>
<clipPath id="fclip"><rect x="248.8" y="180.2" width="156.2" height="93.9"/></clipPath>
<g clip-path="url(#fclip)">
<polygon points="255.0,231.2 256.9,232.3 258.8,233.3 260.7,234.3 262.7,235.3 264.6,236.3 266.5,237.3 268.4,238.3 270.3,239.1 272.2,239.7 274.1,240.3 276.1,240.9 278.0,241.5 279.9,242.1 281.8,242.7 283.7,243.2 285.6,243.8 287.5,244.4 289.5,245.0 291.4,245.4 293.3,245.8 295.2,246.2 297.1,246.5 299.0,246.9 300.9,247.2 302.9,247.6 304.8,248.0 306.7,248.3 308.6,248.7 310.5,249.1 312.4,249.6 314.3,250.2 316.3,250.7 318.2,251.2 320.1,251.8 322.0,252.3 323.9,252.8 325.8,253.3 327.7,253.9 329.7,254.3 331.6,254.7 333.5,255.1 335.4,255.4 337.3,255.8 339.2,256.2 341.1,256.6 343.1,256.9 345.0,257.3 346.9,257.7 348.8,258.1 350.7,258.4 352.6,258.5 354.5,258.6 356.5,258.7 358.4,258.8 360.3,258.9 362.2,259.0 364.1,259.2 366.0,259.3 367.9,259.4 369.9,259.5 371.8,259.6 373.7,259.7 375.6,259.8 377.5,260.1 379.4,260.3 381.4,260.6 383.3,260.8 385.2,261.1 387.1,261.4 389.0,261.6 390.9,261.9 392.8,262.1 394.8,262.4 396.7,262.6 398.6,262.9 398.6,274.6 396.7,274.4 394.8,272.6 392.8,272.4 390.9,272.6 389.0,273.8 387.1,271.6 385.2,273.3 383.3,273.4 381.4,273.2 379.4,271.5 377.5,271.8 375.6,270.5 373.7,272.3 371.8,270.1 369.9,270.2 367.9,271.9 366.0,269.4 364.1,271.7 362.2,269.9 360.3,270.4 358.4,270.7 356.5,270.2 354.5,269.2 352.6,270.4 350.7,270.2 348.8,269.0 346.9,270.3 345.0,268.4 343.1,268.8 341.1,269.0 339.2,268.5 337.3,268.0 335.4,267.2 333.5,266.9 331.6,265.1 329.7,264.5 327.7,264.8 325.8,263.6 323.9,264.9 322.0,263.2 320.1,263.0 318.2,261.4 316.3,262.6 314.3,260.6 312.4,259.8 310.5,261.2 308.6,260.8 306.7,258.8 304.8,260.6 302.9,259.9 300.9,258.3 299.0,259.2 297.1,257.1 295.2,258.4 293.3,256.5 291.4,255.4 289.5,256.3 287.5,255.6 285.6,255.2 283.7,252.9 281.8,252.0 279.9,251.9 278.0,250.4 276.1,250.4 274.1,247.5 272.2,247.2 270.3,245.6 268.4,245.7 266.5,245.5 264.6,241.9 262.7,241.0 260.7,239.2 258.8,238.2 256.9,237.0 255.0,236.0" fill="#4C72B0" stroke="none" stroke-width="0" fill-opacity="0.16"/>
<line x1="255.48" y1="230.19" x2="255.48" y2="189.50" stroke="#DD8452" stroke-width="0.75" stroke-opacity="0.75"/>
<line x1="255.48" y1="234.03" x2="255.48" y2="192.03" stroke="#4C72B0" stroke-width="0.7" stroke-opacity="0.7" stroke-dasharray="1,1.2"/>
<line x1="258.54" y1="231.54" x2="258.54" y2="192.28" stroke="#DD8452" stroke-width="0.75" stroke-opacity="0.75"/>
<line x1="258.54" y1="235.65" x2="258.54" y2="194.81" stroke="#4C72B0" stroke-width="0.7" stroke-opacity="0.7" stroke-dasharray="1,1.2"/>
<line x1="261.60" y1="232.89" x2="261.60" y2="195.07" stroke="#DD8452" stroke-width="0.75" stroke-opacity="0.75"/>
<line x1="261.60" y1="237.27" x2="261.60" y2="197.60" stroke="#4C72B0" stroke-width="0.7" stroke-opacity="0.7" stroke-dasharray="1,1.2"/>
<line x1="264.67" y1="234.24" x2="264.67" y2="197.85" stroke="#DD8452" stroke-width="0.75" stroke-opacity="0.75"/>
<line x1="264.67" y1="238.89" x2="264.67" y2="200.38" stroke="#4C72B0" stroke-width="0.7" stroke-opacity="0.7" stroke-dasharray="1,1.2"/>
<line x1="267.73" y1="235.59" x2="267.73" y2="200.63" stroke="#DD8452" stroke-width="0.75" stroke-opacity="0.75"/>
<line x1="267.73" y1="240.50" x2="267.73" y2="203.16" stroke="#4C72B0" stroke-width="0.7" stroke-opacity="0.7" stroke-dasharray="1,1.2"/>
<line x1="270.79" y1="236.68" x2="270.79" y2="203.41" stroke="#DD8452" stroke-width="0.75" stroke-opacity="0.75"/>
<line x1="270.79" y1="241.81" x2="270.79" y2="205.94" stroke="#4C72B0" stroke-width="0.7" stroke-opacity="0.7" stroke-dasharray="1,1.2"/>
<line x1="273.86" y1="237.49" x2="273.86" y2="206.20" stroke="#DD8452" stroke-width="0.75" stroke-opacity="0.75"/>
<line x1="273.86" y1="242.75" x2="273.86" y2="208.73" stroke="#4C72B0" stroke-width="0.7" stroke-opacity="0.7" stroke-dasharray="1,1.2"/>
<line x1="276.92" y1="238.30" x2="276.92" y2="208.98" stroke="#DD8452" stroke-width="0.75" stroke-opacity="0.75"/>
<line x1="276.92" y1="243.69" x2="276.92" y2="211.51" stroke="#4C72B0" stroke-width="0.7" stroke-opacity="0.7" stroke-dasharray="1,1.2"/>
<line x1="279.98" y1="239.11" x2="279.98" y2="211.76" stroke="#DD8452" stroke-width="0.75" stroke-opacity="0.75"/>
<line x1="279.98" y1="244.63" x2="279.98" y2="214.29" stroke="#4C72B0" stroke-width="0.7" stroke-opacity="0.7" stroke-dasharray="1,1.2"/>
<line x1="283.05" y1="239.92" x2="283.05" y2="212.21" stroke="#DD8452" stroke-width="0.6" stroke-opacity="0.45"/>
<line x1="283.05" y1="245.57" x2="283.05" y2="238.66" stroke="#4C72B0" stroke-width="0.8" stroke-opacity="0.75"/>
<line x1="283.85" y1="245.57" x2="283.85" y2="243.72" stroke="#4C72B0" stroke-width="0.5" stroke-opacity="0.4"/>
<line x1="286.11" y1="240.73" x2="286.11" y2="211.57" stroke="#DD8452" stroke-width="0.6" stroke-opacity="0.45"/>
<line x1="286.11" y1="246.51" x2="286.11" y2="239.47" stroke="#4C72B0" stroke-width="0.8" stroke-opacity="0.75"/>
<line x1="286.91" y1="246.51" x2="286.91" y2="244.53" stroke="#4C72B0" stroke-width="0.5" stroke-opacity="0.4"/>
<line x1="289.17" y1="241.33" x2="289.17" y2="213.26" stroke="#DD8452" stroke-width="0.6" stroke-opacity="0.45"/>
<line x1="289.17" y1="247.45" x2="289.17" y2="240.06" stroke="#4C72B0" stroke-width="0.8" stroke-opacity="0.75"/>
<line x1="289.97" y1="247.45" x2="289.97" y2="245.12" stroke="#4C72B0" stroke-width="0.5" stroke-opacity="0.4"/>
<line x1="292.24" y1="241.17" x2="292.24" y2="211.64" stroke="#DD8452" stroke-width="0.6" stroke-opacity="0.45"/>
<line x1="292.24" y1="248.12" x2="292.24" y2="239.90" stroke="#4C72B0" stroke-width="0.8" stroke-opacity="0.75"/>
<line x1="293.04" y1="248.12" x2="293.04" y2="244.96" stroke="#4C72B0" stroke-width="0.5" stroke-opacity="0.4"/>
<line x1="295.30" y1="241.01" x2="295.30" y2="211.52" stroke="#DD8452" stroke-width="0.6" stroke-opacity="0.45"/>
<line x1="295.30" y1="248.70" x2="295.30" y2="239.74" stroke="#4C72B0" stroke-width="0.8" stroke-opacity="0.75"/>
<line x1="296.10" y1="248.70" x2="296.10" y2="244.80" stroke="#4C72B0" stroke-width="0.5" stroke-opacity="0.4"/>
<line x1="298.36" y1="240.84" x2="298.36" y2="211.36" stroke="#DD8452" stroke-width="0.6" stroke-opacity="0.45"/>
<line x1="298.36" y1="249.28" x2="298.36" y2="239.58" stroke="#4C72B0" stroke-width="0.8" stroke-opacity="0.75"/>
<line x1="299.16" y1="249.28" x2="299.16" y2="244.64" stroke="#4C72B0" stroke-width="0.5" stroke-opacity="0.4"/>
<line x1="301.42" y1="240.68" x2="301.42" y2="213.44" stroke="#DD8452" stroke-width="0.6" stroke-opacity="0.45"/>
<line x1="301.42" y1="249.86" x2="301.42" y2="239.42" stroke="#4C72B0" stroke-width="0.8" stroke-opacity="0.75"/>
<line x1="302.22" y1="249.86" x2="302.22" y2="244.48" stroke="#4C72B0" stroke-width="0.5" stroke-opacity="0.4"/>
<line x1="304.49" y1="240.52" x2="304.49" y2="211.14" stroke="#DD8452" stroke-width="0.6" stroke-opacity="0.45"/>
<line x1="304.49" y1="250.44" x2="304.49" y2="239.25" stroke="#4C72B0" stroke-width="0.8" stroke-opacity="0.75"/>
<line x1="305.29" y1="250.44" x2="305.29" y2="244.31" stroke="#4C72B0" stroke-width="0.5" stroke-opacity="0.4"/>
<line x1="307.55" y1="240.36" x2="307.55" y2="213.30" stroke="#DD8452" stroke-width="0.6" stroke-opacity="0.45"/>
<line x1="307.55" y1="251.02" x2="307.55" y2="239.09" stroke="#4C72B0" stroke-width="0.8" stroke-opacity="0.75"/>
<line x1="308.35" y1="251.02" x2="308.35" y2="244.15" stroke="#4C72B0" stroke-width="0.5" stroke-opacity="0.4"/>
<line x1="310.61" y1="240.20" x2="310.61" y2="212.67" stroke="#DD8452" stroke-width="0.6" stroke-opacity="0.45"/>
<line x1="310.61" y1="251.64" x2="310.61" y2="238.93" stroke="#4C72B0" stroke-width="0.8" stroke-opacity="0.75"/>
<line x1="311.41" y1="251.64" x2="311.41" y2="243.99" stroke="#4C72B0" stroke-width="0.5" stroke-opacity="0.4"/>
<line x1="313.68" y1="240.22" x2="313.68" y2="211.99" stroke="#DD8452" stroke-width="0.6" stroke-opacity="0.45"/>
<line x1="313.68" y1="252.50" x2="313.68" y2="238.96" stroke="#4C72B0" stroke-width="0.8" stroke-opacity="0.75"/>
<line x1="314.48" y1="252.50" x2="314.48" y2="244.02" stroke="#4C72B0" stroke-width="0.5" stroke-opacity="0.4"/>
<line x1="316.74" y1="240.53" x2="316.74" y2="211.21" stroke="#DD8452" stroke-width="0.6" stroke-opacity="0.45"/>
<line x1="316.74" y1="253.35" x2="316.74" y2="239.26" stroke="#4C72B0" stroke-width="0.8" stroke-opacity="0.75"/>
<line x1="317.54" y1="253.35" x2="317.54" y2="244.32" stroke="#4C72B0" stroke-width="0.5" stroke-opacity="0.4"/>
<line x1="319.80" y1="240.83" x2="319.80" y2="212.67" stroke="#DD8452" stroke-width="0.6" stroke-opacity="0.45"/>
<line x1="319.80" y1="254.20" x2="319.80" y2="239.57" stroke="#4C72B0" stroke-width="0.8" stroke-opacity="0.75"/>
<line x1="320.60" y1="254.20" x2="320.60" y2="244.63" stroke="#4C72B0" stroke-width="0.5" stroke-opacity="0.4"/>
<line x1="322.87" y1="241.13" x2="322.87" y2="211.20" stroke="#DD8452" stroke-width="0.6" stroke-opacity="0.45"/>
<line x1="322.87" y1="255.05" x2="322.87" y2="239.87" stroke="#4C72B0" stroke-width="0.8" stroke-opacity="0.75"/>
<line x1="323.67" y1="255.05" x2="323.67" y2="244.93" stroke="#4C72B0" stroke-width="0.5" stroke-opacity="0.4"/>
<line x1="325.93" y1="241.44" x2="325.93" y2="212.16" stroke="#DD8452" stroke-width="0.6" stroke-opacity="0.45"/>
<line x1="325.93" y1="255.91" x2="325.93" y2="240.17" stroke="#4C72B0" stroke-width="0.8" stroke-opacity="0.75"/>
<line x1="326.73" y1="255.91" x2="326.73" y2="245.23" stroke="#4C72B0" stroke-width="0.5" stroke-opacity="0.4"/>
<line x1="328.99" y1="241.74" x2="328.99" y2="212.74" stroke="#DD8452" stroke-width="0.6" stroke-opacity="0.45"/>
<line x1="328.99" y1="256.70" x2="328.99" y2="240.48" stroke="#4C72B0" stroke-width="0.8" stroke-opacity="0.75"/>
<line x1="329.79" y1="256.70" x2="329.79" y2="245.54" stroke="#4C72B0" stroke-width="0.5" stroke-opacity="0.4"/>
<line x1="332.05" y1="241.95" x2="332.05" y2="212.73" stroke="#DD8452" stroke-width="0.6" stroke-opacity="0.45"/>
<line x1="332.05" y1="257.30" x2="332.05" y2="240.69" stroke="#4C72B0" stroke-width="0.8" stroke-opacity="0.75"/>
<line x1="332.85" y1="257.30" x2="332.85" y2="245.75" stroke="#4C72B0" stroke-width="0.5" stroke-opacity="0.4"/>
<line x1="335.12" y1="241.65" x2="335.12" y2="213.09" stroke="#DD8452" stroke-width="0.6" stroke-opacity="0.45"/>
<line x1="335.12" y1="257.90" x2="335.12" y2="240.38" stroke="#4C72B0" stroke-width="0.8" stroke-opacity="0.75"/>
<line x1="335.92" y1="257.90" x2="335.92" y2="245.44" stroke="#4C72B0" stroke-width="0.5" stroke-opacity="0.4"/>
<line x1="338.18" y1="241.34" x2="338.18" y2="213.34" stroke="#DD8452" stroke-width="0.6" stroke-opacity="0.45"/>
<line x1="338.18" y1="258.50" x2="338.18" y2="240.08" stroke="#4C72B0" stroke-width="0.8" stroke-opacity="0.75"/>
<line x1="338.98" y1="258.50" x2="338.98" y2="245.14" stroke="#4C72B0" stroke-width="0.5" stroke-opacity="0.4"/>
<line x1="341.24" y1="241.04" x2="341.24" y2="213.16" stroke="#DD8452" stroke-width="0.6" stroke-opacity="0.45"/>
<line x1="341.24" y1="259.11" x2="341.24" y2="239.77" stroke="#4C72B0" stroke-width="0.8" stroke-opacity="0.75"/>
<line x1="342.04" y1="259.11" x2="342.04" y2="244.83" stroke="#4C72B0" stroke-width="0.5" stroke-opacity="0.4"/>
<line x1="344.31" y1="240.74" x2="344.31" y2="211.79" stroke="#DD8452" stroke-width="0.6" stroke-opacity="0.45"/>
<line x1="344.31" y1="259.71" x2="344.31" y2="239.47" stroke="#4C72B0" stroke-width="0.8" stroke-opacity="0.75"/>
<line x1="345.11" y1="259.71" x2="345.11" y2="244.53" stroke="#4C72B0" stroke-width="0.5" stroke-opacity="0.4"/>
<line x1="347.37" y1="240.43" x2="347.37" y2="211.01" stroke="#DD8452" stroke-width="0.6" stroke-opacity="0.45"/>
<line x1="347.37" y1="260.31" x2="347.37" y2="239.17" stroke="#4C72B0" stroke-width="0.8" stroke-opacity="0.75"/>
<line x1="348.17" y1="260.31" x2="348.17" y2="244.23" stroke="#4C72B0" stroke-width="0.5" stroke-opacity="0.4"/>
<line x1="350.43" y1="240.13" x2="350.43" y2="213.13" stroke="#DD8452" stroke-width="0.6" stroke-opacity="0.45"/>
<line x1="350.43" y1="260.92" x2="350.43" y2="238.86" stroke="#4C72B0" stroke-width="0.8" stroke-opacity="0.75"/>
<line x1="351.23" y1="260.92" x2="351.23" y2="243.92" stroke="#4C72B0" stroke-width="0.5" stroke-opacity="0.4"/>
<line x1="353.50" y1="239.92" x2="353.50" y2="213.41" stroke="#DD8452" stroke-width="0.6" stroke-opacity="0.45"/>
<line x1="353.50" y1="261.12" x2="353.50" y2="238.65" stroke="#4C72B0" stroke-width="0.8" stroke-opacity="0.75"/>
<line x1="354.30" y1="261.12" x2="354.30" y2="243.71" stroke="#4C72B0" stroke-width="0.5" stroke-opacity="0.4"/>
<line x1="356.56" y1="239.71" x2="356.56" y2="211.04" stroke="#DD8452" stroke-width="0.6" stroke-opacity="0.45"/>
<line x1="356.56" y1="261.28" x2="356.56" y2="238.45" stroke="#4C72B0" stroke-width="0.8" stroke-opacity="0.75"/>
<line x1="357.36" y1="261.28" x2="357.36" y2="243.51" stroke="#4C72B0" stroke-width="0.5" stroke-opacity="0.4"/>
<line x1="359.62" y1="239.51" x2="359.62" y2="212.19" stroke="#DD8452" stroke-width="0.6" stroke-opacity="0.45"/>
<line x1="359.62" y1="261.44" x2="359.62" y2="238.25" stroke="#4C72B0" stroke-width="0.8" stroke-opacity="0.75"/>
<line x1="360.42" y1="261.44" x2="360.42" y2="243.31" stroke="#4C72B0" stroke-width="0.5" stroke-opacity="0.4"/>
<line x1="362.69" y1="239.31" x2="362.69" y2="212.51" stroke="#DD8452" stroke-width="0.6" stroke-opacity="0.45"/>
<line x1="362.69" y1="261.61" x2="362.69" y2="238.04" stroke="#4C72B0" stroke-width="0.8" stroke-opacity="0.75"/>
<line x1="363.49" y1="261.61" x2="363.49" y2="243.10" stroke="#4C72B0" stroke-width="0.5" stroke-opacity="0.4"/>
<line x1="365.75" y1="239.11" x2="365.75" y2="212.93" stroke="#DD8452" stroke-width="0.6" stroke-opacity="0.45"/>
<line x1="365.75" y1="261.77" x2="365.75" y2="237.84" stroke="#4C72B0" stroke-width="0.8" stroke-opacity="0.75"/>
<line x1="366.55" y1="261.77" x2="366.55" y2="242.90" stroke="#4C72B0" stroke-width="0.5" stroke-opacity="0.4"/>
<line x1="368.81" y1="238.90" x2="368.81" y2="212.03" stroke="#DD8452" stroke-width="0.6" stroke-opacity="0.45"/>
<line x1="368.81" y1="261.93" x2="368.81" y2="237.64" stroke="#4C72B0" stroke-width="0.8" stroke-opacity="0.75"/>
<line x1="369.61" y1="261.93" x2="369.61" y2="242.70" stroke="#4C72B0" stroke-width="0.5" stroke-opacity="0.4"/>
<line x1="371.87" y1="239.03" x2="371.87" y2="211.44" stroke="#DD8452" stroke-width="0.6" stroke-opacity="0.45"/>
<line x1="371.87" y1="262.09" x2="371.87" y2="237.77" stroke="#4C72B0" stroke-width="0.8" stroke-opacity="0.75"/>
<line x1="372.67" y1="262.09" x2="372.67" y2="242.83" stroke="#4C72B0" stroke-width="0.5" stroke-opacity="0.4"/>
<line x1="374.94" y1="239.34" x2="374.94" y2="212.38" stroke="#DD8452" stroke-width="0.6" stroke-opacity="0.45"/>
<line x1="374.94" y1="262.28" x2="374.94" y2="238.07" stroke="#4C72B0" stroke-width="0.8" stroke-opacity="0.75"/>
<line x1="375.74" y1="262.28" x2="375.74" y2="243.13" stroke="#4C72B0" stroke-width="0.5" stroke-opacity="0.4"/>
<line x1="378.00" y1="239.64" x2="378.00" y2="212.47" stroke="#DD8452" stroke-width="0.6" stroke-opacity="0.45"/>
<line x1="378.00" y1="262.68" x2="378.00" y2="238.38" stroke="#4C72B0" stroke-width="0.8" stroke-opacity="0.75"/>
<line x1="378.80" y1="262.68" x2="378.80" y2="243.44" stroke="#4C72B0" stroke-width="0.5" stroke-opacity="0.4"/>
<line x1="381.06" y1="239.95" x2="381.06" y2="213.39" stroke="#DD8452" stroke-width="0.6" stroke-opacity="0.45"/>
<line x1="381.06" y1="263.09" x2="381.06" y2="238.68" stroke="#4C72B0" stroke-width="0.8" stroke-opacity="0.75"/>
<line x1="381.86" y1="263.09" x2="381.86" y2="243.74" stroke="#4C72B0" stroke-width="0.5" stroke-opacity="0.4"/>
<line x1="384.13" y1="240.25" x2="384.13" y2="211.22" stroke="#DD8452" stroke-width="0.6" stroke-opacity="0.45"/>
<line x1="384.13" y1="263.49" x2="384.13" y2="238.98" stroke="#4C72B0" stroke-width="0.8" stroke-opacity="0.75"/>
<line x1="384.93" y1="263.49" x2="384.93" y2="244.04" stroke="#4C72B0" stroke-width="0.5" stroke-opacity="0.4"/>
<line x1="387.19" y1="240.55" x2="387.19" y2="213.45" stroke="#DD8452" stroke-width="0.6" stroke-opacity="0.45"/>
<line x1="387.19" y1="263.89" x2="387.19" y2="239.29" stroke="#4C72B0" stroke-width="0.8" stroke-opacity="0.75"/>
<line x1="387.99" y1="263.89" x2="387.99" y2="244.35" stroke="#4C72B0" stroke-width="0.5" stroke-opacity="0.4"/>
<line x1="390.25" y1="240.65" x2="390.25" y2="212.29" stroke="#DD8452" stroke-width="0.6" stroke-opacity="0.45"/>
<line x1="390.25" y1="264.30" x2="390.25" y2="239.39" stroke="#4C72B0" stroke-width="0.8" stroke-opacity="0.75"/>
<line x1="391.05" y1="264.30" x2="391.05" y2="244.45" stroke="#4C72B0" stroke-width="0.5" stroke-opacity="0.4"/>
<line x1="393.32" y1="240.45" x2="393.32" y2="211.41" stroke="#DD8452" stroke-width="0.6" stroke-opacity="0.45"/>
<line x1="393.32" y1="264.70" x2="393.32" y2="239.18" stroke="#4C72B0" stroke-width="0.8" stroke-opacity="0.75"/>
<line x1="394.12" y1="264.70" x2="394.12" y2="244.24" stroke="#4C72B0" stroke-width="0.5" stroke-opacity="0.4"/>
<line x1="396.38" y1="240.25" x2="396.38" y2="213.20" stroke="#DD8452" stroke-width="0.6" stroke-opacity="0.45"/>
<line x1="396.38" y1="265.11" x2="396.38" y2="238.98" stroke="#4C72B0" stroke-width="0.8" stroke-opacity="0.75"/>
<line x1="397.18" y1="265.11" x2="397.18" y2="244.04" stroke="#4C72B0" stroke-width="0.5" stroke-opacity="0.4"/>
<line x1="399.44" y1="240.10" x2="399.44" y2="211.68" stroke="#DD8452" stroke-width="0.6" stroke-opacity="0.45"/>
<line x1="399.44" y1="265.40" x2="399.44" y2="238.84" stroke="#4C72B0" stroke-width="0.8" stroke-opacity="0.75"/>
<line x1="400.24" y1="265.40" x2="400.24" y2="243.90" stroke="#4C72B0" stroke-width="0.5" stroke-opacity="0.4"/>
<polyline points="255.0,229.8 255.3,232.8 255.6,231.5 255.9,237.7 256.1,235.0 256.4,237.6 256.7,231.6 257.0,236.7 257.3,235.4 257.6,230.7 257.9,232.2 258.2,231.2 258.4,236.0 258.7,235.9 259.0,233.9 259.3,236.2 259.6,238.1 259.9,237.2 260.2,239.6 260.5,237.7 260.7,232.5 261.0,232.9 261.3,236.0 261.6,237.3 261.9,238.8 262.2,241.2 262.5,239.7 262.8,235.4 263.0,234.8 263.3,239.4 263.6,235.8 263.9,236.0 264.2,236.9 264.5,237.3 264.8,236.6 265.1,240.3 265.3,237.4 265.6,241.3 265.9,239.7 266.2,237.3 266.5,238.2 266.8,241.8 267.1,236.2 267.3,239.0 267.6,239.7 267.9,244.9 268.2,240.3 268.5,243.1 268.8,239.5 269.1,241.5 269.4,238.6 269.6,240.1 269.9,238.9 270.2,243.0 270.5,240.4 270.8,239.7 271.1,239.0 271.4,243.3 271.7,239.0 271.9,238.9 272.2,240.6 272.5,238.1 272.8,238.4 273.1,242.4 273.4,242.3 273.7,245.6 274.0,239.8 274.2,239.0 274.5,243.2 274.8,241.3 275.1,241.2 275.4,241.2 275.7,246.2 276.0,240.9 276.2,242.8 276.5,242.1 276.8,244.4 277.1,242.7 277.4,241.4 277.7,242.7 278.0,242.1 278.3,248.3 278.5,247.2 278.8,244.8 279.1,243.0 279.4,246.9 279.7,242.9 280.0,243.5 280.3,248.8 280.6,245.1 280.8,247.3 281.1,248.9 281.4,248.3 281.7,246.8 282.0,248.1 282.3,248.1 282.6,249.5 282.9,245.8 283.1,246.7 283.4,244.7 283.7,245.0 284.0,248.2 284.3,242.4 284.6,250.5 284.9,247.0 285.2,248.2 285.4,247.1 285.7,249.8 286.0,243.5 286.3,247.7 286.6,250.8 286.9,245.7 287.2,250.4 287.4,246.5 287.7,248.4 288.0,246.4 288.3,243.1 288.6,244.5 288.9,248.1 289.2,244.7 289.5,246.3 289.7,248.8 290.0,250.9 290.3,246.9 290.6,247.3 290.9,243.8 291.2,243.8 291.5,247.0 291.8,249.4 292.0,244.6 292.3,252.6 292.6,251.7 292.9,247.7 293.2,247.3 293.5,251.5 293.8,247.3 294.1,245.0 294.3,249.6 294.6,249.2 294.9,251.1 295.2,250.5 295.5,244.6 295.8,249.9 296.1,244.8 296.4,245.2 296.6,248.1 296.9,251.1 297.2,244.8 297.5,249.2 297.8,249.9 298.1,250.8 298.4,245.0 298.6,249.4 298.9,251.3 299.2,249.6 299.5,252.8 299.8,248.5 300.1,250.1 300.4,251.5 300.7,247.2 300.9,246.9 301.2,254.1 301.5,249.6 301.8,251.9 302.1,246.1 302.4,247.5 302.7,252.3 303.0,252.2 303.2,253.3 303.5,245.9 303.8,252.1 304.1,249.4 304.4,250.6 304.7,249.2 305.0,249.6 305.3,248.4 305.5,254.0 305.8,248.4 306.1,252.5 306.4,250.5 306.7,252.3 307.0,252.7 307.3,250.7 307.6,251.3 307.8,252.3 308.1,249.0 308.4,250.4 308.7,255.3 309.0,253.5 309.3,251.7 309.6,247.7 309.8,248.0 310.1,251.1 310.4,255.9 310.7,249.2 311.0,252.4 311.3,251.2 311.6,250.1 311.9,250.8 312.1,252.2 312.4,248.5 312.7,253.2 313.0,253.3 313.3,249.3 313.6,255.2 313.9,254.4 314.2,249.7 314.4,256.6 314.7,249.8 315.0,251.1 315.3,253.5 315.6,254.9 315.9,250.6 316.2,249.6 316.5,256.4 316.7,253.5 317.0,253.0 317.3,253.5 317.6,255.1 317.9,256.7 318.2,253.0 318.5,251.1 318.7,257.7 319.0,256.4 319.3,251.2 319.6,251.6 319.9,252.8 320.2,258.5 320.5,252.4 320.8,250.2 321.0,250.1 321.3,252.8 321.6,258.7 321.9,251.8 322.2,257.4 322.5,253.7 322.8,251.0 323.1,253.2 323.3,258.4 323.6,257.1 323.9,251.6 324.2,258.5 324.5,254.5 324.8,256.3 325.1,258.7 325.4,254.7 325.6,259.9 325.9,259.4 326.2,257.1 326.5,259.9 326.8,260.1 327.1,255.6 327.4,254.2 327.7,253.0 327.9,259.7 328.2,257.2 328.5,258.2 328.8,255.8 329.1,256.8 329.4,252.9 329.7,257.9 329.9,260.8 330.2,255.2 330.5,260.1 330.8,255.9 331.1,257.1 331.4,253.5 331.7,256.7 332.0,256.2 332.2,259.4 332.5,256.9 332.8,259.6 333.1,255.3 333.4,257.4 333.7,260.9 334.0,260.0 334.3,258.9 334.5,255.7 334.8,260.7 335.1,256.0 335.4,256.6 335.7,261.7 336.0,256.6 336.3,261.7 336.6,261.5 336.8,257.4 337.1,260.6 337.4,255.0 337.7,258.6 338.0,260.0 338.3,255.9 338.6,262.7 338.9,256.6 339.1,262.6 339.4,261.8 339.7,254.8 340.0,257.3 340.3,261.4 340.6,262.4 340.9,254.8 341.1,257.6 341.4,256.3 341.7,262.4 342.0,258.2 342.3,260.6 342.6,261.7 342.9,260.9 343.2,258.5 343.4,260.9 343.7,260.6 344.0,262.9 344.3,256.8 344.6,258.5 344.9,257.1 345.2,260.5 345.5,256.8 345.7,259.8 346.0,259.2 346.3,259.5 346.6,258.0 346.9,261.1 347.2,263.8 347.5,264.5 347.8,263.0 348.0,264.5 348.3,257.1 348.6,260.7 348.9,258.3 349.2,265.1 349.5,261.0 349.8,257.3 350.0,259.8 350.3,261.5 350.6,261.3 350.9,264.5 351.2,264.1 351.5,264.0 351.8,262.1 352.1,262.1 352.3,257.7 352.6,264.2 352.9,263.3 353.2,263.1 353.5,264.1 353.8,263.0 354.1,263.5 354.4,261.3 354.6,265.3 354.9,257.4 355.2,262.4 355.5,257.3 355.8,259.6 356.1,259.7 356.4,261.5 356.7,257.3 356.9,264.7 357.2,259.8 357.5,263.2 357.8,259.8 358.1,259.3 358.4,264.4 358.7,264.0 359.0,265.6 359.2,263.8 359.5,265.2 359.8,262.3 360.1,257.3 360.4,262.7 360.7,263.2 361.0,261.8 361.2,263.4 361.5,259.5 361.8,259.6 362.1,264.6 362.4,263.9 362.7,260.1 363.0,257.7 363.3,260.3 363.5,262.3 363.8,257.5 364.1,266.1 364.4,265.6 364.7,259.2 365.0,262.5 365.3,265.8 365.6,261.3 365.8,257.4 366.1,261.6 366.4,263.1 366.7,265.4 367.0,265.6 367.3,258.3 367.6,261.9 367.9,258.0 368.1,265.8 368.4,264.2 368.7,265.9 369.0,262.8 369.3,265.8 369.6,264.1 369.9,262.8 370.2,263.7 370.4,266.0 370.7,266.1 371.0,257.9 371.3,264.9 371.6,262.0 371.9,263.0 372.2,261.8 372.4,265.8 372.7,263.8 373.0,265.6 373.3,261.8 373.6,258.5 373.9,261.3 374.2,259.1 374.5,264.8 374.7,266.5 375.0,261.9 375.3,262.4 375.6,261.7 375.9,263.5 376.2,261.3 376.5,260.5 376.8,258.9 377.0,264.3 377.3,263.0 377.6,259.7 377.9,265.1 378.2,266.1 378.5,264.4 378.8,266.4 379.1,260.4 379.3,260.0 379.6,264.6 379.9,266.2 380.2,266.7 380.5,265.3 380.8,266.7 381.1,263.7 381.4,262.4 381.6,265.4 381.9,267.1 382.2,261.5 382.5,267.3 382.8,266.0 383.1,265.2 383.4,264.5 383.6,267.0 383.9,264.2 384.2,265.2 384.5,261.3 384.8,263.1 385.1,260.1 385.4,262.3 385.7,261.4 385.9,263.1 386.2,264.3 386.5,261.0 386.8,262.5 387.1,259.9 387.4,261.9 387.7,262.2 388.0,266.1 388.2,261.3 388.5,265.1 388.8,267.4 389.1,268.0 389.4,267.1 389.7,266.3 390.0,262.7 390.3,266.2 390.5,268.2 390.8,262.0 391.1,263.9 391.4,268.6 391.7,268.5 392.0,267.8 392.3,265.8 392.5,261.4 392.8,260.7 393.1,263.7 393.4,267.1 393.7,265.4 394.0,266.0 394.3,266.3 394.6,269.2 394.8,264.2 395.1,262.0 395.4,263.0 395.7,268.6 396.0,264.8 396.3,268.0 396.6,263.3 396.9,265.6 397.1,261.3 397.4,262.6 397.7,268.7 398.0,266.9 398.3,261.7 398.6,265.7" fill="none" stroke="#4C72B0" stroke-width="1.5" stroke-linejoin="round"/>
<polyline points="255.0,230.3 255.3,230.4 255.6,228.7 255.9,227.9 256.1,230.3 256.4,228.0 256.7,230.2 257.0,233.1 257.3,229.2 257.6,231.6 257.9,233.7 258.2,228.7 258.4,234.1 258.7,231.2 259.0,231.9 259.3,229.8 259.6,232.6 259.9,233.7 260.2,233.5 260.5,234.0 260.7,232.2 261.0,233.4 261.3,231.4 261.6,234.3 261.9,233.8 262.2,234.5 262.5,230.6 262.8,231.5 263.0,231.6 263.3,233.0 263.6,234.3 263.9,235.9 264.2,232.2 264.5,234.2 264.8,236.9 265.1,236.2 265.3,236.8 265.6,233.4 265.9,232.6 266.2,236.6 266.5,233.4 266.8,236.1 267.1,234.3 267.3,233.4 267.6,234.9 267.9,234.0 268.2,236.5 268.5,238.7 268.8,236.0 269.1,235.7 269.4,238.1 269.6,237.0 269.9,237.5 270.2,239.2 270.5,237.7 270.8,237.3 271.1,236.9 271.4,235.7 271.7,237.5 271.9,234.3 272.2,235.3 272.5,234.8 272.8,236.1 273.1,236.3 273.4,237.2 273.7,235.8 274.0,238.3 274.2,237.1 274.5,236.7 274.8,237.6 275.1,239.0 275.4,240.2 275.7,240.3 276.0,238.9 276.2,237.7 276.5,236.8 276.8,237.1 277.1,239.4 277.4,236.0 277.7,239.8 278.0,237.4 278.3,241.0 278.5,237.3 278.8,237.9 279.1,236.3 279.4,236.8 279.7,238.0 280.0,237.2 280.3,237.9 280.6,238.6 280.8,241.0 281.1,239.3 281.4,237.3 281.7,241.0 282.0,237.0 282.3,239.5 282.6,240.4 282.9,242.6 283.1,240.6 283.4,241.8 283.7,239.2 284.0,238.0 284.3,238.0 284.6,239.7 284.9,241.0 285.2,242.7 285.4,239.5 285.7,240.3 286.0,239.5 286.3,241.5 286.6,238.7 286.9,242.5 287.2,242.1 287.4,242.4 287.7,240.5 288.0,239.0 288.3,243.2 288.6,240.6 288.9,239.9 289.2,242.9 289.5,243.7 289.7,240.9 290.0,239.4 290.3,239.2 290.6,240.0 290.9,241.7 291.2,241.6 291.5,241.0 291.8,238.9 292.0,242.3 292.3,242.4 292.6,240.6 292.9,238.5 293.2,242.9 293.5,243.7 293.8,243.2 294.1,240.7 294.3,240.5 294.6,242.8 294.9,242.7 295.2,240.5 295.5,240.2 295.8,239.9 296.1,239.7 296.4,243.4 296.6,241.0 296.9,239.1 297.2,238.4 297.5,241.9 297.8,238.9 298.1,240.1 298.4,238.5 298.6,242.3 298.9,239.7 299.2,238.9 299.5,240.9 299.8,243.0 300.1,242.5 300.4,242.6 300.7,243.0 300.9,242.6 301.2,240.0 301.5,242.9 301.8,239.2 302.1,239.3 302.4,238.9 302.7,238.9 303.0,239.4 303.2,238.2 303.5,238.0 303.8,239.9 304.1,238.0 304.4,242.7 304.7,242.7 305.0,242.9 305.3,242.1 305.5,241.2 305.8,240.7 306.1,239.4 306.4,239.1 306.7,242.7 307.0,240.9 307.3,240.1 307.6,241.1 307.8,242.5 308.1,239.8 308.4,241.0 308.7,239.3 309.0,240.3 309.3,237.7 309.6,237.8 309.8,242.6 310.1,238.8 310.4,239.0 310.7,241.3 311.0,242.3 311.3,240.3 311.6,241.0 311.9,238.8 312.1,237.8 312.4,240.8 312.7,241.3 313.0,240.2 313.3,239.1 313.6,238.6 313.9,239.8 314.2,241.4 314.4,241.2 314.7,238.4 315.0,240.2 315.3,242.9 315.6,240.9 315.9,241.9 316.2,239.5 316.5,242.9 316.7,241.8 317.0,242.8 317.3,240.7 317.6,237.9 317.9,240.4 318.2,241.3 318.5,238.3 318.7,243.0 319.0,241.6 319.3,239.1 319.6,243.6 319.9,239.4 320.2,241.6 320.5,243.6 320.8,242.3 321.0,241.2 321.3,241.6 321.6,240.9 321.9,243.5 322.2,242.6 322.5,238.5 322.8,241.4 323.1,241.3 323.3,243.5 323.6,242.4 323.9,238.7 324.2,240.2 324.5,241.3 324.8,243.8 325.1,241.9 325.4,239.8 325.6,241.8 325.9,240.9 326.2,239.2 326.5,240.7 326.8,240.8 327.1,244.1 327.4,244.2 327.7,240.1 327.9,242.1 328.2,239.6 328.5,239.9 328.8,239.4 329.1,242.4 329.4,239.0 329.7,240.4 329.9,239.7 330.2,243.8 330.5,240.3 330.8,242.4 331.1,239.3 331.4,239.2 331.7,243.6 332.0,242.4 332.2,243.2 332.5,242.1 332.8,243.1 333.1,240.9 333.4,243.9 333.7,243.6 334.0,242.0 334.3,244.1 334.5,242.4 334.8,239.5 335.1,239.5 335.4,243.3 335.7,244.3 336.0,239.7 336.3,239.0 336.6,241.0 336.8,243.5 337.1,242.9 337.4,239.1 337.7,239.0 338.0,244.0 338.3,243.1 338.6,241.7 338.9,242.6 339.1,239.8 339.4,241.9 339.7,239.7 340.0,243.1 340.3,241.0 340.6,238.5 340.9,240.0 341.1,243.3 341.4,243.2 341.7,240.2 342.0,241.7 342.3,241.7 342.6,241.0 342.9,240.4 343.2,238.3 343.4,242.3 343.7,240.4 344.0,242.1 344.3,240.5 344.6,239.4 344.9,242.7 345.2,240.8 345.5,239.5 345.7,243.3 346.0,239.1 346.3,241.0 346.6,240.5 346.9,239.9 347.2,238.8 347.5,242.9 347.8,240.4 348.0,242.9 348.3,241.0 348.6,241.2 348.9,242.9 349.2,241.4 349.5,240.5 349.8,239.3 350.0,237.8 350.3,240.9 350.6,239.9 350.9,238.9 351.2,237.6 351.5,237.5 351.8,237.3 352.1,241.1 352.3,241.8 352.6,237.6 352.9,242.3 353.2,240.2 353.5,238.6 353.8,239.7 354.1,240.5 354.4,237.5 354.6,241.0 354.9,239.5 355.2,238.0 355.5,241.8 355.8,240.6 356.1,239.8 356.4,239.4 356.7,241.3 356.9,239.9 357.2,242.1 357.5,241.9 357.8,240.5 358.1,241.6 358.4,237.0 358.7,240.9 359.0,240.8 359.2,238.0 359.5,238.2 359.8,240.8 360.1,237.6 360.4,238.8 360.7,240.1 361.0,238.7 361.2,240.8 361.5,240.7 361.8,237.3 362.1,239.7 362.4,237.1 362.7,241.1 363.0,241.3 363.3,241.8 363.5,237.9 363.8,238.9 364.1,241.9 364.4,241.7 364.7,237.4 365.0,239.2 365.3,237.1 365.6,241.7 365.8,238.6 366.1,241.2 366.4,237.8 366.7,238.4 367.0,238.4 367.3,240.6 367.6,236.5 367.9,241.1 368.1,241.4 368.4,237.9 368.7,241.2 369.0,241.3 369.3,239.1 369.6,238.0 369.9,236.7 370.2,237.6 370.4,241.3 370.7,238.1 371.0,237.0 371.3,241.1 371.6,237.6 371.9,240.4 372.2,240.2 372.4,241.9 372.7,237.7 373.0,239.1 373.3,236.9 373.6,239.4 373.9,241.2 374.2,240.8 374.5,240.6 374.7,236.8 375.0,241.0 375.3,241.7 375.6,240.2 375.9,241.8 376.2,239.9 376.5,238.8 376.8,238.7 377.0,241.4 377.3,241.6 377.6,239.7 377.9,238.6 378.2,240.0 378.5,239.3 378.8,237.4 379.1,241.7 379.3,241.1 379.6,239.8 379.9,239.6 380.2,237.6 380.5,239.6 380.8,239.0 381.1,240.4 381.4,238.4 381.6,238.1 381.9,241.2 382.2,242.2 382.5,241.4 382.8,240.9 383.1,238.0 383.4,241.5 383.6,239.5 383.9,239.4 384.2,237.7 384.5,242.4 384.8,238.8 385.1,241.3 385.4,242.6 385.7,239.7 385.9,238.5 386.2,240.0 386.5,243.0 386.8,237.9 387.1,241.2 387.4,239.8 387.7,239.4 388.0,242.0 388.2,241.2 388.5,241.6 388.8,243.0 389.1,243.2 389.4,239.5 389.7,241.2 390.0,238.6 390.3,243.1 390.5,241.7 390.8,242.4 391.1,238.1 391.4,239.0 391.7,238.3 392.0,240.5 392.3,242.7 392.5,241.0 392.8,242.0 393.1,243.1 393.4,240.1 393.7,241.6 394.0,242.6 394.3,240.3 394.6,238.0 394.8,237.9 395.1,240.5 395.4,242.5 395.7,238.8 396.0,242.4 396.3,240.0 396.6,242.5 396.9,237.5 397.1,240.0 397.4,240.5 397.7,241.4 398.0,239.9 398.3,237.5 398.6,240.5" fill="none" stroke="#DD8452" stroke-width="1.3" stroke-linejoin="round"/>
</g>
<polygon points="216.0,197.2 255.9,193.0 262.1,205.4 221.7,233.7 216.0,233.0" fill="#B5B5B5" stroke="none" stroke-width="0" fill-opacity="0.5"/>
<line x1="209.50" y1="197.20" x2="255.90" y2="193.00" stroke="#707070" stroke-width="0.5"/>
<line x1="215.00" y1="201.80" x2="259.80" y2="199.20" stroke="#707070" stroke-width="0.5"/>
<line x1="220.70" y1="206.50" x2="262.10" y2="205.40" stroke="#707070" stroke-width="0.5"/>
<line x1="215.50" y1="221.20" x2="255.90" y2="193.00" stroke="#8a8a8a" stroke-width="0.45"/>
<line x1="215.50" y1="229.00" x2="259.80" y2="199.20" stroke="#8a8a8a" stroke-width="0.45"/>
<line x1="221.70" y1="233.70" x2="262.10" y2="205.40" stroke="#8a8a8a" stroke-width="0.45"/>
<rect x="281.40" y="186.40" width="117.20" height="38.40" fill="#EEEEF3" stroke="#d8d8de" stroke-width="0.5" rx="1.5" fill-opacity="0.65"/>
<text x="338.80" y="198.45" font-size="7.65" text-anchor="middle" fill="#2b2b2b" font-weight="normal" letter-spacing="0.00" stroke="#2b2b2b" stroke-width="0.08">Rule</text>
<line x1="287.00" y1="206.00" x2="301.00" y2="206.00" stroke="#4C72B0" stroke-width="1.0"/>
<text x="304.70" y="208.81" font-size="7.8" text-anchor="start" fill="#2b2b2b" font-weight="normal" letter-spacing="0.00" stroke="#2b2b2b" stroke-width="0.08">Prospective configuration</text>
<line x1="287.00" y1="215.90" x2="301.00" y2="215.90" stroke="#DD8452" stroke-width="1.0"/>
<text x="304.70" y="218.71" font-size="7.8" text-anchor="start" fill="#2b2b2b" font-weight="normal" letter-spacing="0.00" stroke="#2b2b2b" stroke-width="0.08">Backpropagation</text>
<rect x="244.40" y="173.40" width="72.10" height="10.50" fill="#D9D9D9" stroke="none" stroke-width="0" rx="0"/>
<text x="280.50" y="181.45" font-size="7.65" text-anchor="middle" fill="#222" font-weight="normal" letter-spacing="0.00" stroke="#222" stroke-width="0.08">Pretrained model</text>
<rect x="446.90" y="178.50" width="89.10" height="95.70" fill="#EAEAF2" stroke="none" stroke-width="0" rx="0"/>
<line x1="446.90" y1="254.30" x2="536.00" y2="254.30" stroke="#ffffff" stroke-width="0.6"/>
<line x1="446.90" y1="230.50" x2="536.00" y2="230.50" stroke="#ffffff" stroke-width="0.6"/>
<line x1="446.90" y1="206.70" x2="536.00" y2="206.70" stroke="#ffffff" stroke-width="0.6"/>
<line x1="446.90" y1="182.90" x2="536.00" y2="182.90" stroke="#ffffff" stroke-width="0.6"/>
<line x1="447.41" y1="178.50" x2="447.41" y2="274.20" stroke="#ffffff" stroke-width="0.6"/>
<line x1="449.30" y1="178.50" x2="449.30" y2="274.20" stroke="#ffffff" stroke-width="0.6"/>
<line x1="461.76" y1="178.50" x2="461.76" y2="274.20" stroke="#ffffff" stroke-width="0.6"/>
<line x1="469.05" y1="178.50" x2="469.05" y2="274.20" stroke="#ffffff" stroke-width="0.6"/>
<line x1="474.23" y1="178.50" x2="474.23" y2="274.20" stroke="#ffffff" stroke-width="0.6"/>
<line x1="478.24" y1="178.50" x2="478.24" y2="274.20" stroke="#ffffff" stroke-width="0.6"/>
<line x1="481.52" y1="178.50" x2="481.52" y2="274.20" stroke="#ffffff" stroke-width="0.6"/>
<line x1="484.29" y1="178.50" x2="484.29" y2="274.20" stroke="#ffffff" stroke-width="0.6"/>
<line x1="486.69" y1="178.50" x2="486.69" y2="274.20" stroke="#ffffff" stroke-width="0.6"/>
<line x1="488.81" y1="178.50" x2="488.81" y2="274.20" stroke="#ffffff" stroke-width="0.6"/>
<line x1="490.70" y1="178.50" x2="490.70" y2="274.20" stroke="#ffffff" stroke-width="0.6"/>
<line x1="503.16" y1="178.50" x2="503.16" y2="274.20" stroke="#ffffff" stroke-width="0.6"/>
<line x1="510.45" y1="178.50" x2="510.45" y2="274.20" stroke="#ffffff" stroke-width="0.6"/>
<line x1="515.63" y1="178.50" x2="515.63" y2="274.20" stroke="#ffffff" stroke-width="0.6"/>
<line x1="519.64" y1="178.50" x2="519.64" y2="274.20" stroke="#ffffff" stroke-width="0.6"/>
<line x1="522.92" y1="178.50" x2="522.92" y2="274.20" stroke="#ffffff" stroke-width="0.6"/>
<line x1="525.69" y1="178.50" x2="525.69" y2="274.20" stroke="#ffffff" stroke-width="0.6"/>
<line x1="528.09" y1="178.50" x2="528.09" y2="274.20" stroke="#ffffff" stroke-width="0.6"/>
<line x1="530.21" y1="178.50" x2="530.21" y2="274.20" stroke="#ffffff" stroke-width="0.6"/>
<line x1="532.10" y1="178.50" x2="532.10" y2="274.20" stroke="#ffffff" stroke-width="0.6"/>
<text x="444.00" y="256.73" font-size="6.75" text-anchor="end" fill="#3c3c3c" font-weight="normal" letter-spacing="0.00" stroke="#3c3c3c" stroke-width="0.08">0.4</text>
<text x="444.00" y="232.93" font-size="6.75" text-anchor="end" fill="#3c3c3c" font-weight="normal" letter-spacing="0.00" stroke="#3c3c3c" stroke-width="0.08">0.6</text>
<text x="444.00" y="209.13" font-size="6.75" text-anchor="end" fill="#3c3c3c" font-weight="normal" letter-spacing="0.00" stroke="#3c3c3c" stroke-width="0.08">0.8</text>
<text x="444.00" y="185.33" font-size="6.75" text-anchor="end" fill="#3c3c3c" font-weight="normal" letter-spacing="0.00" stroke="#3c3c3c" stroke-width="0.08">1.0</text>
<text x="449.90" y="282.39" font-size="6.08" text-anchor="middle" fill="#3c3c3c" stroke="#3c3c3c" stroke-width="0.06">10<tspan font-size="3.77" dy="-2.55">−3</tspan></text>
<text x="491.80" y="282.39" font-size="6.08" text-anchor="middle" fill="#3c3c3c" stroke="#3c3c3c" stroke-width="0.06">10<tspan font-size="3.77" dy="-2.55">−2</tspan></text>
<text x="532.70" y="282.39" font-size="6.08" text-anchor="middle" fill="#3c3c3c" stroke="#3c3c3c" stroke-width="0.06">10<tspan font-size="3.77" dy="-2.55">−1</tspan></text>
<text x="491.80" y="291.95" font-size="7.65" text-anchor="middle" fill="#2b2b2b" font-weight="normal" letter-spacing="0.00" stroke="#2b2b2b" stroke-width="0.08">Learning rate</text>
<text x="428.00" y="228.35" font-size="7.65" text-anchor="middle" fill="#2b2b2b" font-weight="normal" letter-spacing="0.00" stroke="#2b2b2b" stroke-width="0.08" transform="rotate(-90 428.00 225.60)">Mean of test error</text>
<polyline points="449.3,238.3 479.8,249.3 491.2,253.8 521.1,250.8 532.1,183.0" fill="none" stroke="#DD8452" stroke-width="1.0" stroke-linejoin="round" stroke-dasharray="2.6,1.4"/>
<polyline points="449.3,243.3 479.8,258.3 491.2,267.3 521.1,258.6 532.1,183.5" fill="none" stroke="#4C72B0" stroke-width="1.0" stroke-linejoin="round"/>
<line x1="449.30" y1="236.00" x2="449.30" y2="241.00" stroke="#DD8452" stroke-width="0.75"/>
<line x1="447.50" y1="236.00" x2="451.10" y2="236.00" stroke="#DD8452" stroke-width="0.75"/>
<line x1="447.50" y1="241.00" x2="451.10" y2="241.00" stroke="#DD8452" stroke-width="0.75"/>
<line x1="447.90" y1="236.90" x2="450.70" y2="239.70" stroke="#DD8452" stroke-width="0.8"/>
<line x1="447.90" y1="239.70" x2="450.70" y2="236.90" stroke="#DD8452" stroke-width="0.8"/>
<line x1="479.80" y1="245.00" x2="479.80" y2="254.00" stroke="#DD8452" stroke-width="0.75"/>
<line x1="478.00" y1="245.00" x2="481.60" y2="245.00" stroke="#DD8452" stroke-width="0.75"/>
<line x1="478.00" y1="254.00" x2="481.60" y2="254.00" stroke="#DD8452" stroke-width="0.75"/>
<line x1="478.40" y1="247.90" x2="481.20" y2="250.70" stroke="#DD8452" stroke-width="0.8"/>
<line x1="478.40" y1="250.70" x2="481.20" y2="247.90" stroke="#DD8452" stroke-width="0.8"/>
<line x1="491.20" y1="248.10" x2="491.20" y2="260.10" stroke="#DD8452" stroke-width="0.75"/>
<line x1="489.40" y1="248.10" x2="493.00" y2="248.10" stroke="#DD8452" stroke-width="0.75"/>
<line x1="489.40" y1="260.10" x2="493.00" y2="260.10" stroke="#DD8452" stroke-width="0.75"/>
<line x1="489.80" y1="252.40" x2="492.60" y2="255.20" stroke="#DD8452" stroke-width="0.8"/>
<line x1="489.80" y1="255.20" x2="492.60" y2="252.40" stroke="#DD8452" stroke-width="0.8"/>
<line x1="521.10" y1="249.00" x2="521.10" y2="252.00" stroke="#DD8452" stroke-width="0.75"/>
<line x1="519.30" y1="249.00" x2="522.90" y2="249.00" stroke="#DD8452" stroke-width="0.75"/>
<line x1="519.30" y1="252.00" x2="522.90" y2="252.00" stroke="#DD8452" stroke-width="0.75"/>
<line x1="519.70" y1="249.40" x2="522.50" y2="252.20" stroke="#DD8452" stroke-width="0.8"/>
<line x1="519.70" y1="252.20" x2="522.50" y2="249.40" stroke="#DD8452" stroke-width="0.8"/>
<line x1="532.10" y1="182.00" x2="532.10" y2="184.00" stroke="#DD8452" stroke-width="0.75"/>
<line x1="530.30" y1="182.00" x2="533.90" y2="182.00" stroke="#DD8452" stroke-width="0.75"/>
<line x1="530.30" y1="184.00" x2="533.90" y2="184.00" stroke="#DD8452" stroke-width="0.75"/>
<line x1="530.70" y1="181.60" x2="533.50" y2="184.40" stroke="#DD8452" stroke-width="0.8"/>
<line x1="530.70" y1="184.40" x2="533.50" y2="181.60" stroke="#DD8452" stroke-width="0.8"/>
<line x1="449.30" y1="240.00" x2="449.30" y2="247.00" stroke="#4C72B0" stroke-width="0.75"/>
<line x1="447.50" y1="240.00" x2="451.10" y2="240.00" stroke="#4C72B0" stroke-width="0.75"/>
<line x1="447.50" y1="247.00" x2="451.10" y2="247.00" stroke="#4C72B0" stroke-width="0.75"/>
<circle cx="449.30" cy="243.30" r="1.6" fill="#4C72B0" stroke="none" stroke-width="0"/>
<line x1="479.80" y1="252.30" x2="479.80" y2="264.30" stroke="#4C72B0" stroke-width="0.75"/>
<line x1="478.00" y1="252.30" x2="481.60" y2="252.30" stroke="#4C72B0" stroke-width="0.75"/>
<line x1="478.00" y1="264.30" x2="481.60" y2="264.30" stroke="#4C72B0" stroke-width="0.75"/>
<circle cx="479.80" cy="258.30" r="1.6" fill="#4C72B0" stroke="none" stroke-width="0"/>
<line x1="491.20" y1="263.00" x2="491.20" y2="271.00" stroke="#4C72B0" stroke-width="0.75"/>
<line x1="489.40" y1="263.00" x2="493.00" y2="263.00" stroke="#4C72B0" stroke-width="0.75"/>
<line x1="489.40" y1="271.00" x2="493.00" y2="271.00" stroke="#4C72B0" stroke-width="0.75"/>
<circle cx="491.20" cy="267.30" r="1.6" fill="#4C72B0" stroke="none" stroke-width="0"/>
<line x1="521.10" y1="254.00" x2="521.10" y2="263.00" stroke="#4C72B0" stroke-width="0.75"/>
<line x1="519.30" y1="254.00" x2="522.90" y2="254.00" stroke="#4C72B0" stroke-width="0.75"/>
<line x1="519.30" y1="263.00" x2="522.90" y2="263.00" stroke="#4C72B0" stroke-width="0.75"/>
<circle cx="521.10" cy="258.60" r="1.6" fill="#4C72B0" stroke="none" stroke-width="0"/>
<line x1="532.10" y1="182.50" x2="532.10" y2="184.50" stroke="#4C72B0" stroke-width="0.75"/>
<line x1="530.30" y1="182.50" x2="533.90" y2="182.50" stroke="#4C72B0" stroke-width="0.75"/>
<line x1="530.30" y1="184.50" x2="533.90" y2="184.50" stroke="#4C72B0" stroke-width="0.75"/>
<circle cx="532.10" cy="183.50" r="1.6" fill="#4C72B0" stroke="none" stroke-width="0"/>
<rect x="580.10" y="179.30" width="95.20" height="95.00" fill="#EAEAF2" stroke="none" stroke-width="0" rx="0"/>
<line x1="580.10" y1="256.30" x2="675.30" y2="256.30" stroke="#ffffff" stroke-width="0.7"/>
<line x1="580.10" y1="227.20" x2="675.30" y2="227.20" stroke="#ffffff" stroke-width="0.7"/>
<line x1="580.10" y1="198.10" x2="675.30" y2="198.10" stroke="#ffffff" stroke-width="0.7"/>
<line x1="582.30" y1="179.30" x2="582.30" y2="274.30" stroke="#ffffff" stroke-width="0.7"/>
<line x1="613.40" y1="179.30" x2="613.40" y2="274.30" stroke="#ffffff" stroke-width="0.7"/>
<line x1="626.80" y1="179.30" x2="626.80" y2="274.30" stroke="#ffffff" stroke-width="0.7"/>
<line x1="657.90" y1="179.30" x2="657.90" y2="274.30" stroke="#ffffff" stroke-width="0.7"/>
<line x1="671.30" y1="179.30" x2="671.30" y2="274.30" stroke="#ffffff" stroke-width="0.7"/>
<text x="577.00" y="258.73" font-size="6.75" text-anchor="end" fill="#3c3c3c" font-weight="normal" letter-spacing="0.00" stroke="#3c3c3c" stroke-width="0.08">0.15</text>
<text x="577.00" y="229.63" font-size="6.75" text-anchor="end" fill="#3c3c3c" font-weight="normal" letter-spacing="0.00" stroke="#3c3c3c" stroke-width="0.08">0.20</text>
<text x="577.00" y="200.53" font-size="6.75" text-anchor="end" fill="#3c3c3c" font-weight="normal" letter-spacing="0.00" stroke="#3c3c3c" stroke-width="0.08">0.25</text>
<text x="587.80" y="278.50" font-size="6.75" text-anchor="end" fill="#3c3c3c" stroke="#3c3c3c" stroke-width="0.08" transform="rotate(-45 587.80 278.5)">60</text>
<text x="618.90" y="278.50" font-size="6.75" text-anchor="end" fill="#3c3c3c" stroke="#3c3c3c" stroke-width="0.08" transform="rotate(-45 618.90 278.5)">300</text>
<text x="632.00" y="278.50" font-size="6.75" text-anchor="end" fill="#3c3c3c" stroke="#3c3c3c" stroke-width="0.08" transform="rotate(-45 632.00 278.5)">600</text>
<text x="662.50" y="278.50" font-size="6.75" text-anchor="end" fill="#3c3c3c" stroke="#3c3c3c" stroke-width="0.08" transform="rotate(-45 662.50 278.5)">3,000</text>
<text x="675.70" y="278.50" font-size="6.75" text-anchor="end" fill="#3c3c3c" stroke="#3c3c3c" stroke-width="0.08" transform="rotate(-45 675.70 278.5)">6,000</text>
<text x="627.50" y="296.05" font-size="7.65" text-anchor="middle" fill="#2b2b2b" font-weight="normal" letter-spacing="0.00" stroke="#2b2b2b" stroke-width="0.08">Data points per class</text>
<text x="558.30" y="227.55" font-size="7.65" text-anchor="middle" fill="#2b2b2b" font-weight="normal" letter-spacing="0.00" stroke="#2b2b2b" stroke-width="0.08" transform="rotate(-90 558.30 224.80)">Minimum of test error</text>
<polyline points="582.3,187.2 613.4,238.6 626.8,247.0 657.9,263.7 671.3,269.2" fill="none" stroke="#DD8452" stroke-width="1.0" stroke-linejoin="round" stroke-dasharray="2.6,1.4"/>
<polyline points="582.3,198.8 613.4,241.3 626.8,247.3 657.9,256.8 671.3,259.7" fill="none" stroke="#4C72B0" stroke-width="1.0" stroke-linejoin="round"/>
<line x1="582.30" y1="182.20" x2="582.30" y2="192.20" stroke="#DD8452" stroke-width="0.75"/>
<line x1="580.50" y1="182.20" x2="584.10" y2="182.20" stroke="#DD8452" stroke-width="0.75"/>
<line x1="580.50" y1="192.20" x2="584.10" y2="192.20" stroke="#DD8452" stroke-width="0.75"/>
<line x1="580.90" y1="185.80" x2="583.70" y2="188.60" stroke="#DD8452" stroke-width="0.8"/>
<line x1="580.90" y1="188.60" x2="583.70" y2="185.80" stroke="#DD8452" stroke-width="0.8"/>
<line x1="613.40" y1="237.40" x2="613.40" y2="239.80" stroke="#DD8452" stroke-width="0.75"/>
<line x1="611.60" y1="237.40" x2="615.20" y2="237.40" stroke="#DD8452" stroke-width="0.75"/>
<line x1="611.60" y1="239.80" x2="615.20" y2="239.80" stroke="#DD8452" stroke-width="0.75"/>
<line x1="612.00" y1="237.20" x2="614.80" y2="240.00" stroke="#DD8452" stroke-width="0.8"/>
<line x1="612.00" y1="240.00" x2="614.80" y2="237.20" stroke="#DD8452" stroke-width="0.8"/>
<line x1="626.80" y1="246.20" x2="626.80" y2="247.80" stroke="#DD8452" stroke-width="0.75"/>
<line x1="625.00" y1="246.20" x2="628.60" y2="246.20" stroke="#DD8452" stroke-width="0.75"/>
<line x1="625.00" y1="247.80" x2="628.60" y2="247.80" stroke="#DD8452" stroke-width="0.75"/>
<line x1="625.40" y1="245.60" x2="628.20" y2="248.40" stroke="#DD8452" stroke-width="0.8"/>
<line x1="625.40" y1="248.40" x2="628.20" y2="245.60" stroke="#DD8452" stroke-width="0.8"/>
<line x1="657.90" y1="262.90" x2="657.90" y2="264.50" stroke="#DD8452" stroke-width="0.75"/>
<line x1="656.10" y1="262.90" x2="659.70" y2="262.90" stroke="#DD8452" stroke-width="0.75"/>
<line x1="656.10" y1="264.50" x2="659.70" y2="264.50" stroke="#DD8452" stroke-width="0.75"/>
<line x1="656.50" y1="262.30" x2="659.30" y2="265.10" stroke="#DD8452" stroke-width="0.8"/>
<line x1="656.50" y1="265.10" x2="659.30" y2="262.30" stroke="#DD8452" stroke-width="0.8"/>
<line x1="671.30" y1="268.20" x2="671.30" y2="270.20" stroke="#DD8452" stroke-width="0.75"/>
<line x1="669.50" y1="268.20" x2="673.10" y2="268.20" stroke="#DD8452" stroke-width="0.75"/>
<line x1="669.50" y1="270.20" x2="673.10" y2="270.20" stroke="#DD8452" stroke-width="0.75"/>
<line x1="669.90" y1="267.80" x2="672.70" y2="270.60" stroke="#DD8452" stroke-width="0.8"/>
<line x1="669.90" y1="270.60" x2="672.70" y2="267.80" stroke="#DD8452" stroke-width="0.8"/>
<line x1="582.30" y1="197.80" x2="582.30" y2="199.80" stroke="#4C72B0" stroke-width="0.75"/>
<line x1="580.50" y1="197.80" x2="584.10" y2="197.80" stroke="#4C72B0" stroke-width="0.75"/>
<line x1="580.50" y1="199.80" x2="584.10" y2="199.80" stroke="#4C72B0" stroke-width="0.75"/>
<circle cx="582.30" cy="198.80" r="1.6" fill="#4C72B0" stroke="none" stroke-width="0"/>
<line x1="613.40" y1="240.50" x2="613.40" y2="242.10" stroke="#4C72B0" stroke-width="0.75"/>
<line x1="611.60" y1="240.50" x2="615.20" y2="240.50" stroke="#4C72B0" stroke-width="0.75"/>
<line x1="611.60" y1="242.10" x2="615.20" y2="242.10" stroke="#4C72B0" stroke-width="0.75"/>
<circle cx="613.40" cy="241.30" r="1.6" fill="#4C72B0" stroke="none" stroke-width="0"/>
<line x1="626.80" y1="246.70" x2="626.80" y2="247.90" stroke="#4C72B0" stroke-width="0.75"/>
<line x1="625.00" y1="246.70" x2="628.60" y2="246.70" stroke="#4C72B0" stroke-width="0.75"/>
<line x1="625.00" y1="247.90" x2="628.60" y2="247.90" stroke="#4C72B0" stroke-width="0.75"/>
<circle cx="626.80" cy="247.30" r="1.6" fill="#4C72B0" stroke="none" stroke-width="0"/>
<line x1="657.90" y1="256.20" x2="657.90" y2="257.40" stroke="#4C72B0" stroke-width="0.75"/>
<line x1="656.10" y1="256.20" x2="659.70" y2="256.20" stroke="#4C72B0" stroke-width="0.75"/>
<line x1="656.10" y1="257.40" x2="659.70" y2="257.40" stroke="#4C72B0" stroke-width="0.75"/>
<circle cx="657.90" cy="256.80" r="1.6" fill="#4C72B0" stroke="none" stroke-width="0"/>
<line x1="671.30" y1="259.10" x2="671.30" y2="260.30" stroke="#4C72B0" stroke-width="0.75"/>
<line x1="669.50" y1="259.10" x2="673.10" y2="259.10" stroke="#4C72B0" stroke-width="0.75"/>
<line x1="669.50" y1="260.30" x2="673.10" y2="260.30" stroke="#4C72B0" stroke-width="0.75"/>
<circle cx="671.30" cy="259.70" r="1.6" fill="#4C72B0" stroke="none" stroke-width="0"/>
<polygon points="600.0,219.0 614.0,219.0 615.0,238.0" fill="#CFCFCF" stroke="none" stroke-width="0" fill-opacity="0.8"/>
<polygon points="638.0,237.4 652.0,237.4 658.5,254.0" fill="#CFCFCF" stroke="none" stroke-width="0" fill-opacity="0.8"/>
<rect x="596.30" y="181.50" width="33.70" height="37.50" fill="#D0D0D0" stroke="none" stroke-width="0" rx="0"/>
<rect x="598.30" y="183.90" width="29.30" height="32.70" fill="#0a0a0a" stroke="none" stroke-width="0" rx="0"/>
<rect x="632.40" y="188.30" width="44.80" height="49.10" fill="#D0D0D0" stroke="none" stroke-width="0" rx="0"/>
<rect x="634.80" y="191.40" width="38.90" height="43.60" fill="#0a0a0a" stroke="none" stroke-width="0" rx="0"/>
<polygon points="600.7,184.2 605.6,184.2 607.6,186.1 606.9,188.6 605.8,188.0 605.8,194.7 600.5,194.7 600.5,188.0 599.5,188.6 598.8,186.1" fill="rgb(122,122,122)" stroke="none" stroke-width="0"/>
<polygon points="600.7,195.1 605.6,195.1 607.6,197.0 606.9,199.5 605.8,198.9 605.8,205.6 600.5,205.6 600.5,198.9 599.5,199.5 598.8,197.0" fill="rgb(193,193,193)" stroke="none" stroke-width="0"/>
<polygon points="601.1,206.0 605.3,206.0 605.2,216.5 603.5,216.5 603.2,208.6 602.9,216.5 601.2,216.5" fill="rgb(185,185,185)" stroke="none" stroke-width="0"/>
<polygon points="610.5,184.2 615.4,184.2 617.3,186.1 616.6,188.6 615.6,188.0 615.6,194.7 610.3,194.7 610.3,188.0 609.3,188.6 608.6,186.1" fill="rgb(164,164,164)" stroke="none" stroke-width="0"/>
<polygon points="610.5,195.1 615.4,195.1 617.3,197.0 616.6,199.5 615.6,198.9 615.6,205.6 610.3,205.6 610.3,198.9 609.3,199.5 608.6,197.0" fill="rgb(129,129,129)" stroke="none" stroke-width="0"/>
<polygon points="610.8,206.0 615.1,206.0 614.9,216.5 613.2,216.5 613.0,208.6 612.7,216.5 611.0,216.5" fill="rgb(207,207,207)" stroke="none" stroke-width="0"/>
<polygon points="620.3,184.2 625.2,184.2 627.1,186.1 626.4,188.6 625.4,188.0 625.4,194.7 620.1,194.7 620.1,188.0 619.0,188.6 618.3,186.1" fill="rgb(209,209,209)" stroke="none" stroke-width="0"/>
<polygon points="620.3,195.1 625.2,195.1 627.1,197.0 626.4,199.5 625.4,198.9 625.4,205.6 620.1,205.6 620.1,198.9 619.0,199.5 618.3,197.0" fill="rgb(169,169,169)" stroke="none" stroke-width="0"/>
<polygon points="620.6,206.0 624.8,206.0 624.7,216.5 623.0,216.5 622.7,208.6 622.4,216.5 620.7,216.5" fill="rgb(168,168,168)" stroke="none" stroke-width="0"/>
<polygon points="637.2,191.7 642.1,191.7 644.0,193.6 643.3,196.1 642.3,195.5 642.3,202.2 637.0,202.2 637.0,195.5 636.0,196.1 635.3,193.6" fill="rgb(131,131,131)" stroke="none" stroke-width="0"/>
<polygon points="637.2,202.6 642.1,202.6 644.0,204.5 643.3,207.0 642.3,206.4 642.3,213.1 637.0,213.1 637.0,206.4 636.0,207.0 635.3,204.5" fill="rgb(100,100,100)" stroke="none" stroke-width="0"/>
<polygon points="637.2,213.5 642.1,213.5 644.0,215.4 643.3,217.9 642.3,217.3 642.3,224.0 637.0,224.0 637.0,217.3 636.0,217.9 635.3,215.4" fill="rgb(150,150,150)" stroke="none" stroke-width="0"/>
<polygon points="637.6,224.4 641.8,224.4 641.6,234.9 639.9,234.9 639.7,227.0 639.4,234.9 637.7,234.9" fill="rgb(179,179,179)" stroke="none" stroke-width="0"/>
<polygon points="646.9,191.7 651.8,191.7 653.8,193.6 653.1,196.1 652.0,195.5 652.0,202.2 646.8,202.2 646.8,195.5 645.7,196.1 645.0,193.6" fill="rgb(109,109,109)" stroke="none" stroke-width="0"/>
<polygon points="646.9,202.6 651.8,202.6 653.8,204.5 653.1,207.0 652.0,206.4 652.0,213.1 646.8,213.1 646.8,206.4 645.7,207.0 645.0,204.5" fill="rgb(207,207,207)" stroke="none" stroke-width="0"/>
<polygon points="646.9,213.5 651.8,213.5 653.8,215.4 653.1,217.9 652.0,217.3 652.0,224.0 646.8,224.0 646.8,217.3 645.7,217.9 645.0,215.4" fill="rgb(131,131,131)" stroke="none" stroke-width="0"/>
<polygon points="647.3,224.4 651.5,224.4 651.3,234.9 649.7,234.9 649.4,227.0 649.1,234.9 647.4,234.9" fill="rgb(131,131,131)" stroke="none" stroke-width="0"/>
<polygon points="656.7,191.7 661.6,191.7 663.5,193.6 662.8,196.1 661.7,195.5 661.7,202.2 656.5,202.2 656.5,195.5 655.4,196.1 654.7,193.6" fill="rgb(105,105,105)" stroke="none" stroke-width="0"/>
<polygon points="656.7,202.6 661.6,202.6 663.5,204.5 662.8,207.0 661.7,206.4 661.7,213.1 656.5,213.1 656.5,206.4 655.4,207.0 654.7,204.5" fill="rgb(234,234,234)" stroke="none" stroke-width="0"/>
<polygon points="656.7,213.5 661.6,213.5 663.5,215.4 662.8,217.9 661.7,217.3 661.7,224.0 656.5,224.0 656.5,217.3 655.4,217.9 654.7,215.4" fill="rgb(199,199,199)" stroke="none" stroke-width="0"/>
<polygon points="657.0,224.4 661.2,224.4 661.1,234.9 659.4,234.9 659.1,227.0 658.8,234.9 657.2,234.9" fill="rgb(218,218,218)" stroke="none" stroke-width="0"/>
<polygon points="666.4,191.7 671.3,191.7 673.2,193.6 672.5,196.1 671.5,195.5 671.5,202.2 666.2,202.2 666.2,195.5 665.2,196.1 664.5,193.6" fill="rgb(183,183,183)" stroke="none" stroke-width="0"/>
<polygon points="666.4,202.6 671.3,202.6 673.2,204.5 672.5,207.0 671.5,206.4 671.5,213.1 666.2,213.1 666.2,206.4 665.2,207.0 664.5,204.5" fill="rgb(104,104,104)" stroke="none" stroke-width="0"/>
<polygon points="666.4,213.5 671.3,213.5 673.2,215.4 672.5,217.9 671.5,217.3 671.5,224.0 666.2,224.0 666.2,217.3 665.2,217.9 664.5,215.4" fill="rgb(144,144,144)" stroke="none" stroke-width="0"/>
<polygon points="666.7,224.4 670.9,224.4 670.8,234.9 669.1,234.9 668.8,227.0 668.6,234.9 666.9,234.9" fill="rgb(167,167,167)" stroke="none" stroke-width="0"/>
<rect x="40.70" y="329.80" width="90.00" height="96.10" fill="#EAEAF2" stroke="none" stroke-width="0" rx="0"/>
<line x1="40.70" y1="409.70" x2="130.70" y2="409.70" stroke="#ffffff" stroke-width="0.7"/>
<line x1="40.70" y1="389.80" x2="130.70" y2="389.80" stroke="#ffffff" stroke-width="0.7"/>
<line x1="40.70" y1="369.90" x2="130.70" y2="369.90" stroke="#ffffff" stroke-width="0.7"/>
<line x1="40.70" y1="350.00" x2="130.70" y2="350.00" stroke="#ffffff" stroke-width="0.7"/>
<line x1="40.70" y1="330.10" x2="130.70" y2="330.10" stroke="#ffffff" stroke-width="0.7"/>
<line x1="43.60" y1="329.80" x2="43.60" y2="425.90" stroke="#ffffff" stroke-width="0.7"/>
<line x1="102.30" y1="329.80" x2="102.30" y2="425.90" stroke="#ffffff" stroke-width="0.7"/>
<text x="38.00" y="412.13" font-size="6.75" text-anchor="end" fill="#3c3c3c" font-weight="normal" letter-spacing="0.00" stroke="#3c3c3c" stroke-width="0.08">0.29</text>
<text x="38.00" y="392.23" font-size="6.75" text-anchor="end" fill="#3c3c3c" font-weight="normal" letter-spacing="0.00" stroke="#3c3c3c" stroke-width="0.08">0.30</text>
<text x="38.00" y="372.33" font-size="6.75" text-anchor="end" fill="#3c3c3c" font-weight="normal" letter-spacing="0.00" stroke="#3c3c3c" stroke-width="0.08">0.31</text>
<text x="38.00" y="352.43" font-size="6.75" text-anchor="end" fill="#3c3c3c" font-weight="normal" letter-spacing="0.00" stroke="#3c3c3c" stroke-width="0.08">0.32</text>
<text x="38.00" y="332.53" font-size="6.75" text-anchor="end" fill="#3c3c3c" font-weight="normal" letter-spacing="0.00" stroke="#3c3c3c" stroke-width="0.08">0.33</text>
<text x="44.20" y="434.59" font-size="6.08" text-anchor="middle" fill="#3c3c3c" stroke="#3c3c3c" stroke-width="0.06">10<tspan font-size="3.77" dy="-2.55">−5</tspan></text>
<text x="102.90" y="434.59" font-size="6.08" text-anchor="middle" fill="#3c3c3c" stroke="#3c3c3c" stroke-width="0.06">10<tspan font-size="3.77" dy="-2.55">−4</tspan></text>
<text x="85.10" y="444.15" font-size="7.65" text-anchor="middle" fill="#2b2b2b" font-weight="normal" letter-spacing="0.00" stroke="#2b2b2b" stroke-width="0.08">Learning rate</text>
<text x="17.40" y="379.75" font-size="7.65" text-anchor="middle" fill="#2b2b2b" font-weight="normal" letter-spacing="0.00" stroke="#2b2b2b" stroke-width="0.08" transform="rotate(-90 17.40 377.00)">Minimum of test error</text>
<polyline points="43.6,334.4 67.3,351.0 85.1,372.5 95.7,367.5 103.2,366.6 126.8,337.0" fill="none" stroke="#DD8452" stroke-width="1.0" stroke-linejoin="round" stroke-dasharray="2.6,1.4"/>
<polyline points="43.6,369.7 67.3,413.3 85.1,416.8 95.7,412.4 103.2,416.8 126.8,346.0" fill="none" stroke="#4C72B0" stroke-width="1.0" stroke-linejoin="round"/>
<line x1="43.60" y1="333.50" x2="43.60" y2="335.30" stroke="#DD8452" stroke-width="0.75"/>
<line x1="41.80" y1="333.50" x2="45.40" y2="333.50" stroke="#DD8452" stroke-width="0.75"/>
<line x1="41.80" y1="335.30" x2="45.40" y2="335.30" stroke="#DD8452" stroke-width="0.75"/>
<line x1="42.20" y1="333.00" x2="45.00" y2="335.80" stroke="#DD8452" stroke-width="0.8"/>
<line x1="42.20" y1="335.80" x2="45.00" y2="333.00" stroke="#DD8452" stroke-width="0.8"/>
<line x1="67.30" y1="348.50" x2="67.30" y2="353.50" stroke="#DD8452" stroke-width="0.75"/>
<line x1="65.50" y1="348.50" x2="69.10" y2="348.50" stroke="#DD8452" stroke-width="0.75"/>
<line x1="65.50" y1="353.50" x2="69.10" y2="353.50" stroke="#DD8452" stroke-width="0.75"/>
<line x1="65.90" y1="349.60" x2="68.70" y2="352.40" stroke="#DD8452" stroke-width="0.8"/>
<line x1="65.90" y1="352.40" x2="68.70" y2="349.60" stroke="#DD8452" stroke-width="0.8"/>
<line x1="85.10" y1="370.50" x2="85.10" y2="374.50" stroke="#DD8452" stroke-width="0.75"/>
<line x1="83.30" y1="370.50" x2="86.90" y2="370.50" stroke="#DD8452" stroke-width="0.75"/>
<line x1="83.30" y1="374.50" x2="86.90" y2="374.50" stroke="#DD8452" stroke-width="0.75"/>
<line x1="83.70" y1="371.10" x2="86.50" y2="373.90" stroke="#DD8452" stroke-width="0.8"/>
<line x1="83.70" y1="373.90" x2="86.50" y2="371.10" stroke="#DD8452" stroke-width="0.8"/>
<line x1="95.70" y1="365.00" x2="95.70" y2="370.00" stroke="#DD8452" stroke-width="0.75"/>
<line x1="93.90" y1="365.00" x2="97.50" y2="365.00" stroke="#DD8452" stroke-width="0.75"/>
<line x1="93.90" y1="370.00" x2="97.50" y2="370.00" stroke="#DD8452" stroke-width="0.75"/>
<line x1="94.30" y1="366.10" x2="97.10" y2="368.90" stroke="#DD8452" stroke-width="0.8"/>
<line x1="94.30" y1="368.90" x2="97.10" y2="366.10" stroke="#DD8452" stroke-width="0.8"/>
<line x1="103.20" y1="365.60" x2="103.20" y2="367.60" stroke="#DD8452" stroke-width="0.75"/>
<line x1="101.40" y1="365.60" x2="105.00" y2="365.60" stroke="#DD8452" stroke-width="0.75"/>
<line x1="101.40" y1="367.60" x2="105.00" y2="367.60" stroke="#DD8452" stroke-width="0.75"/>
<line x1="101.80" y1="365.20" x2="104.60" y2="368.00" stroke="#DD8452" stroke-width="0.8"/>
<line x1="101.80" y1="368.00" x2="104.60" y2="365.20" stroke="#DD8452" stroke-width="0.8"/>
<line x1="126.80" y1="334.80" x2="126.80" y2="339.20" stroke="#DD8452" stroke-width="0.75"/>
<line x1="125.00" y1="334.80" x2="128.60" y2="334.80" stroke="#DD8452" stroke-width="0.75"/>
<line x1="125.00" y1="339.20" x2="128.60" y2="339.20" stroke="#DD8452" stroke-width="0.75"/>
<line x1="125.40" y1="335.60" x2="128.20" y2="338.40" stroke="#DD8452" stroke-width="0.8"/>
<line x1="125.40" y1="338.40" x2="128.20" y2="335.60" stroke="#DD8452" stroke-width="0.8"/>
<line x1="43.60" y1="362.40" x2="43.60" y2="376.30" stroke="#4C72B0" stroke-width="0.75"/>
<line x1="41.80" y1="362.40" x2="45.40" y2="362.40" stroke="#4C72B0" stroke-width="0.75"/>
<line x1="41.80" y1="376.30" x2="45.40" y2="376.30" stroke="#4C72B0" stroke-width="0.75"/>
<circle cx="43.60" cy="369.70" r="1.3" fill="#4C72B0" stroke="none" stroke-width="0"/>
<line x1="67.30" y1="412.00" x2="67.30" y2="414.60" stroke="#4C72B0" stroke-width="0.75"/>
<line x1="65.50" y1="412.00" x2="69.10" y2="412.00" stroke="#4C72B0" stroke-width="0.75"/>
<line x1="65.50" y1="414.60" x2="69.10" y2="414.60" stroke="#4C72B0" stroke-width="0.75"/>
<circle cx="67.30" cy="413.30" r="1.3" fill="#4C72B0" stroke="none" stroke-width="0"/>
<line x1="85.10" y1="415.50" x2="85.10" y2="418.00" stroke="#4C72B0" stroke-width="0.75"/>
<line x1="83.30" y1="415.50" x2="86.90" y2="415.50" stroke="#4C72B0" stroke-width="0.75"/>
<line x1="83.30" y1="418.00" x2="86.90" y2="418.00" stroke="#4C72B0" stroke-width="0.75"/>
<circle cx="85.10" cy="416.80" r="1.3" fill="#4C72B0" stroke="none" stroke-width="0"/>
<line x1="95.70" y1="406.00" x2="95.70" y2="419.00" stroke="#4C72B0" stroke-width="0.75"/>
<line x1="93.90" y1="406.00" x2="97.50" y2="406.00" stroke="#4C72B0" stroke-width="0.75"/>
<line x1="93.90" y1="419.00" x2="97.50" y2="419.00" stroke="#4C72B0" stroke-width="0.75"/>
<circle cx="95.70" cy="412.40" r="1.3" fill="#4C72B0" stroke="none" stroke-width="0"/>
<line x1="103.20" y1="411.00" x2="103.20" y2="422.00" stroke="#4C72B0" stroke-width="0.75"/>
<line x1="101.40" y1="411.00" x2="105.00" y2="411.00" stroke="#4C72B0" stroke-width="0.75"/>
<line x1="101.40" y1="422.00" x2="105.00" y2="422.00" stroke="#4C72B0" stroke-width="0.75"/>
<circle cx="103.20" cy="416.80" r="1.3" fill="#4C72B0" stroke="none" stroke-width="0"/>
<line x1="126.80" y1="339.00" x2="126.80" y2="353.80" stroke="#4C72B0" stroke-width="0.75"/>
<line x1="125.00" y1="339.00" x2="128.60" y2="339.00" stroke="#4C72B0" stroke-width="0.75"/>
<line x1="125.00" y1="353.80" x2="128.60" y2="353.80" stroke="#4C72B0" stroke-width="0.75"/>
<circle cx="126.80" cy="346.00" r="1.3" fill="#4C72B0" stroke="none" stroke-width="0"/>
<defs><linearGradient id="cg0" x1="0" y1="0" x2="0" y2="1"><stop offset="0" stop-color="#c4c8cc"/><stop offset="1" stop-color="#8a8e88"/></linearGradient><linearGradient id="cg1" x1="0" y1="0" x2="0" y2="1"><stop offset="0" stop-color="#ecebe2"/><stop offset="1" stop-color="#86a456"/></linearGradient><linearGradient id="cg2" x1="0" y1="0" x2="0" y2="1"><stop offset="0" stop-color="#b8bcc2"/><stop offset="1" stop-color="#7a8080"/></linearGradient><linearGradient id="cg3" x1="0" y1="0" x2="0" y2="1"><stop offset="0" stop-color="#3d74c4"/><stop offset="1" stop-color="#d8e4f0"/></linearGradient><linearGradient id="cg4" x1="0" y1="0" x2="0" y2="1"><stop offset="0" stop-color="#9aa29a"/><stop offset="1" stop-color="#4a5a44"/></linearGradient><linearGradient id="cg5" x1="0" y1="0" x2="0" y2="1"><stop offset="0" stop-color="#7aa04a"/><stop offset="1" stop-color="#5a8a3a"/></linearGradient><linearGradient id="cg6" x1="0" y1="0" x2="0" y2="1"><stop offset="0" stop-color="#2a3a90"/><stop offset="1" stop-color="#303a80"/></linearGradient><linearGradient id="cg7" x1="0" y1="0" x2="0" y2="1"><stop offset="0" stop-color="#9ab8dc"/><stop offset="1" stop-color="#a8b8c8"/></linearGradient><linearGradient id="cg8" x1="0" y1="0" x2="0" y2="1"><stop offset="0" stop-color="#a0aca0"/><stop offset="1" stop-color="#5e8a40"/></linearGradient><linearGradient id="cg9" x1="0" y1="0" x2="0" y2="1"><stop offset="0" stop-color="#8a9a6a"/><stop offset="1" stop-color="#a0783a"/></linearGradient><linearGradient id="cg10" x1="0" y1="0" x2="0" y2="1"><stop offset="0" stop-color="#a8b8c8"/><stop offset="1" stop-color="#607484"/></linearGradient><linearGradient id="cg11" x1="0" y1="0" x2="0" y2="1"><stop offset="0" stop-color="#8a9098"/><stop offset="1" stop-color="#6a7068"/></linearGradient><filter id="blur4" x="-5%" y="-5%" width="110%" height="110%"><feGaussianBlur stdDeviation="0.7"/></filter></defs>
<g filter="url(#blur4)">
<rect x="77.50" y="329.80" width="10.33" height="10.10" fill="url(#cg0)" stroke="none" stroke-width="0" rx="0"/>
<ellipse cx="82.66" cy="335.36" rx="3.30" ry="1.82" fill="#4a4e4a" fill-opacity="0.6"/>
<rect x="87.83" y="329.80" width="10.33" height="10.10" fill="url(#cg1)" stroke="none" stroke-width="0" rx="0"/>
<ellipse cx="92.99" cy="335.36" rx="3.30" ry="1.82" fill="#4a5a3a" fill-opacity="0.6"/>
<rect x="98.15" y="329.80" width="10.33" height="10.10" fill="url(#cg2)" stroke="none" stroke-width="0" rx="0"/>
<ellipse cx="103.31" cy="335.36" rx="3.30" ry="1.82" fill="#3a4040" fill-opacity="0.6"/>
<rect x="108.47" y="329.80" width="10.33" height="10.10" fill="url(#cg3)" stroke="none" stroke-width="0" rx="0"/>
<ellipse cx="113.64" cy="335.36" rx="3.30" ry="1.82" fill="#c83058" fill-opacity="0.6"/>
<rect x="77.50" y="339.90" width="10.33" height="10.10" fill="url(#cg4)" stroke="none" stroke-width="0" rx="0"/>
<ellipse cx="82.66" cy="345.46" rx="3.30" ry="1.82" fill="#2a3a2a" fill-opacity="0.6"/>
<rect x="87.83" y="339.90" width="10.33" height="10.10" fill="url(#cg5)" stroke="none" stroke-width="0" rx="0"/>
<ellipse cx="92.99" cy="345.46" rx="3.30" ry="1.82" fill="#c83a2a" fill-opacity="0.6"/>
<rect x="98.15" y="339.90" width="10.33" height="10.10" fill="url(#cg6)" stroke="none" stroke-width="0" rx="0"/>
<ellipse cx="103.31" cy="345.46" rx="3.30" ry="1.82" fill="#c8d878" fill-opacity="0.6"/>
<rect x="108.47" y="339.90" width="10.33" height="10.10" fill="url(#cg7)" stroke="none" stroke-width="0" rx="0"/>
<ellipse cx="113.64" cy="345.46" rx="3.30" ry="1.82" fill="#3a4a5a" fill-opacity="0.6"/>
<rect x="77.50" y="350.00" width="10.33" height="10.10" fill="url(#cg8)" stroke="none" stroke-width="0" rx="0"/>
<ellipse cx="82.66" cy="355.56" rx="3.30" ry="1.82" fill="#505a48" fill-opacity="0.6"/>
<rect x="87.83" y="350.00" width="10.33" height="10.10" fill="url(#cg9)" stroke="none" stroke-width="0" rx="0"/>
<ellipse cx="92.99" cy="355.56" rx="3.30" ry="1.82" fill="#6a4a2a" fill-opacity="0.6"/>
<rect x="98.15" y="350.00" width="10.33" height="10.10" fill="url(#cg10)" stroke="none" stroke-width="0" rx="0"/>
<ellipse cx="103.31" cy="355.56" rx="3.30" ry="1.82" fill="#3a4a5a" fill-opacity="0.6"/>
<rect x="108.47" y="350.00" width="10.33" height="10.10" fill="url(#cg11)" stroke="none" stroke-width="0" rx="0"/>
<ellipse cx="113.64" cy="355.56" rx="3.30" ry="1.82" fill="#303030" fill-opacity="0.6"/>
</g>
<rect x="50.90" y="376.40" width="86.40" height="27.40" fill="#EEEEF3" stroke="#d8d8de" stroke-width="0.5" rx="1.5" fill-opacity="0.65"/>
<text x="90.40" y="384.32" font-size="5.9" text-anchor="middle" fill="#2b2b2b" font-weight="normal" letter-spacing="0.00" stroke="#2b2b2b" stroke-width="0.06">Rule</text>
<line x1="55.90" y1="390.50" x2="65.90" y2="390.50" stroke="#4C72B0" stroke-width="0.9"/>
<text x="69.90" y="392.62" font-size="5.9" text-anchor="start" fill="#2b2b2b" font-weight="normal" letter-spacing="0.00" stroke="#2b2b2b" stroke-width="0.06">Prospective configuration</text>
<line x1="55.90" y1="397.50" x2="65.90" y2="397.50" stroke="#DD8452" stroke-width="0.9"/>
<text x="69.90" y="399.62" font-size="5.9" text-anchor="start" fill="#2b2b2b" font-weight="normal" letter-spacing="0.00" stroke="#2b2b2b" stroke-width="0.06">Backpropagation</text>
<text x="277.40" y="332.25" font-size="7.65" text-anchor="middle" fill="#222" font-weight="normal" letter-spacing="0.00" stroke="#222" stroke-width="0.08">Network structure</text>
<text x="168.70" y="354.90" font-size="6.1" text-anchor="middle" fill="#333" font-weight="normal" letter-spacing="0.00" stroke="#333" stroke-width="0.04">Inputs:</text>
<text x="168.70" y="361.90" font-size="6.1" text-anchor="middle" fill="#333" font-weight="normal" letter-spacing="0.00" stroke="#333" stroke-width="0.04">3@32 × 32</text>
<text x="219.10" y="349.80" font-size="6.1" text-anchor="middle" fill="#333" font-weight="normal" letter-spacing="0.00" stroke="#333" stroke-width="0.04">Feature maps:</text>
<text x="219.10" y="357.00" font-size="6.1" text-anchor="middle" fill="#333" font-weight="normal" letter-spacing="0.00" stroke="#333" stroke-width="0.04">64@16 × 16</text>
<text x="270.90" y="346.90" font-size="6.1" text-anchor="middle" fill="#333" font-weight="normal" letter-spacing="0.00" stroke="#333" stroke-width="0.04">Feature maps:</text>
<text x="270.90" y="354.00" font-size="6.1" text-anchor="middle" fill="#333" font-weight="normal" letter-spacing="0.00" stroke="#333" stroke-width="0.04">128@8 × 8</text>
<text x="325.20" y="357.90" font-size="6.1" text-anchor="middle" fill="#333" font-weight="normal" letter-spacing="0.00" stroke="#333" stroke-width="0.04">Hidden neurons:</text>
<text x="325.20" y="364.80" font-size="6.1" text-anchor="middle" fill="#333" font-weight="normal" letter-spacing="0.00" stroke="#333" stroke-width="0.04">512</text>
<text x="383.00" y="367.80" font-size="6.1" text-anchor="middle" fill="#333" font-weight="normal" letter-spacing="0.00" stroke="#333" stroke-width="0.04">Output neurons:</text>
<text x="383.00" y="374.50" font-size="6.1" text-anchor="middle" fill="#333" font-weight="normal" letter-spacing="0.00" stroke="#333" stroke-width="0.04">10</text>
<text x="208.80" y="413.20" font-size="6.1" text-anchor="middle" fill="#333" font-weight="normal" letter-spacing="0.00" stroke="#333" stroke-width="0.04">Convolution</text>
<text x="276.30" y="416.70" font-size="6.1" text-anchor="middle" fill="#333" font-weight="normal" letter-spacing="0.00" stroke="#333" stroke-width="0.04">Convolution</text>
<text x="208.80" y="420.15" font-size="6.1" text-anchor="middle" fill="#333" font-weight="normal" letter-spacing="0.00" stroke="#333" stroke-width="0.04">Kernel size: 3</text>
<text x="276.30" y="423.90" font-size="6.1" text-anchor="middle" fill="#333" font-weight="normal" letter-spacing="0.00" stroke="#333" stroke-width="0.04">Kernel size: 3</text>
<text x="208.80" y="427.10" font-size="6.1" text-anchor="middle" fill="#333" font-weight="normal" letter-spacing="0.00" stroke="#333" stroke-width="0.04">Stride: 2</text>
<text x="276.30" y="431.10" font-size="6.1" text-anchor="middle" fill="#333" font-weight="normal" letter-spacing="0.00" stroke="#333" stroke-width="0.04">Stride: 2</text>
<text x="208.80" y="434.05" font-size="6.1" text-anchor="middle" fill="#333" font-weight="normal" letter-spacing="0.00" stroke="#333" stroke-width="0.04">Padding: 1</text>
<text x="276.30" y="438.30" font-size="6.1" text-anchor="middle" fill="#333" font-weight="normal" letter-spacing="0.00" stroke="#333" stroke-width="0.04">Padding: 1</text>
<text x="335.70" y="418.20" font-size="6.1" text-anchor="middle" fill="#333" font-weight="normal" letter-spacing="0.00" stroke="#333" stroke-width="0.04">Flatten</text>
<text x="374.00" y="408.20" font-size="6.1" text-anchor="middle" fill="#333" font-weight="normal" letter-spacing="0.00" stroke="#333" stroke-width="0.04">Fully connected</text>
<rect x="157.40" y="366.30" width="23.60" height="23.60" fill="#A9A9A9" stroke="#8a8a8a" stroke-width="0.4" rx="0"/>
<rect x="161.00" y="370.20" width="23.70" height="23.70" fill="#D5D5D5" stroke="#ffffff" stroke-width="0.6" rx="0"/>
<rect x="165.00" y="373.60" width="23.90" height="22.90" fill="#A3A3A3" stroke="#7a7a7a" stroke-width="0.5" rx="0"/>
<rect x="180.20" y="382.00" width="4.00" height="2.70" fill="#cfcfcf" stroke="#444" stroke-width="0.4" rx="0"/>
<rect x="213.00" y="361.00" width="12.00" height="12.00" fill="#9a9a9a" stroke="#777" stroke-width="0.4" rx="0"/>
<rect x="215.10" y="363.10" width="12.00" height="12.00" fill="#cfcfcf" stroke="#777" stroke-width="0.4" rx="0"/>
<rect x="217.20" y="365.20" width="12.00" height="12.00" fill="#a5a5a5" stroke="#777" stroke-width="0.4" rx="0"/>
<line x1="224.40" y1="379.40" x2="228.00" y2="382.60" stroke="#555" stroke-width="0.5" stroke-dasharray="0.8,0.6"/>
<rect x="229.00" y="378.10" width="11.00" height="11.00" fill="#a8a8a8" stroke="#6a6a6a" stroke-width="0.4" rx="0"/>
<rect x="230.90" y="380.00" width="11.00" height="11.00" fill="#cfcfcf" stroke="#6a6a6a" stroke-width="0.4" rx="0"/>
<rect x="232.80" y="381.90" width="11.00" height="11.00" fill="#a8a8a8" stroke="#6a6a6a" stroke-width="0.4" rx="0"/>
<rect x="234.70" y="383.80" width="11.00" height="11.00" fill="#cfcfcf" stroke="#6a6a6a" stroke-width="0.4" rx="0"/>
<rect x="236.60" y="385.70" width="11.00" height="11.00" fill="#a8a8a8" stroke="#6a6a6a" stroke-width="0.4" rx="0"/>
<rect x="238.50" y="387.60" width="11.00" height="11.00" fill="#cfcfcf" stroke="#6a6a6a" stroke-width="0.4" rx="0"/>
<rect x="240.00" y="391.00" width="9.80" height="9.40" fill="#d8d8d8" stroke="#888" stroke-width="0.4" rx="0"/>
<rect x="245.50" y="393.30" width="3.50" height="2.20" fill="#cfcfcf" stroke="#444" stroke-width="0.35" rx="0"/>
<line x1="184.20" y1="382.00" x2="240.00" y2="391.50" stroke="#333" stroke-width="0.45"/>
<line x1="184.20" y1="384.70" x2="240.00" y2="393.50" stroke="#333" stroke-width="0.45"/>
<line x1="182.00" y1="382.50" x2="245.50" y2="393.30" stroke="#555" stroke-width="0.3"/>
<rect x="268.20" y="358.40" width="7.50" height="7.50" fill="#9a9a9a" stroke="#6a6a6a" stroke-width="0.35" rx="0"/>
<rect x="270.70" y="360.90" width="7.50" height="7.50" fill="#c8c8c8" stroke="#6a6a6a" stroke-width="0.35" rx="0"/>
<rect x="273.20" y="363.40" width="7.50" height="7.50" fill="#9a9a9a" stroke="#6a6a6a" stroke-width="0.35" rx="0"/>
<rect x="281.40" y="372.80" width="6.80" height="6.80" fill="#a0a0a0" stroke="#555" stroke-width="0.35" rx="0"/>
<rect x="283.65" y="375.20" width="6.80" height="6.80" fill="#cdcdcd" stroke="#555" stroke-width="0.35" rx="0"/>
<rect x="285.90" y="377.60" width="6.80" height="6.80" fill="#a0a0a0" stroke="#555" stroke-width="0.35" rx="0"/>
<rect x="288.15" y="380.00" width="6.80" height="6.80" fill="#cdcdcd" stroke="#555" stroke-width="0.35" rx="0"/>
<rect x="290.40" y="382.40" width="6.80" height="6.80" fill="#a0a0a0" stroke="#555" stroke-width="0.35" rx="0"/>
<rect x="292.65" y="384.80" width="6.80" height="6.80" fill="#cdcdcd" stroke="#555" stroke-width="0.35" rx="0"/>
<rect x="294.90" y="387.20" width="6.80" height="6.80" fill="#a0a0a0" stroke="#555" stroke-width="0.35" rx="0"/>
<rect x="297.15" y="389.60" width="6.80" height="6.80" fill="#cdcdcd" stroke="#555" stroke-width="0.35" rx="0"/>
<rect x="299.40" y="392.00" width="6.80" height="6.80" fill="#a0a0a0" stroke="#555" stroke-width="0.35" rx="0"/>
<rect x="301.65" y="394.40" width="6.80" height="6.80" fill="#cdcdcd" stroke="#555" stroke-width="0.35" rx="0"/>
<rect x="303.90" y="396.80" width="6.80" height="6.80" fill="#a0a0a0" stroke="#555" stroke-width="0.35" rx="0"/>
<rect x="306.15" y="399.20" width="6.80" height="6.80" fill="#cdcdcd" stroke="#555" stroke-width="0.35" rx="0"/>
<rect x="308.40" y="401.60" width="6.80" height="6.80" fill="#a0a0a0" stroke="#555" stroke-width="0.35" rx="0"/>
<rect x="310.65" y="404.00" width="6.80" height="6.80" fill="#cdcdcd" stroke="#555" stroke-width="0.35" rx="0"/>
<rect x="312.90" y="406.40" width="6.80" height="6.80" fill="#a0a0a0" stroke="#555" stroke-width="0.35" rx="0"/>
<rect x="315.15" y="408.80" width="6.80" height="6.80" fill="#cdcdcd" stroke="#555" stroke-width="0.35" rx="0"/>
<rect x="312.50" y="405.50" width="6.30" height="6.00" fill="#d0d0d0" stroke="#555" stroke-width="0.35" rx="0"/>
<line x1="249.00" y1="394.00" x2="312.00" y2="405.50" stroke="#333" stroke-width="0.45"/>
<line x1="249.00" y1="396.00" x2="312.00" y2="407.50" stroke="#333" stroke-width="0.45"/>
<line x1="245.00" y1="393.50" x2="316.00" y2="408.50" stroke="#555" stroke-width="0.3"/>
<line x1="274.50" y1="358.70" x2="321.90" y2="369.30" stroke="#333" stroke-width="0.5"/>
<line x1="318.20" y1="410.00" x2="346.90" y2="394.90" stroke="#333" stroke-width="0.5"/>
<polygon points="321.9,369.3 330.9,369.3 355.9,394.9 346.9,394.9" fill="#D6D6D6" stroke="#333" stroke-width="0.5"/>
<line x1="330.90" y1="369.30" x2="378.50" y2="378.90" stroke="#333" stroke-width="0.5"/>
<line x1="355.90" y1="394.90" x2="383.00" y2="384.30" stroke="#333" stroke-width="0.5"/>
<polygon points="378.5,378.9 385.5,378.9 391.0,384.3 383.0,384.3" fill="#E0E0E0" stroke="#333" stroke-width="0.5"/>
<text x="426.50" y="381.35" font-size="7.65" text-anchor="middle" fill="#2b2b2b" font-weight="normal" letter-spacing="0.00" stroke="#2b2b2b" stroke-width="0.08" transform="rotate(-90 426.50 378.60)">Sum of rewards per episode</text>
<rect x="452.90" y="332.00" width="62.10" height="92.80" fill="#EAEAF2" stroke="none" stroke-width="0" rx="0"/>
<line x1="452.90" y1="336.70" x2="515.00" y2="336.70" stroke="#ffffff" stroke-width="0.7"/>
<line x1="452.90" y1="358.20" x2="515.00" y2="358.20" stroke="#ffffff" stroke-width="0.7"/>
<line x1="452.90" y1="379.70" x2="515.00" y2="379.70" stroke="#ffffff" stroke-width="0.7"/>
<line x1="452.90" y1="401.20" x2="515.00" y2="401.20" stroke="#ffffff" stroke-width="0.7"/>
<line x1="452.90" y1="422.70" x2="515.00" y2="422.70" stroke="#ffffff" stroke-width="0.7"/>
<line x1="455.40" y1="332.00" x2="455.40" y2="424.80" stroke="#ffffff" stroke-width="0.7"/>
<line x1="513.60" y1="332.00" x2="513.60" y2="424.80" stroke="#ffffff" stroke-width="0.7"/>
<text x="450.40" y="339.13" font-size="6.75" text-anchor="end" fill="#3c3c3c" font-weight="normal" letter-spacing="0.00" stroke="#3c3c3c" stroke-width="0.08">−100</text>
<text x="450.40" y="360.63" font-size="6.75" text-anchor="end" fill="#3c3c3c" font-weight="normal" letter-spacing="0.00" stroke="#3c3c3c" stroke-width="0.08">−200</text>
<text x="450.40" y="382.13" font-size="6.75" text-anchor="end" fill="#3c3c3c" font-weight="normal" letter-spacing="0.00" stroke="#3c3c3c" stroke-width="0.08">−300</text>
<text x="450.40" y="403.63" font-size="6.75" text-anchor="end" fill="#3c3c3c" font-weight="normal" letter-spacing="0.00" stroke="#3c3c3c" stroke-width="0.08">−400</text>
<text x="450.40" y="425.13" font-size="6.75" text-anchor="end" fill="#3c3c3c" font-weight="normal" letter-spacing="0.00" stroke="#3c3c3c" stroke-width="0.08">−500</text>
<text x="484.50" y="330.12" font-size="7.55" text-anchor="middle" fill="#222" font-weight="normal" letter-spacing="0.00" stroke="#222" stroke-width="0.08">Acrobot</text>
<text x="455.40" y="433.93" font-size="6.75" text-anchor="middle" fill="#3c3c3c" font-weight="normal" letter-spacing="0.00" stroke="#3c3c3c" stroke-width="0.08">0</text>
<text x="514.20" y="434.19" font-size="6.08" text-anchor="middle" fill="#3c3c3c" stroke="#3c3c3c" stroke-width="0.06">10<tspan font-size="3.77" dy="-2.55">2</tspan></text>
<text x="483.95" y="444.25" font-size="7.65" text-anchor="middle" fill="#2b2b2b" font-weight="normal" letter-spacing="0.00" stroke="#2b2b2b" stroke-width="0.08">Training episode</text>
<polygon points="455.4,416.2 456.1,404.1 456.7,389.7 457.4,377.9 458.0,364.7 458.7,360.3 459.3,363.9 460.0,363.1 460.6,363.5 461.3,367.6 461.9,370.4 462.6,370.2 463.2,372.1 463.9,374.1 464.5,376.1 465.2,377.3 465.8,375.6 466.5,380.6 467.1,379.6 467.8,380.0 468.4,378.6 469.1,374.5 469.7,375.3 470.4,374.3 471.0,371.7 471.7,369.3 472.3,368.6 473.0,365.7 473.6,367.0 474.3,365.8 474.9,364.3 475.6,364.8 476.2,363.0 476.9,363.4 477.5,364.2 478.2,363.6 478.8,360.1 479.5,359.6 480.1,358.1 480.8,358.5 481.4,358.3 482.1,359.5 482.7,355.9 483.4,358.4 484.0,356.4 484.7,357.0 485.4,355.6 486.0,355.6 486.7,354.8 487.3,353.3 488.0,353.7 488.6,354.7 489.3,352.1 489.9,352.0 490.6,351.3 491.2,354.4 491.9,351.6 492.5,350.1 493.2,352.6 493.8,352.5 494.5,349.6 495.1,351.2 495.8,350.8 496.4,348.7 497.1,350.1 497.7,350.5 498.4,350.1 499.0,349.1 499.7,347.2 500.3,348.2 501.0,346.1 501.6,348.7 502.3,347.5 502.9,345.5 503.6,345.7 504.2,345.3 504.9,343.0 505.5,345.7 506.2,346.4 506.8,347.3 507.5,345.6 508.1,346.6 508.8,346.1 509.4,348.3 510.1,348.6 510.7,347.2 511.4,345.8 512.0,348.0 512.7,345.6 513.3,347.3 514.0,348.3 514.0,360.3 513.3,359.3 512.7,357.7 512.0,360.1 511.4,357.9 510.7,359.2 510.1,360.6 509.4,360.4 508.8,358.1 508.1,358.6 507.5,357.6 506.8,359.3 506.2,358.4 505.5,357.8 504.9,355.0 504.2,357.3 503.6,357.8 502.9,357.6 502.3,359.6 501.6,360.8 501.0,358.1 500.3,360.2 499.7,359.2 499.0,361.1 498.4,362.1 497.7,362.6 497.1,362.2 496.4,360.7 495.8,362.8 495.1,363.3 494.5,361.6 493.8,364.5 493.2,364.6 492.5,362.2 491.9,363.7 491.2,366.5 490.6,363.4 489.9,364.0 489.3,364.2 488.6,366.8 488.0,365.8 487.3,365.3 486.7,366.9 486.0,367.7 485.4,367.7 484.7,369.0 484.0,368.4 483.4,370.4 482.7,367.9 482.1,371.5 481.4,370.4 480.8,370.6 480.1,370.1 479.5,371.6 478.8,372.1 478.2,375.6 477.5,376.2 476.9,375.5 476.2,375.1 475.6,376.8 474.9,376.4 474.3,377.9 473.6,379.0 473.0,377.7 472.3,380.6 471.7,381.3 471.0,383.8 470.4,386.4 469.7,387.3 469.1,386.5 468.4,390.6 467.8,392.0 467.1,391.7 466.5,392.6 465.8,387.6 465.2,389.3 464.5,388.2 463.9,386.1 463.2,384.1 462.6,382.3 461.9,382.4 461.3,379.6 460.6,375.5 460.0,375.1 459.3,375.9 458.7,372.4 458.0,376.8 457.4,389.9 456.7,401.7 456.1,416.2 455.4,428.2" fill="#DD8452" stroke="none" stroke-width="0" fill-opacity="0.2"/>
<polyline points="455.4,422.2 456.1,410.2 456.7,395.7 457.4,383.9 458.0,370.7 458.7,366.3 459.3,369.9 460.0,369.1 460.6,369.5 461.3,373.6 461.9,376.4 462.6,376.2 463.2,378.1 463.9,380.1 464.5,382.1 465.2,383.3 465.8,381.6 466.5,386.6 467.1,385.7 467.8,386.0 468.4,384.6 469.1,380.5 469.7,381.3 470.4,380.3 471.0,377.7 471.7,375.3 472.3,374.6 473.0,371.7 473.6,373.0 474.3,371.8 474.9,370.3 475.6,370.8 476.2,369.0 476.9,369.5 477.5,370.2 478.2,369.6 478.8,366.1 479.5,365.6 480.1,364.1 480.8,364.5 481.4,364.4 482.1,365.5 482.7,361.9 483.4,364.4 484.0,362.4 484.7,363.0 485.4,361.6 486.0,361.7 486.7,360.8 487.3,359.3 488.0,359.8 488.6,360.7 489.3,358.1 489.9,358.0 490.6,357.3 491.2,360.4 491.9,357.6 492.5,356.1 493.2,358.6 493.8,358.5 494.5,355.6 495.1,357.2 495.8,356.8 496.4,354.7 497.1,356.1 497.7,356.6 498.4,356.1 499.0,355.1 499.7,353.2 500.3,354.2 501.0,352.1 501.6,354.7 502.3,353.5 502.9,351.5 503.6,351.8 504.2,351.3 504.9,349.0 505.5,351.8 506.2,352.4 506.8,353.3 507.5,351.6 508.1,352.6 508.8,352.1 509.4,354.4 510.1,354.6 510.7,353.2 511.4,351.8 512.0,354.0 512.7,351.6 513.3,353.3 514.0,354.3" fill="none" stroke="#DD8452" stroke-width="0.9" stroke-linejoin="round" stroke-dasharray="2,0.8"/>
<polygon points="455.4,416.2 456.1,398.9 456.7,380.8 457.4,362.6 458.0,353.9 458.7,350.5 459.3,348.2 460.0,345.1 460.6,348.0 461.3,344.5 461.9,344.6 462.6,347.0 463.2,344.6 463.9,344.7 464.5,344.5 465.2,341.2 465.8,345.5 466.5,345.5 467.1,340.5 467.8,342.9 468.4,343.6 469.1,342.6 469.7,342.1 470.4,338.8 471.0,342.3 471.7,342.0 472.3,339.7 473.0,339.6 473.6,337.2 474.3,337.5 474.9,339.6 475.6,340.1 476.2,336.5 476.9,335.4 477.5,339.9 478.2,336.0 478.8,334.9 479.5,335.7 480.1,337.5 480.8,334.2 481.4,334.2 482.1,336.6 482.7,333.9 483.4,335.7 484.0,336.3 484.7,334.4 485.4,334.1 486.0,333.4 486.7,331.8 487.3,330.4 488.0,329.6 488.6,329.6 489.3,329.5 489.9,330.6 490.6,333.2 491.2,333.9 491.9,331.6 492.5,332.1 493.2,331.5 493.8,334.5 494.5,334.1 495.1,330.3 495.8,332.0 496.4,331.6 497.1,334.7 497.7,333.2 498.4,330.6 499.0,332.0 499.7,330.3 500.3,334.5 501.0,333.2 501.6,331.4 502.3,333.3 502.9,333.0 503.6,335.6 504.2,339.3 504.9,340.8 505.5,336.2 506.2,339.0 506.8,336.9 507.5,334.5 508.1,330.9 508.8,330.4 509.4,332.6 510.1,332.7 510.7,331.4 511.4,334.3 512.0,334.1 512.7,333.1 513.3,333.2 514.0,336.5 514.0,346.0 513.3,342.6 512.7,342.5 512.0,343.5 511.4,343.8 510.7,340.9 510.1,342.2 509.4,342.0 508.8,339.8 508.1,340.3 507.5,344.0 506.8,346.4 506.2,348.4 505.5,345.6 504.9,350.3 504.2,348.8 503.6,345.1 502.9,342.4 502.3,342.8 501.6,340.9 501.0,342.6 500.3,343.9 499.7,339.8 499.0,341.5 498.4,340.1 497.7,342.7 497.1,344.2 496.4,341.1 495.8,341.5 495.1,339.8 494.5,343.5 493.8,344.0 493.2,340.9 492.5,341.6 491.9,341.1 491.2,343.4 490.6,342.6 489.9,340.1 489.3,339.0 488.6,339.0 488.0,339.1 487.3,339.9 486.7,341.2 486.0,342.9 485.4,343.5 484.7,343.9 484.0,345.8 483.4,345.2 482.7,343.4 482.1,346.1 481.4,343.6 480.8,343.7 480.1,347.0 479.5,345.1 478.8,344.4 478.2,345.4 477.5,349.4 476.9,344.8 476.2,346.0 475.6,349.6 474.9,349.1 474.3,346.9 473.6,346.7 473.0,349.1 472.3,349.2 471.7,351.4 471.0,351.8 470.4,348.2 469.7,351.6 469.1,352.1 468.4,353.1 467.8,352.4 467.1,349.9 466.5,355.0 465.8,355.0 465.2,350.6 464.5,354.0 463.9,354.2 463.2,354.0 462.6,356.4 461.9,354.1 461.3,354.0 460.6,357.4 460.0,354.6 459.3,357.7 458.7,359.9 458.0,363.4 457.4,372.0 456.7,390.2 456.1,408.4 455.4,425.6" fill="#4C72B0" stroke="none" stroke-width="0" fill-opacity="0.2"/>
<polyline points="455.4,420.9 456.1,403.7 456.7,385.5 457.4,367.3 458.0,358.6 458.7,355.2 459.3,352.9 460.0,349.9 460.6,352.7 461.3,349.3 461.9,349.3 462.6,351.7 463.2,349.3 463.9,349.4 464.5,349.3 465.2,345.9 465.8,350.2 466.5,350.3 467.1,345.2 467.8,347.6 468.4,348.4 469.1,347.4 469.7,346.9 470.4,343.5 471.0,347.0 471.7,346.7 472.3,344.5 473.0,344.3 473.6,341.9 474.3,342.2 474.9,344.4 475.6,344.8 476.2,341.2 476.9,340.1 477.5,344.7 478.2,340.7 478.8,339.6 479.5,340.4 480.1,342.3 480.8,338.9 481.4,338.9 482.1,341.3 482.7,338.7 483.4,340.5 484.0,341.0 484.7,339.2 485.4,338.8 486.0,338.1 486.7,336.5 487.3,335.1 488.0,334.3 488.6,334.3 489.3,334.3 489.9,335.4 490.6,337.9 491.2,338.6 491.9,336.4 492.5,336.8 493.2,336.2 493.8,339.3 494.5,338.8 495.1,335.1 495.8,336.8 496.4,336.3 497.1,339.5 497.7,338.0 498.4,335.4 499.0,336.8 499.7,335.0 500.3,339.2 501.0,337.9 501.6,336.2 502.3,338.1 502.9,337.7 503.6,340.3 504.2,344.0 504.9,345.6 505.5,340.9 506.2,343.7 506.8,341.6 507.5,339.2 508.1,335.6 508.8,335.1 509.4,337.3 510.1,337.4 510.7,336.2 511.4,339.0 512.0,338.8 512.7,337.8 513.3,337.9 514.0,341.2" fill="none" stroke="#4C72B0" stroke-width="0.9" stroke-linejoin="round"/>
<line x1="488.30" y1="386.00" x2="493.40" y2="405.00" stroke="#4C72B0" stroke-width="1.9" stroke-opacity="0.35" stroke-linecap="round"/>
<line x1="493.40" y1="405.00" x2="481.60" y2="415.50" stroke="#4C72B0" stroke-width="1.9" stroke-opacity="0.35" stroke-linecap="round"/>
<line x1="488.30" y1="386.00" x2="498.80" y2="402.80" stroke="#4C72B0" stroke-width="1.9" stroke-opacity="0.6" stroke-linecap="round"/>
<line x1="498.80" y1="402.80" x2="488.80" y2="417.20" stroke="#4C72B0" stroke-width="1.9" stroke-opacity="0.6" stroke-linecap="round"/>
<line x1="488.30" y1="386.00" x2="502.60" y2="400.00" stroke="#4C72B0" stroke-width="1.9" stroke-linecap="round"/>
<line x1="502.60" y1="400.00" x2="497.20" y2="416.30" stroke="#4C72B0" stroke-width="1.9" stroke-linecap="round"/>
<circle cx="488.30" cy="386.00" r="2.1" fill="#333" stroke="none" stroke-width="0"/>
<circle cx="502.60" cy="400.00" r="2.1" fill="#333" stroke="none" stroke-width="0"/>
<circle cx="498.80" cy="402.80" r="1.7" fill="#666" stroke="none" stroke-width="0"/>
<circle cx="493.40" cy="405.00" r="1.7" fill="#999" stroke="none" stroke-width="0"/>
<path d="M487,393.5 C491,393 494,391 495.5,384.5" stroke="#222" stroke-width="0.55" fill="none"/>
<polygon points="494.5,384.8 496.6,385.2 496.0,382.5" fill="#222" stroke="none" stroke-width="0"/>
<rect x="533.90" y="332.00" width="63.90" height="92.80" fill="#EAEAF2" stroke="none" stroke-width="0" rx="0"/>
<line x1="533.90" y1="404.70" x2="597.80" y2="404.70" stroke="#ffffff" stroke-width="0.7"/>
<line x1="533.90" y1="387.50" x2="597.80" y2="387.50" stroke="#ffffff" stroke-width="0.7"/>
<line x1="533.90" y1="370.30" x2="597.80" y2="370.30" stroke="#ffffff" stroke-width="0.7"/>
<line x1="533.90" y1="353.10" x2="597.80" y2="353.10" stroke="#ffffff" stroke-width="0.7"/>
<line x1="533.90" y1="335.90" x2="597.80" y2="335.90" stroke="#ffffff" stroke-width="0.7"/>
<line x1="536.50" y1="332.00" x2="536.50" y2="424.80" stroke="#ffffff" stroke-width="0.7"/>
<line x1="595.20" y1="332.00" x2="595.20" y2="424.80" stroke="#ffffff" stroke-width="0.7"/>
<text x="531.40" y="407.13" font-size="6.75" text-anchor="end" fill="#3c3c3c" font-weight="normal" letter-spacing="0.00" stroke="#3c3c3c" stroke-width="0.08">100</text>
<text x="531.40" y="389.93" font-size="6.75" text-anchor="end" fill="#3c3c3c" font-weight="normal" letter-spacing="0.00" stroke="#3c3c3c" stroke-width="0.08">200</text>
<text x="531.40" y="372.73" font-size="6.75" text-anchor="end" fill="#3c3c3c" font-weight="normal" letter-spacing="0.00" stroke="#3c3c3c" stroke-width="0.08">300</text>
<text x="531.40" y="355.53" font-size="6.75" text-anchor="end" fill="#3c3c3c" font-weight="normal" letter-spacing="0.00" stroke="#3c3c3c" stroke-width="0.08">400</text>
<text x="531.40" y="338.33" font-size="6.75" text-anchor="end" fill="#3c3c3c" font-weight="normal" letter-spacing="0.00" stroke="#3c3c3c" stroke-width="0.08">500</text>
<text x="566.10" y="330.12" font-size="7.55" text-anchor="middle" fill="#222" font-weight="normal" letter-spacing="0.00" stroke="#222" stroke-width="0.08">CartPole</text>
<text x="536.50" y="433.93" font-size="6.75" text-anchor="middle" fill="#3c3c3c" font-weight="normal" letter-spacing="0.00" stroke="#3c3c3c" stroke-width="0.08">0</text>
<text x="595.80" y="434.19" font-size="6.08" text-anchor="middle" fill="#3c3c3c" stroke="#3c3c3c" stroke-width="0.06">10<tspan font-size="3.77" dy="-2.55">3</tspan></text>
<text x="565.85" y="444.25" font-size="7.65" text-anchor="middle" fill="#2b2b2b" font-weight="normal" letter-spacing="0.00" stroke="#2b2b2b" stroke-width="0.08">Training episode</text>
<clipPath id="cpclip"><rect x="534" y="332" width="64" height="92.8"/></clipPath>
<g clip-path="url(#cpclip)">
<polygon points="536.5,415.3 537.2,417.4 537.8,415.8 538.5,414.7 539.1,415.8 539.8,416.7 540.5,416.5 541.1,412.7 541.8,412.5 542.5,409.9 543.1,407.4 543.8,404.0 544.4,403.3 545.1,402.1 545.8,397.4 546.4,394.9 547.1,389.8 547.7,383.8 548.4,379.5 549.1,376.1 549.7,370.6 550.4,364.1 551.0,361.7 551.7,355.0 552.4,353.0 553.0,337.3 553.7,333.4 554.4,329.7 555.0,327.7 555.7,329.1 556.3,332.7 557.0,332.6 557.7,332.2 558.3,330.9 559.0,335.3 559.6,336.5 560.3,336.2 561.0,338.1 561.6,337.4 562.3,337.7 562.9,338.9 563.6,341.0 564.3,342.3 564.9,339.9 565.6,342.2 566.2,342.9 566.9,342.7 567.6,341.6 568.2,340.6 568.9,340.7 569.6,340.9 570.2,342.3 570.9,342.8 571.5,342.9 572.2,339.6 572.9,342.7 573.5,340.4 574.2,338.8 574.8,341.0 575.5,340.6 576.2,340.3 576.8,337.9 577.5,338.8 578.1,337.9 578.8,341.5 579.5,338.9 580.1,340.3 580.8,340.8 581.5,339.3 582.1,339.9 582.8,339.4 583.4,340.4 584.1,339.9 584.8,342.2 585.4,341.9 586.1,341.2 586.7,342.8 587.4,344.6 588.1,343.2 588.7,342.6 589.4,343.2 590.0,346.8 590.7,346.3 591.4,347.2 592.0,346.2 592.7,343.0 593.4,344.6 594.0,344.5 594.7,344.1 595.3,342.8 596.0,341.2 596.0,359.3 595.3,360.8 594.7,362.1 594.0,362.5 593.4,362.7 592.7,361.1 592.0,364.2 591.4,365.3 590.7,364.3 590.0,364.8 589.4,361.2 588.7,360.7 588.1,361.3 587.4,362.6 586.7,360.9 586.1,359.3 585.4,360.0 584.8,360.2 584.1,358.0 583.4,358.5 582.8,357.5 582.1,358.0 581.5,357.4 580.8,358.8 580.1,358.4 579.5,357.0 578.8,359.6 578.1,356.0 577.5,356.8 576.8,355.9 576.2,358.3 575.5,358.6 574.8,359.1 574.2,356.9 573.5,358.5 572.9,360.8 572.2,357.6 571.5,361.0 570.9,360.9 570.2,360.4 569.6,358.9 568.9,358.7 568.2,358.6 567.6,359.7 566.9,360.7 566.2,360.9 565.6,360.3 564.9,358.0 564.3,360.4 563.6,359.0 562.9,357.0 562.3,355.8 561.6,355.5 561.0,356.2 560.3,354.2 559.6,354.5 559.0,353.3 558.3,349.0 557.7,350.3 557.0,350.7 556.3,350.8 555.7,347.1 555.0,345.7 554.4,347.8 553.7,351.4 553.0,355.4 552.4,359.8 551.7,361.9 551.0,368.6 550.4,371.0 549.7,377.5 549.1,383.0 548.4,386.4 547.7,390.7 547.1,396.7 546.4,401.8 545.8,404.3 545.1,409.0 544.4,410.1 543.8,410.8 543.1,414.3 542.5,416.8 541.8,419.4 541.1,419.6 540.5,423.3 539.8,423.5 539.1,422.7 538.5,421.6 537.8,422.7 537.2,424.3 536.5,422.1" fill="#4C72B0" stroke="none" stroke-width="0" fill-opacity="0.2"/>
<polygon points="536.5,415.0 537.2,414.0 537.8,411.8 538.5,409.7 539.1,404.3 539.8,407.0 540.5,403.0 541.1,405.8 541.8,401.3 542.5,403.4 543.1,398.4 543.8,398.2 544.4,397.9 545.1,395.7 545.8,389.6 546.4,388.9 547.1,387.0 547.7,385.6 548.4,381.6 549.1,380.6 549.7,380.7 550.4,375.6 551.0,375.0 551.7,370.0 552.4,369.7 553.0,366.6 553.7,368.3 554.4,363.1 555.0,363.1 555.7,361.2 556.3,360.4 557.0,361.7 557.7,360.9 558.3,359.4 559.0,361.6 559.6,359.4 560.3,357.5 561.0,358.7 561.6,359.1 562.3,357.5 562.9,357.0 563.6,361.1 564.3,362.2 564.9,359.4 565.6,362.1 566.2,357.7 566.9,360.5 567.6,360.3 568.2,358.9 568.9,358.7 569.6,362.6 570.2,360.5 570.9,361.6 571.5,359.7 572.2,361.1 572.9,356.7 573.5,359.1 574.2,358.6 574.8,355.4 575.5,355.4 576.2,357.7 576.8,356.4 577.5,355.2 578.1,357.4 578.8,358.6 579.5,355.6 580.1,360.4 580.8,358.4 581.5,359.1 582.1,360.9 582.8,363.2 583.4,361.4 584.1,362.7 584.8,366.1 585.4,360.9 586.1,361.8 586.7,363.1 587.4,363.2 588.1,363.1 588.7,358.6 589.4,357.8 590.0,360.0 590.7,360.6 591.4,360.9 592.0,358.7 592.7,359.1 593.4,360.2 594.0,358.5 594.7,355.3 595.3,359.2 596.0,357.1 596.0,369.1 595.3,371.3 594.7,367.4 594.0,370.6 593.4,372.2 592.7,371.1 592.0,370.8 591.4,372.9 590.7,372.6 590.0,372.0 589.4,369.8 588.7,370.6 588.1,375.1 587.4,375.3 586.7,375.2 586.1,373.8 585.4,373.0 584.8,378.1 584.1,374.7 583.4,373.4 582.8,375.3 582.1,372.9 581.5,371.2 580.8,370.4 580.1,372.4 579.5,367.7 578.8,370.7 578.1,369.4 577.5,367.2 576.8,368.5 576.2,369.8 575.5,367.5 574.8,367.4 574.2,370.6 573.5,371.2 572.9,368.7 572.2,373.2 571.5,371.8 570.9,373.7 570.2,372.6 569.6,374.7 568.9,370.8 568.2,370.9 567.6,372.4 566.9,372.6 566.2,369.7 565.6,374.1 564.9,371.4 564.3,374.3 563.6,373.1 562.9,369.1 562.3,369.6 561.6,371.2 561.0,370.8 560.3,369.6 559.6,371.5 559.0,373.6 558.3,371.4 557.7,372.9 557.0,373.7 556.3,372.5 555.7,373.2 555.0,375.1 554.4,375.2 553.7,380.3 553.0,378.6 552.4,381.8 551.7,382.1 551.0,387.0 550.4,387.6 549.7,392.7 549.1,392.6 548.4,393.6 547.7,397.6 547.1,399.1 546.4,400.9 545.8,401.7 545.1,407.7 544.4,410.0 543.8,410.2 543.1,410.5 542.5,415.4 541.8,413.4 541.1,417.8 540.5,415.1 539.8,419.0 539.1,416.3 538.5,421.8 537.8,423.9 537.2,426.0 536.5,427.1" fill="#DD8452" stroke="none" stroke-width="0" fill-opacity="0.2"/>
<polyline points="536.5,421.0 537.2,420.0 537.8,417.9 538.5,415.8 539.1,410.3 539.8,413.0 540.5,409.0 541.1,411.8 541.8,407.3 542.5,409.4 543.1,404.4 543.8,404.2 544.4,404.0 545.1,401.7 545.8,395.7 546.4,394.9 547.1,393.1 547.7,391.6 548.4,387.6 549.1,386.6 549.7,386.7 550.4,381.6 551.0,381.0 551.7,376.0 552.4,375.8 553.0,372.6 553.7,374.3 554.4,369.2 555.0,369.1 555.7,367.2 556.3,366.5 557.0,367.7 557.7,366.9 558.3,365.4 559.0,367.6 559.6,365.5 560.3,363.6 561.0,364.7 561.6,365.2 562.3,363.6 562.9,363.0 563.6,367.1 564.3,368.2 564.9,365.4 565.6,368.1 566.2,363.7 566.9,366.6 567.6,366.4 568.2,364.9 568.9,364.8 569.6,368.6 570.2,366.5 570.9,367.7 571.5,365.7 572.2,367.2 572.9,362.7 573.5,365.2 574.2,364.6 574.8,361.4 575.5,361.4 576.2,363.7 576.8,362.5 577.5,361.2 578.1,363.4 578.8,364.7 579.5,361.6 580.1,366.4 580.8,364.4 581.5,365.2 582.1,366.9 582.8,369.2 583.4,367.4 584.1,368.7 584.8,372.1 585.4,367.0 586.1,367.8 586.7,369.2 587.4,369.3 588.1,369.1 588.7,364.6 589.4,363.8 590.0,366.0 590.7,366.6 591.4,366.9 592.0,364.8 592.7,365.1 593.4,366.2 594.0,364.5 594.7,361.4 595.3,365.2 596.0,363.1" fill="none" stroke="#DD8452" stroke-width="0.9" stroke-linejoin="round" stroke-dasharray="2,0.8"/>
<polyline points="536.5,418.7 537.2,420.8 537.8,419.2 538.5,418.1 539.1,419.3 539.8,420.1 540.5,419.9 541.1,416.1 541.8,415.9 542.5,413.3 543.1,410.8 543.8,407.4 544.4,406.7 545.1,405.5 545.8,400.8 546.4,398.3 547.1,393.2 547.7,387.2 548.4,383.0 549.1,379.6 549.7,374.0 550.4,367.5 551.0,365.2 551.7,358.5 552.4,356.4 553.0,347.7 553.7,343.7 554.4,340.1 555.0,338.0 555.7,339.4 556.3,343.1 557.0,342.9 557.7,342.6 558.3,341.2 559.0,345.6 559.6,346.8 560.3,346.5 561.0,348.4 561.6,347.7 562.3,348.0 562.9,349.3 563.6,351.3 564.3,352.6 564.9,350.2 565.6,352.5 566.2,353.2 566.9,353.0 567.6,352.0 568.2,350.9 568.9,351.0 569.6,351.2 570.2,352.6 570.9,353.1 571.5,353.3 572.2,349.9 572.9,353.0 573.5,350.7 574.2,349.1 574.8,351.3 575.5,350.9 576.2,350.6 576.8,348.2 577.5,349.1 578.1,348.3 578.8,351.8 579.5,349.2 580.1,350.6 580.8,351.1 581.5,349.6 582.1,350.2 582.8,349.7 583.4,350.7 584.1,350.3 584.8,352.5 585.4,352.2 586.1,351.5 586.7,353.2 587.4,354.9 588.1,353.6 588.7,352.9 589.4,353.5 590.0,357.1 590.7,356.6 591.4,357.5 592.0,356.5 592.7,353.3 593.4,355.0 594.0,354.8 594.7,354.4 595.3,353.1 596.0,351.5" fill="none" stroke="#4C72B0" stroke-width="0.9" stroke-linejoin="round"/>
</g>
<line x1="573.50" y1="410.50" x2="576.50" y2="392.50" stroke="#4C72B0" stroke-width="1.4" stroke-opacity="0.2"/>
<line x1="573.50" y1="410.50" x2="574.40" y2="392.20" stroke="#4C72B0" stroke-width="1.4" stroke-opacity="0.3"/>
<line x1="573.50" y1="410.50" x2="572.30" y2="391.90" stroke="#4C72B0" stroke-width="1.4" stroke-opacity="0.45"/>
<line x1="573.50" y1="410.50" x2="570.20" y2="391.60" stroke="#4C72B0" stroke-width="1.4" stroke-opacity="0.6"/>
<line x1="573.50" y1="410.50" x2="568.10" y2="391.30" stroke="#4C72B0" stroke-width="2.0" stroke-opacity="0.9"/>
<line x1="557.50" y1="415.10" x2="591.70" y2="415.10" stroke="#222" stroke-width="0.6"/>
<line x1="559.00" y1="415.30" x2="557.50" y2="417.40" stroke="#222" stroke-width="0.4"/>
<line x1="562.80" y1="415.30" x2="561.30" y2="417.40" stroke="#222" stroke-width="0.4"/>
<line x1="566.60" y1="415.30" x2="565.10" y2="417.40" stroke="#222" stroke-width="0.4"/>
<line x1="570.40" y1="415.30" x2="568.90" y2="417.40" stroke="#222" stroke-width="0.4"/>
<line x1="574.20" y1="415.30" x2="572.70" y2="417.40" stroke="#222" stroke-width="0.4"/>
<line x1="578.00" y1="415.30" x2="576.50" y2="417.40" stroke="#222" stroke-width="0.4"/>
<line x1="581.80" y1="415.30" x2="580.30" y2="417.40" stroke="#222" stroke-width="0.4"/>
<line x1="585.60" y1="415.30" x2="584.10" y2="417.40" stroke="#222" stroke-width="0.4"/>
<line x1="589.40" y1="415.30" x2="587.90" y2="417.40" stroke="#222" stroke-width="0.4"/>
<rect x="566.30" y="409.60" width="15.60" height="4.70" fill="#f4f4f4" stroke="#222" stroke-width="0.5" rx="0" fill-opacity="0.8"/>
<circle cx="570.00" cy="412.00" r="1.3" fill="none" stroke="#222" stroke-width="0.35"/>
<circle cx="574.00" cy="412.00" r="1.3" fill="none" stroke="#222" stroke-width="0.35"/>
<circle cx="578.00" cy="412.00" r="1.3" fill="none" stroke="#222" stroke-width="0.35"/>
<line x1="566.00" y1="410.60" x2="559.50" y2="410.60" stroke="#222" stroke-width="0.5"/>
<polygon points="558.0,410.6 560.5,409.5 560.5,411.7" fill="#222" stroke="none" stroke-width="0"/>
<rect x="617.50" y="332.00" width="62.20" height="92.80" fill="#EAEAF2" stroke="none" stroke-width="0" rx="0"/>
<line x1="617.50" y1="338.80" x2="679.70" y2="338.80" stroke="#ffffff" stroke-width="0.7"/>
<line x1="617.50" y1="359.20" x2="679.70" y2="359.20" stroke="#ffffff" stroke-width="0.7"/>
<line x1="617.50" y1="379.60" x2="679.70" y2="379.60" stroke="#ffffff" stroke-width="0.7"/>
<line x1="617.50" y1="400.00" x2="679.70" y2="400.00" stroke="#ffffff" stroke-width="0.7"/>
<line x1="620.30" y1="332.00" x2="620.30" y2="424.80" stroke="#ffffff" stroke-width="0.7"/>
<line x1="678.10" y1="332.00" x2="678.10" y2="424.80" stroke="#ffffff" stroke-width="0.7"/>
<text x="615.00" y="341.23" font-size="6.75" text-anchor="end" fill="#3c3c3c" font-weight="normal" letter-spacing="0.00" stroke="#3c3c3c" stroke-width="0.08">−160</text>
<text x="615.00" y="361.63" font-size="6.75" text-anchor="end" fill="#3c3c3c" font-weight="normal" letter-spacing="0.00" stroke="#3c3c3c" stroke-width="0.08">−170</text>
<text x="615.00" y="382.03" font-size="6.75" text-anchor="end" fill="#3c3c3c" font-weight="normal" letter-spacing="0.00" stroke="#3c3c3c" stroke-width="0.08">−180</text>
<text x="615.00" y="402.43" font-size="6.75" text-anchor="end" fill="#3c3c3c" font-weight="normal" letter-spacing="0.00" stroke="#3c3c3c" stroke-width="0.08">−190</text>
<text x="649.40" y="330.12" font-size="7.55" text-anchor="middle" fill="#222" font-weight="normal" letter-spacing="0.00" stroke="#222" stroke-width="0.08">MountainCar</text>
<text x="620.30" y="433.93" font-size="6.75" text-anchor="middle" fill="#3c3c3c" font-weight="normal" letter-spacing="0.00" stroke="#3c3c3c" stroke-width="0.08">0</text>
<text x="678.70" y="434.19" font-size="6.08" text-anchor="middle" fill="#3c3c3c" stroke="#3c3c3c" stroke-width="0.06">10<tspan font-size="3.77" dy="-2.55">3</tspan></text>
<text x="648.60" y="444.25" font-size="7.65" text-anchor="middle" fill="#2b2b2b" font-weight="normal" letter-spacing="0.00" stroke="#2b2b2b" stroke-width="0.08">Training episode</text>
<clipPath id="mcclip"><rect x="617.5" y="332" width="62.2" height="92.8"/></clipPath>
<g clip-path="url(#mcclip)">
<polygon points="620.3,417.7 620.9,419.8 621.5,420.6 622.0,420.4 622.6,419.9 623.2,414.8 623.8,415.5 624.3,416.5 624.9,415.3 625.5,418.8 626.1,419.3 626.6,415.5 627.2,417.1 627.8,415.2 628.4,418.6 629.0,418.3 629.5,416.4 630.1,415.4 630.7,419.8 631.3,419.2 631.8,420.7 632.4,356.1 633.0,342.1 633.6,352.6 634.1,349.5 634.7,348.8 635.3,345.0 635.9,350.3 636.5,357.6 637.0,353.0 637.6,350.6 638.2,360.7 638.8,345.3 639.3,356.0 639.9,343.6 640.5,354.9 641.1,343.1 641.6,347.9 642.2,354.7 642.8,348.5 643.4,362.9 644.0,361.2 644.5,351.1 645.1,356.8 645.7,354.9 646.3,348.9 646.8,353.7 647.4,351.0 648.0,348.4 648.6,346.6 649.1,361.5 649.7,346.9 650.3,348.7 650.9,359.3 651.5,362.3 652.0,360.2 652.6,362.4 653.2,352.6 653.8,344.0 654.3,354.5 654.9,358.9 655.5,361.1 656.1,344.8 656.7,353.6 657.2,360.0 657.8,346.3 658.4,356.5 659.0,345.0 659.5,354.7 660.1,360.1 660.7,361.5 661.3,365.1 661.8,348.9 662.4,358.9 663.0,350.8 663.6,348.6 664.2,357.6 664.7,355.5 665.3,351.3 665.9,352.9 666.5,358.7 667.0,362.2 667.6,360.5 668.2,366.0 668.8,353.5 669.3,353.5 669.9,350.8 670.5,357.7 671.1,351.9 671.7,355.5 672.2,349.6 672.8,355.8 673.4,353.4 674.0,355.0 674.5,363.1 675.1,365.8 675.7,350.7 676.3,353.4 676.8,357.2 677.4,349.0 678.0,364.1 678.0,422.4 677.4,422.4 676.8,422.4 676.3,422.4 675.7,422.4 675.1,422.4 674.5,422.4 674.0,422.4 673.4,422.4 672.8,422.4 672.2,422.4 671.7,422.4 671.1,422.4 670.5,422.4 669.9,422.4 669.3,422.4 668.8,422.4 668.2,422.4 667.6,422.4 667.0,422.4 666.5,422.4 665.9,422.4 665.3,422.4 664.7,422.4 664.2,422.4 663.6,422.4 663.0,422.4 662.4,422.4 661.8,422.4 661.3,422.4 660.7,422.4 660.1,422.4 659.5,422.4 659.0,422.4 658.4,422.4 657.8,422.4 657.2,422.4 656.7,422.4 656.1,422.4 655.5,422.4 654.9,422.4 654.3,422.4 653.8,422.4 653.2,422.4 652.6,422.4 652.0,422.4 651.5,422.4 650.9,422.4 650.3,422.4 649.7,422.4 649.1,422.4 648.6,422.4 648.0,422.4 647.4,422.4 646.8,422.4 646.3,422.4 645.7,422.4 645.1,422.4 644.5,422.4 644.0,422.4 643.4,422.4 642.8,422.4 642.2,422.4 641.6,422.4 641.1,422.4 640.5,422.4 639.9,422.4 639.3,422.4 638.8,422.4 638.2,422.4 637.6,422.4 637.0,422.4 636.5,422.4 635.9,422.4 635.3,422.4 634.7,422.4 634.1,422.4 633.6,422.4 633.0,422.4 632.4,422.4 631.8,424.0 631.3,422.5 630.7,423.1 630.1,418.7 629.5,419.7 629.0,421.5 628.4,421.9 627.8,418.4 627.2,420.4 626.6,418.7 626.1,422.5 625.5,422.1 624.9,418.6 624.3,419.8 623.8,418.8 623.2,418.1 622.6,423.2 622.0,423.6 621.5,423.8 620.9,423.1 620.3,420.9" fill="#4C72B0" stroke="none" stroke-width="0" fill-opacity="0.15"/>
<polygon points="620.3,417.6 620.9,414.4 621.5,415.4 622.0,416.3 622.6,415.6 623.2,416.6 623.8,414.2 624.3,413.9 624.9,415.9 625.5,413.3 626.1,417.7 626.6,415.0 627.2,417.1 627.8,417.3 628.4,415.0 629.0,417.5 629.5,417.6 630.1,417.2 630.7,416.0 631.3,413.5 631.8,416.4 632.4,417.3 633.0,413.9 633.6,413.6 634.1,412.7 634.7,417.7 635.3,417.1 635.9,415.7 636.5,412.7 637.0,415.1 637.6,413.3 638.2,416.3 638.8,414.4 639.3,412.8 639.9,414.7 640.5,412.6 641.1,410.5 641.6,410.1 642.2,410.2 642.8,409.0 643.4,407.6 644.0,409.5 644.5,411.3 645.1,411.4 645.7,412.1 646.3,407.5 646.8,409.2 647.4,408.9 648.0,407.4 648.6,408.3 649.1,409.8 649.7,408.6 650.3,411.2 650.9,410.2 651.5,409.6 652.0,407.1 652.6,407.7 653.2,407.9 653.8,408.9 654.3,409.0 654.9,408.8 655.5,410.5 656.1,408.8 656.7,405.8 657.2,406.3 657.8,409.2 658.4,407.9 659.0,406.5 659.5,409.3 660.1,408.5 660.7,407.2 661.3,409.3 661.8,405.4 662.4,410.0 663.0,405.4 663.6,406.5 664.2,407.9 664.7,408.4 665.3,405.3 665.9,406.1 666.5,408.7 667.0,408.2 667.6,409.4 668.2,406.6 668.8,407.7 669.3,408.4 669.9,406.4 670.5,408.8 671.1,409.4 671.7,406.0 672.2,405.6 672.8,406.1 673.4,407.4 674.0,406.7 674.5,405.9 675.1,410.4 675.7,409.0 676.3,408.8 676.8,406.8 677.4,409.0 678.0,406.8 678.0,414.9 677.4,417.1 676.8,415.0 676.3,416.9 675.7,417.2 675.1,418.5 674.5,414.1 674.0,414.8 673.4,415.6 672.8,414.2 672.2,413.8 671.7,414.2 671.1,417.6 670.5,417.0 669.9,414.5 669.3,416.5 668.8,415.9 668.2,414.8 667.6,417.6 667.0,416.3 666.5,416.8 665.9,414.2 665.3,413.4 664.7,416.6 664.2,416.0 663.6,414.7 663.0,413.6 662.4,418.2 661.8,413.5 661.3,417.4 660.7,415.4 660.1,416.6 659.5,417.5 659.0,414.7 658.4,416.0 657.8,417.4 657.2,414.4 656.7,414.0 656.1,417.0 655.5,418.7 654.9,416.9 654.3,417.2 653.8,417.1 653.2,416.1 652.6,415.9 652.0,415.3 651.5,417.8 650.9,418.3 650.3,419.4 649.7,416.8 649.1,417.9 648.6,416.4 648.0,415.6 647.4,417.1 646.8,417.4 646.3,415.6 645.7,420.3 645.1,419.5 644.5,419.5 644.0,417.7 643.4,415.7 642.8,417.1 642.2,418.3 641.6,418.2 641.1,418.7 640.5,420.8 639.9,422.9 639.3,420.9 638.8,422.6 638.2,424.4 637.6,421.4 637.0,423.2 636.5,420.9 635.9,423.8 635.3,425.2 634.7,425.9 634.1,420.8 633.6,421.8 633.0,422.0 632.4,425.5 631.8,424.6 631.3,421.7 630.7,424.1 630.1,425.4 629.5,425.7 629.0,425.7 628.4,423.2 627.8,425.5 627.2,425.3 626.6,423.1 626.1,425.9 625.5,421.5 624.9,424.1 624.3,422.1 623.8,422.4 623.2,424.8 622.6,423.8 622.0,424.5 621.5,423.5 620.9,422.6 620.3,425.7" fill="#DD8452" stroke="none" stroke-width="0" fill-opacity="0.2"/>
<polyline points="620.3,421.7 620.9,418.5 621.5,419.5 622.0,420.4 622.6,419.7 623.2,420.7 623.8,418.3 624.3,418.0 624.9,420.0 625.5,417.4 626.1,421.8 626.6,419.0 627.2,421.2 627.8,421.4 628.4,419.1 629.0,421.6 629.5,421.6 630.1,421.3 630.7,420.0 631.3,417.6 631.8,420.5 632.4,421.4 633.0,418.0 633.6,417.7 634.1,416.7 634.7,421.8 635.3,421.2 635.9,419.7 636.5,416.8 637.0,419.2 637.6,417.3 638.2,420.3 638.8,418.5 639.3,416.9 639.9,418.8 640.5,416.7 641.1,414.6 641.6,414.1 642.2,414.3 642.8,413.0 643.4,411.6 644.0,413.6 644.5,415.4 645.1,415.4 645.7,416.2 646.3,411.5 646.8,413.3 647.4,413.0 648.0,411.5 648.6,412.3 649.1,413.8 649.7,412.7 650.3,415.3 650.9,414.3 651.5,413.7 652.0,411.2 652.6,411.8 653.2,412.0 653.8,413.0 654.3,413.1 654.9,412.9 655.5,414.6 656.1,412.9 656.7,409.9 657.2,410.4 657.8,413.3 658.4,411.9 659.0,410.6 659.5,413.4 660.1,412.5 660.7,411.3 661.3,413.3 661.8,409.5 662.4,414.1 663.0,409.5 663.6,410.6 664.2,412.0 664.7,412.5 665.3,409.4 665.9,410.1 666.5,412.8 667.0,412.2 667.6,413.5 668.2,410.7 668.8,411.8 669.3,412.4 669.9,410.4 670.5,412.9 671.1,413.5 671.7,410.1 672.2,409.7 672.8,410.2 673.4,411.5 674.0,410.7 674.5,410.0 675.1,414.4 675.7,413.1 676.3,412.9 676.8,410.9 677.4,413.1 678.0,410.8" fill="none" stroke="#DD8452" stroke-width="0.9" stroke-linejoin="round"/>
<polyline points="620.3,419.3 620.9,421.4 621.5,422.2 622.0,422.0 622.6,421.6 623.2,416.5 623.8,417.2 624.3,418.1 624.9,416.9 625.5,420.4 626.1,420.9 626.6,417.1 627.2,418.7 627.8,416.8 628.4,420.2 629.0,419.9 629.5,418.0 630.1,417.0 630.7,421.4 631.3,420.8 631.8,422.4 632.4,418.5 633.0,415.8 633.6,408.4 634.1,401.5 634.7,388.6 635.3,389.2 635.9,392.8 636.5,388.1 637.0,389.9 637.6,391.2 638.2,392.4 638.8,393.8 639.3,392.2 639.9,393.1 640.5,394.2 641.1,391.9 641.6,392.1 642.2,390.6 642.8,390.7 643.4,394.1 644.0,392.8 644.5,395.1 645.1,394.9 645.7,394.3 646.3,392.0 646.8,397.9 647.4,395.5 648.0,396.5 648.6,393.9 649.1,393.2 649.7,395.5 650.3,397.3 650.9,393.5 651.5,392.9 652.0,391.8 652.6,390.6 653.2,391.9 653.8,390.7 654.3,388.8 654.9,392.7 655.5,390.9 656.1,387.6 656.7,385.3 657.2,385.0 657.8,388.6 658.4,383.9 659.0,387.6 659.5,386.0 660.1,387.3 660.7,384.1 661.3,384.9 661.8,382.5 662.4,380.4 663.0,384.9 663.6,381.2 664.2,381.0 664.7,382.5 665.3,383.5 665.9,377.4 666.5,378.4 667.0,376.8 667.6,378.0 668.2,371.0 668.8,372.1 669.3,369.6 669.9,371.9 670.5,375.4 671.1,375.2 671.7,381.0 672.2,382.6 672.8,381.2 673.4,379.4 674.0,383.2 674.5,381.4 675.1,376.8 675.7,378.1 676.3,378.7 676.8,374.8 677.4,378.7 678.0,377.0" fill="none" stroke="#4C72B0" stroke-width="0.9" stroke-linejoin="round"/>
</g>
<path d="M629,362 C633,366 636,369 640,367.8 C644,366.5 648,358 651,353.5 C654,349 657,345.5 660,345 C661.5,345 662.8,345.8 663.5,346.5" stroke="#222" stroke-width="0.6" fill="none"/>
<line x1="641.50" y1="367.50" x2="642.80" y2="368.60" stroke="#222" stroke-width="0.4"/>
<line x1="644.00" y1="364.50" x2="645.30" y2="365.60" stroke="#222" stroke-width="0.4"/>
<line x1="646.00" y1="361.30" x2="647.30" y2="362.40" stroke="#222" stroke-width="0.4"/>
<line x1="648.00" y1="358.00" x2="649.30" y2="359.10" stroke="#222" stroke-width="0.4"/>
<line x1="650.00" y1="355.00" x2="651.30" y2="356.10" stroke="#222" stroke-width="0.4"/>
<line x1="652.00" y1="352.00" x2="653.30" y2="353.10" stroke="#222" stroke-width="0.4"/>
<line x1="654.20" y1="349.30" x2="655.50" y2="350.40" stroke="#222" stroke-width="0.4"/>
<line x1="656.80" y1="347.00" x2="658.10" y2="348.10" stroke="#222" stroke-width="0.4"/>
<line x1="659.50" y1="345.60" x2="660.80" y2="346.70" stroke="#222" stroke-width="0.4"/>
<g transform="rotate(-57 643.8 358.6)"><rect x="635.8" y="356.1" width="16" height="5" rx="1.5" fill="#f4f4f6" stroke="#222" stroke-width="0.5"/><circle cx="640" cy="358.6" r="1.3" fill="none" stroke="#222" stroke-width="0.35"/><circle cx="644" cy="358.6" r="1.3" fill="none" stroke="#222" stroke-width="0.35"/><circle cx="648" cy="358.6" r="1.3" fill="none" stroke="#222" stroke-width="0.35"/></g>
<line x1="648.20" y1="351.50" x2="650.20" y2="347.50" stroke="#222" stroke-width="0.5"/>
<polygon points="650.8,346.2 649.2,348.2 651.4,348.6" fill="#222" stroke="none" stroke-width="0"/>
<line x1="660.50" y1="345.00" x2="660.50" y2="336.50" stroke="#222" stroke-width="0.6"/>
<polygon points="660.5,336.3 665.2,338.2 660.5,340.1" fill="#222" stroke="none" stroke-width="0"/>
</svg></body></html>
